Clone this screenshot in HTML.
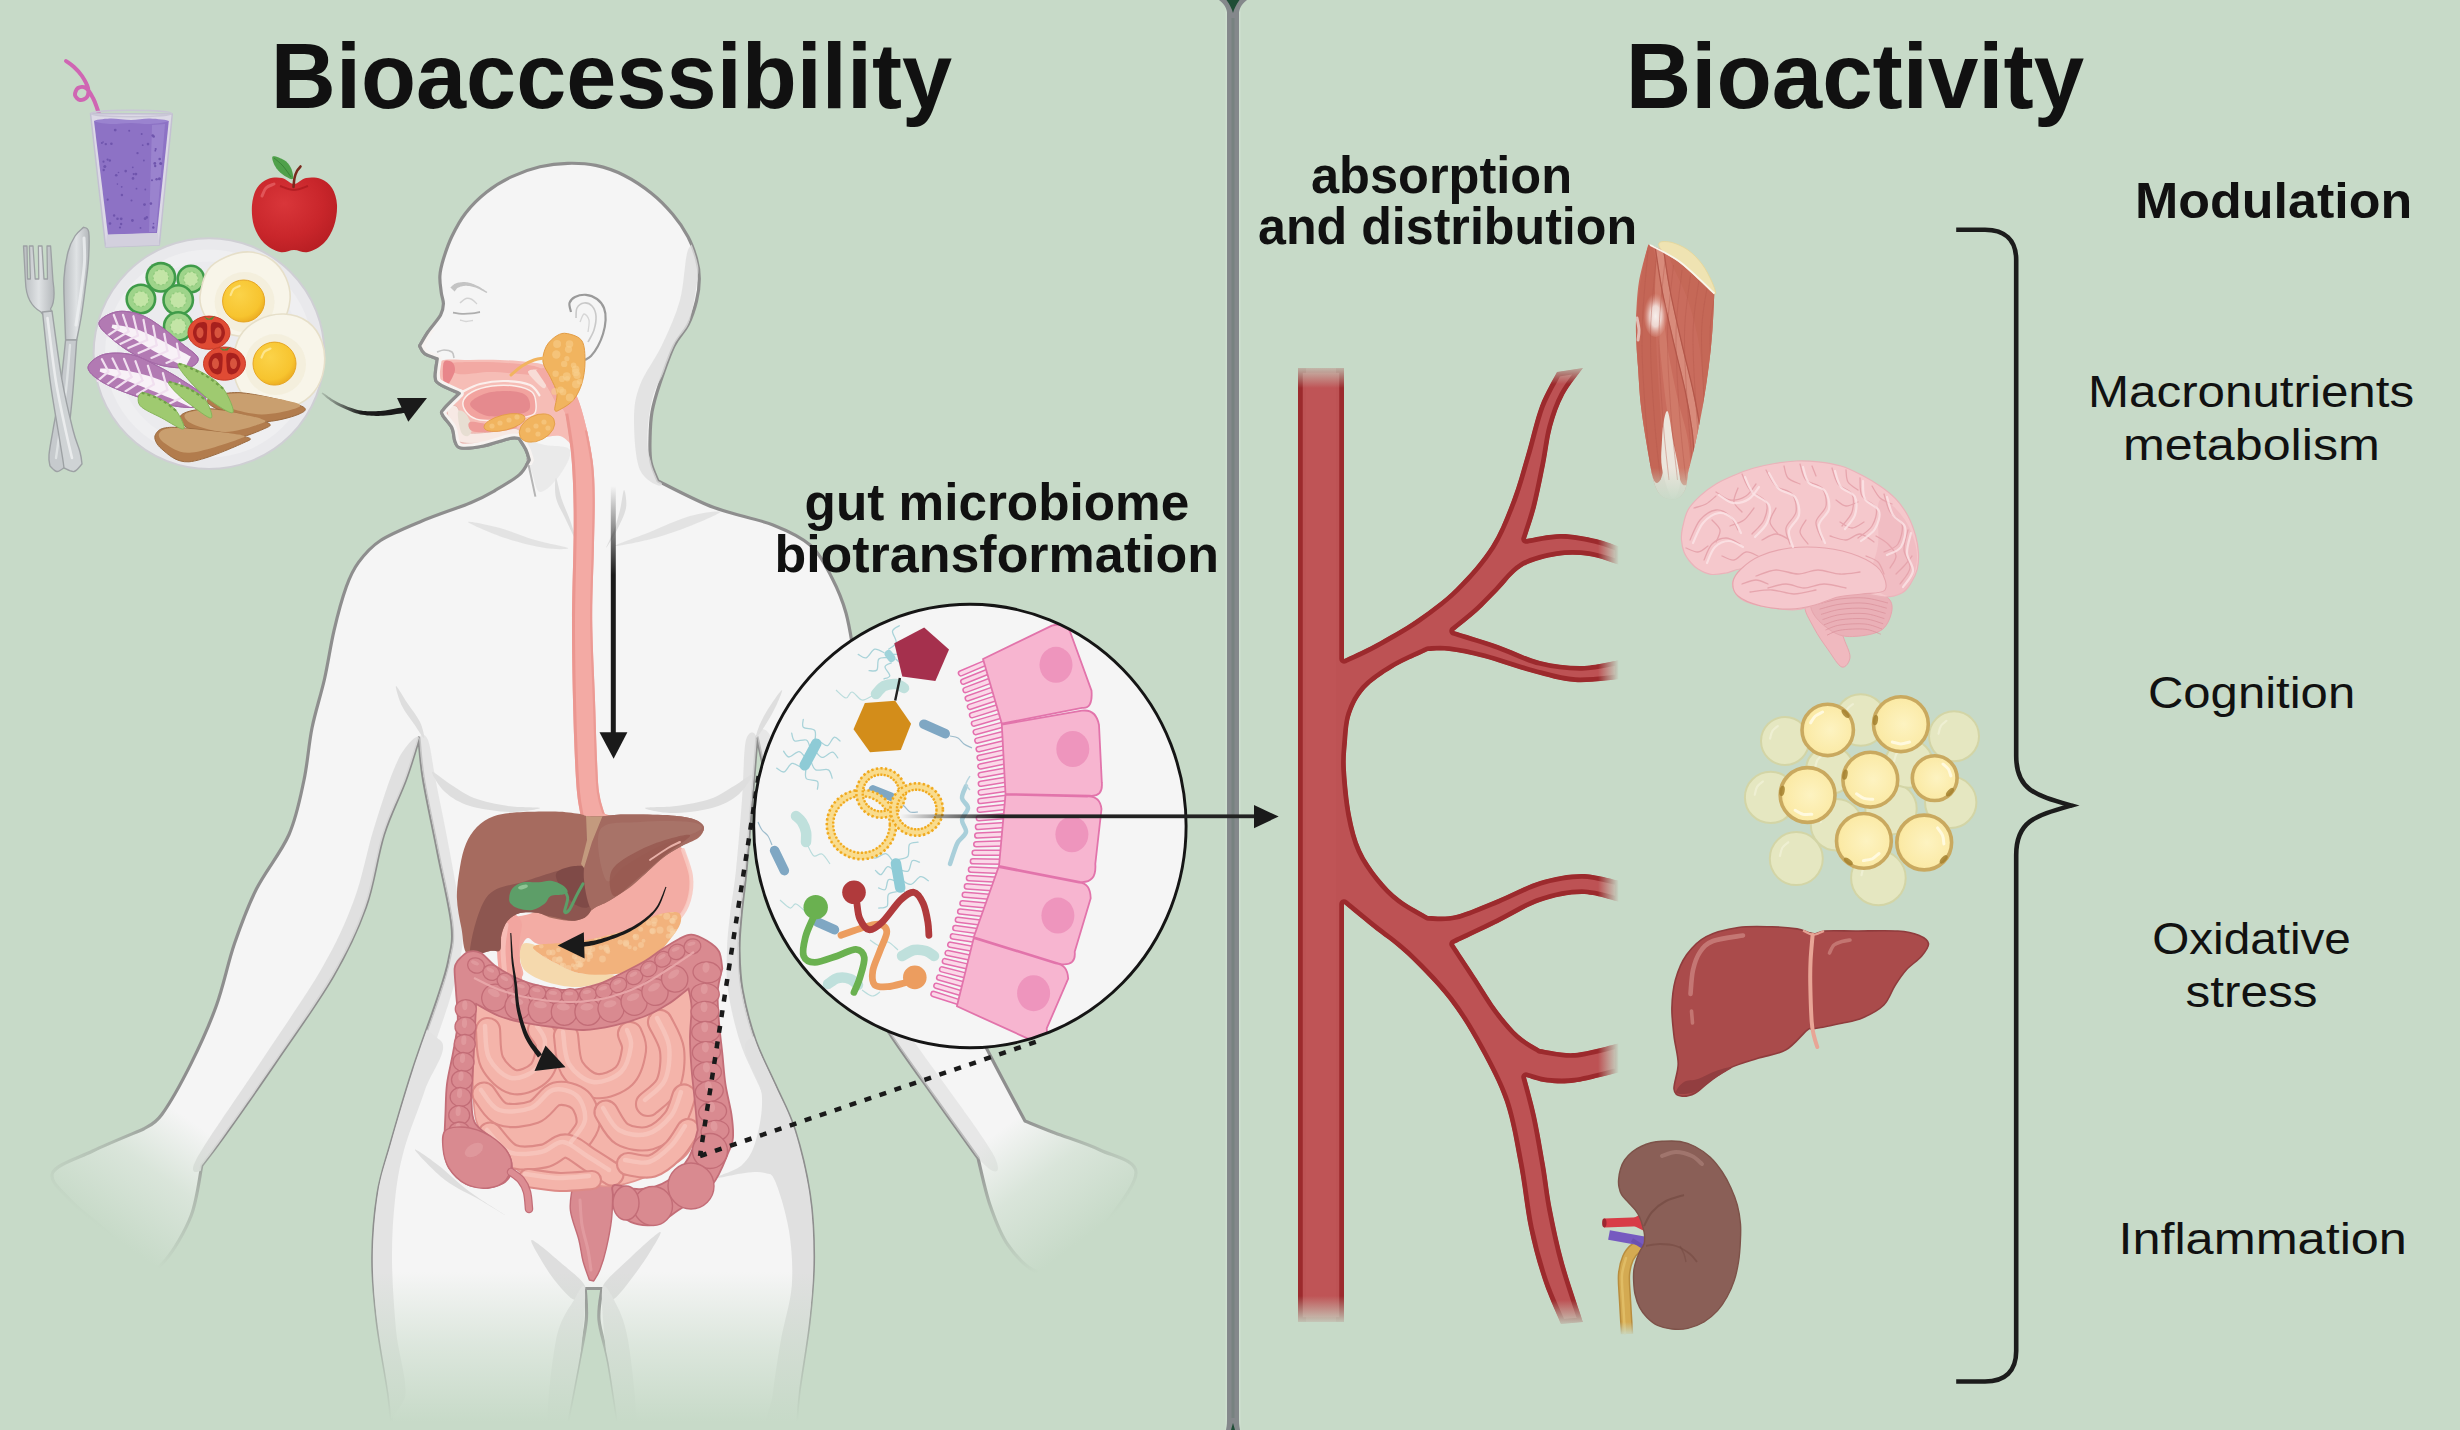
<!DOCTYPE html>
<html><head><meta charset="utf-8"><title>Bioaccessibility and Bioactivity</title>
<style>html,body{margin:0;padding:0;background:#c7dac8;}svg{display:block}text{font-family:"Liberation Sans",sans-serif;}</style>
</head><body>
<svg width="2460" height="1430" viewBox="0 0 2460 1430">
<defs>
<linearGradient id="fadeDown" x1="0" y1="0" x2="0" y2="1"><stop offset="0" stop-color="#c7dac8" stop-opacity="0"/><stop offset="1" stop-color="#c7dac8"/></linearGradient>
<linearGradient id="fadeUp" x1="0" y1="1" x2="0" y2="0"><stop offset="0" stop-color="#c7dac8" stop-opacity="0"/><stop offset="1" stop-color="#c7dac8"/></linearGradient>
<linearGradient id="fadeRight" x1="0" y1="0" x2="1" y2="0"><stop offset="0" stop-color="#c7dac8" stop-opacity="0"/><stop offset="1" stop-color="#c7dac8"/></linearGradient>

<linearGradient id="legFade" gradientUnits="userSpaceOnUse" x1="0" y1="1272" x2="0" y2="1422"><stop offset="0" stop-color="#c7dac8" stop-opacity="0"/><stop offset="0.5" stop-color="#c7dac8" stop-opacity="0.55"/><stop offset="1" stop-color="#c7dac8"/></linearGradient>
<linearGradient id="lhFade" gradientUnits="userSpaceOnUse" x1="190" y1="1120" x2="110" y2="1235"><stop offset="0" stop-color="#c7dac8" stop-opacity="0"/><stop offset="0.45" stop-color="#c7dac8" stop-opacity="0.6"/><stop offset="1" stop-color="#c7dac8"/></linearGradient>
<linearGradient id="rhFade" gradientUnits="userSpaceOnUse" x1="1000" y1="1130" x2="1082" y2="1240"><stop offset="0" stop-color="#c7dac8" stop-opacity="0"/><stop offset="0.45" stop-color="#c7dac8" stop-opacity="0.6"/><stop offset="1" stop-color="#c7dac8"/></linearGradient>

<linearGradient id="esoG" x1="0" y1="0" x2="1" y2="0"><stop offset="0" stop-color="#ec958f"/><stop offset="0.3" stop-color="#f4b0a9"/><stop offset="0.7" stop-color="#f4b0a9"/><stop offset="1" stop-color="#ea928c"/></linearGradient>
<linearGradient id="arrFadeR" gradientUnits="userSpaceOnUse" x1="322" y1="0" x2="362" y2="0"><stop offset="0" stop-color="#1a1a1a" stop-opacity="0.15"/><stop offset="1" stop-color="#1a1a1a"/></linearGradient>
<linearGradient id="arrFadeDown" gradientUnits="userSpaceOnUse" x1="0" y1="486" x2="0" y2="575"><stop offset="0" stop-color="#1a1a1a" stop-opacity="0"/><stop offset="1" stop-color="#1a1a1a"/></linearGradient>

<clipPath id="circClip"><ellipse cx="969.9" cy="826" rx="216.2" ry="221.7"/></clipPath>
<linearGradient id="longArr" gradientUnits="userSpaceOnUse" x1="900" y1="0" x2="1000" y2="0"><stop offset="0" stop-color="#222" stop-opacity="0"/><stop offset="0.5" stop-color="#222" stop-opacity="0.55"/><stop offset="1" stop-color="#222"/></linearGradient>

<radialGradient id="yolkG" cx="0.4" cy="0.35" r="0.7"><stop offset="0" stop-color="#fbd349"/><stop offset="0.75" stop-color="#f7c42f"/><stop offset="1" stop-color="#eaa91f"/></radialGradient>
<radialGradient id="appleG" cx="0.38" cy="0.35" r="0.75"><stop offset="0" stop-color="#d9363a"/><stop offset="0.6" stop-color="#c9262b"/><stop offset="1" stop-color="#b51d22"/></radialGradient>
<linearGradient id="silverG" x1="0" y1="0" x2="1" y2="0"><stop offset="0" stop-color="#b9bdc0"/><stop offset="0.5" stop-color="#dfe2e4"/><stop offset="1" stop-color="#b4b8bb"/></linearGradient>

<radialGradient id="fatG" cx="0.55" cy="0.5" r="0.6"><stop offset="0" stop-color="#fdf3c1"/><stop offset="0.8" stop-color="#fbeaa6"/><stop offset="1" stop-color="#f3d98a"/></radialGradient>
<radialGradient id="tendG" cx="0.5" cy="0.55" r="0.5"><stop offset="0" stop-color="#f7efec"/><stop offset="0.45" stop-color="#f2e2dd" stop-opacity="0.9"/><stop offset="1" stop-color="#e3a79b" stop-opacity="0"/></radialGradient>
<linearGradient id="muscFade" gradientUnits="userSpaceOnUse" x1="0" y1="468" x2="0" y2="502"><stop offset="0" stop-color="#c7dac8" stop-opacity="0"/><stop offset="1" stop-color="#c7dac8"/></linearGradient>
</defs>
<rect x="0" y="0" width="2460" height="1430" fill="#c7dac8"/>
<rect x="1225.5" y="0" width="15" height="1430" fill="#cfe0d0"/>
<rect x="1227" y="0" width="12" height="1430" fill="#84888b"/>
<rect x="1231.5" y="12" width="3" height="1410" fill="#778280"/>
<path d="M1219,0 C1226,5 1227.5,11 1227.5,18 L1238.5,18 C1238.5,11 1240,5 1247,0 Z" fill="#84888b"/>
<path d="M1226.5,0 C1230,5 1232,9 1233,13 C1234,9 1236,5 1239.5,0 Z" fill="#1f4d36"/>
<path d="M1226,1430 C1227,1425 1227,1422 1227,1418 L1239,1418 C1239,1422 1239,1425 1240,1430 Z" fill="#84888b"/>
<path d="M1231,1430 L1233,1423 L1235,1430 Z" fill="#1f4d36"/>
<defs><path id="bodyPath" d="M419.6,345.8C420.4,347.1 421.6,351.4 424.5,353.6C427.4,355.8 435.2,357.9 437.3,358.8C436.9,361.8 434.9,372.5 435.2,376.7C435.5,380.9 435.4,381.2 439.4,384C443.4,386.8 456,391.8 459.3,393.4C456.7,396 446.4,405.6 443.6,409.2C440.8,412.8 441.1,411.9 442.5,415C443.9,418.1 449.9,423.6 452,428C454.1,432.4 453.5,438.4 455,441.7C456.5,445 456.3,447.3 461,448C465.7,448.7 475.3,447.6 483.4,446C491.5,444.4 503.8,439.8 509.7,438.5C515.6,437.2 517.5,438.5 519,438.5C520.2,440.4 524.3,446.4 526,450C527.7,453.6 528.8,458.3 529.3,460C527.7,462.4 525.2,469.5 519.5,474.6C513.8,479.7 503.1,485.8 495,490.5C486.9,495.2 482.9,497.6 470.7,502.7C458.5,507.8 437,514.7 422,521C407,527.3 391.1,533.6 380.5,540.5C369.9,547.4 364.2,554.7 358.5,562.4C352.8,570.1 350.4,575.4 346.3,586.8C342.2,598.2 337.6,615.2 334,630.7C330.4,646.2 328.1,663.3 324.4,679.5C320.7,695.7 315.4,711.2 312,728C308.6,744.8 307.8,762.2 304,780C300.2,797.8 296.9,816.3 289,834.5C281.1,852.7 265.5,870.8 256.4,889C247.3,907.2 241.2,924.2 234.5,943.6C227.8,963 223.7,985.5 216.4,1005.5C209.2,1025.5 200.1,1045.4 191,1063.6C181.9,1081.8 169.7,1103.6 161.8,1114.5C153.9,1125.4 146.6,1126.6 143.6,1129C135.1,1132.7 107.8,1143.7 92.7,1151C77.6,1158.3 56.5,1164.5 52.7,1172.7C48.9,1180.9 60.5,1189.6 70,1200C79.5,1210.4 97.7,1223.2 110,1235C122.3,1246.8 134.3,1266.8 143.6,1271C152.8,1275.2 157.6,1269.2 165.5,1260C173.4,1250.8 184.9,1231.8 191,1216C197.1,1200.2 200,1173.9 201.8,1165.5C205.4,1160.7 211.5,1153.4 223.6,1136.4C235.7,1119.4 256.3,1090.3 274.5,1063.6C292.7,1036.9 317.5,1002.5 332.7,976.4C347.9,950.3 357,930.6 365.5,907C374,883.4 376.9,855.7 383.6,834.5C390.3,813.3 399.6,796.1 405.5,780C411.4,763.9 416.8,745 419,738C419.8,745 420.4,760.9 423.6,780C426.8,799.1 433.3,828.5 438,852.7C442.7,876.9 450.2,907.1 452,925C453.8,942.9 451.3,947.8 449,960C446.7,972.2 444.1,979.5 438,998C431.9,1016.5 420.5,1046.7 412.7,1071C404.9,1095.3 396.8,1123.2 391,1143.6C385.2,1164 381,1174.5 378,1193.4C375,1212.3 373,1235.7 372.8,1256.8C372.6,1277.9 374.4,1297.1 377,1320C379.6,1342.9 386.1,1375.7 388.6,1394C391.1,1412.3 391.4,1424 392,1430L566,1430C568.1,1418.8 575.5,1380.8 578.9,1362.5C582.3,1344.2 585.2,1332.3 586.3,1320C587.3,1307.7 585.4,1293.8 585.2,1288.5L602,1288.5C601.5,1293.8 597.9,1307.7 599,1320C600.1,1332.3 605.2,1344.2 608.5,1362.5C611.8,1380.8 617.2,1418.8 619,1430L796,1430C796.5,1424 796.5,1412.3 798.7,1394C800.9,1375.7 806.8,1342.9 809.3,1320C811.8,1297.1 813.5,1277.9 813.5,1256.8C813.5,1235.7 812.5,1214.5 809.3,1193.4C806.1,1172.3 800.2,1148.1 794.5,1130C788.8,1111.9 781.6,1100 775,1085C768.4,1070 760.5,1055.8 755,1040C749.5,1024.2 744.7,1005 742,990C739.3,975 739.2,962.5 739,950C738.8,937.5 739.8,928.3 741,915C742.2,901.7 744.2,889.2 746,870C747.8,850.8 750.2,822.2 752,800C753.8,777.8 756.2,747.5 757,737C759.2,745.8 762.8,766.2 770,790C777.2,813.8 787.5,850.8 800,880C812.5,909.2 829.7,938.8 845,965C860.3,991.2 877,1014.8 892,1037C907,1059.2 920.7,1077.8 935,1098C949.3,1118.2 970.8,1148 978,1158C980,1165.8 985,1190.5 990,1205C995,1219.5 1000,1233.8 1008,1245C1016,1256.2 1026.8,1269.2 1038,1272C1049.2,1274.8 1063.8,1269.8 1075,1262C1086.2,1254.2 1094.8,1240 1105,1225C1115.2,1210 1136.8,1184.5 1136,1172C1135.2,1159.5 1113.5,1156.5 1100,1150C1086.5,1143.5 1067.5,1137.8 1055,1133C1042.5,1128.2 1030,1123 1025,1121C1019.3,1110.3 1003.5,1081.3 991,1057C978.5,1032.7 962.7,1002.8 950,975C937.3,947.2 925.8,919.2 915,890C904.2,860.8 893.2,828.3 885,800C876.8,771.7 871,743.3 866,720C861,696.7 858.3,677.8 855,660C851.7,642.2 849.8,626.7 846,613C842.2,599.3 837.8,589.2 832,578C826.2,566.8 820.8,554.6 811,545.8C801.2,537 789.2,531.4 773,525C756.8,518.6 733.2,514.9 714,507.6C694.8,500.3 667.3,485.4 658,481C656.8,477.8 652.3,468.8 651,462C649.7,455.2 649.8,448.3 650,440C650.2,431.7 650.3,421.5 652,412C653.7,402.5 656.3,394 660,383C663.7,372 669.3,355.5 674,345.8C678.7,336.1 684.2,332.3 688,324.8C691.8,317.3 694.6,308.7 696.5,301C698.4,293.3 699.3,285.7 699.3,278.7C699.3,271.7 698.4,266 696.5,259C694.6,252 692,244.1 688,236.7C684,229.2 678.8,221.5 672.7,214.3C666.7,207.1 659.9,199.9 651.7,193.4C643.6,186.9 633.1,179.9 623.8,175.2C614.5,170.5 605.1,167.4 595.8,165.4C586.5,163.4 577.1,163.1 567.8,163.3C558.5,163.5 549.2,164.6 539.9,166.8C530.6,169 520.8,172.4 511.9,176.6C503,180.8 494.4,185.9 486.7,192C479,198.1 471.5,205.5 465.7,212.9C459.9,220.3 455.4,229 451.7,236.7C448,244.4 445.4,252.5 443.4,259C441.4,265.5 440.2,270.3 439.9,275.9C439.5,281.5 440.7,288 441.3,292.7C441.9,297.4 443.5,300.1 443.4,303.8C443.3,307.5 443.2,310.3 440.6,315C438,319.7 431.5,326.7 428,331.8C424.5,336.9 421,343.5 419.6,345.8Z"/></defs>
<clipPath id="bodyClip"><use href="#bodyPath"/></clipPath>
<use href="#bodyPath" fill="#f5f5f5" stroke="#8e8e8e" stroke-width="3.2" stroke-linejoin="round"/>
<g clip-path="url(#bodyClip)"><path d="M700,250C700.3,261.7 695.3,300.8 690,320C684.7,339.2 674.3,351.7 668,365C661.7,378.3 655.3,385.8 652,400C648.7,414.2 646.3,435.8 648,450C649.7,464.2 663.3,481.7 662,485C660.7,488.3 644.7,480.8 640,470C635.3,459.2 634,434.2 634,420C634,405.8 635.3,397.5 640,385C644.7,372.5 655.3,359.2 662,345C668.7,330.8 675.7,315.8 680,300C684.3,284.2 684.7,258.3 688,250C691.3,241.7 699.7,238.3 700,250Z" fill="#dedede" opacity="0.8"/>
<path d="M517,440C519.3,435.8 536.2,443.3 545,445C553.8,446.7 567.5,445 570,450C572.5,455 565,468 560,475C555,482 544.8,492.8 540,492C535.2,491.2 534.8,478.7 531,470C527.2,461.3 514.7,444.2 517,440Z" fill="#dedede" opacity="0.45"/>
<path d="M419,738C420.2,743 410.8,773 405,790C399.2,807 390.5,820 384,840C377.5,860 374.5,886.7 366,910C357.5,933.3 348.2,953.7 333,980C317.8,1006.3 293,1041.3 275,1068C257,1094.7 236.5,1123.3 225,1140C213.5,1156.7 210.8,1164.7 206,1168C201.2,1171.3 186.7,1178 196,1160C205.3,1142 241,1092 262,1060C283,1028 306.7,994.7 322,968C337.3,941.3 345.3,923.3 354,900C362.7,876.7 366.7,851.3 374,828C381.3,804.7 390.5,775 398,760C405.5,745 417.8,733 419,738Z" fill="#dedede" opacity="0.9"/>
<path d="M757,737C757.3,747 764.5,770.5 772,795C779.5,819.5 789.5,855.2 802,884C814.5,912.8 831.7,942 847,968C862.3,994 871.8,1008 894,1040C916.2,1072 963.7,1141.3 980,1160C996.3,1178.7 1004.3,1173.7 992,1152C979.7,1130.3 928,1062.3 906,1030C884,997.7 875,983.7 860,958C845,932.3 828.3,904 816,876C803.7,848 793.7,813.5 786,790C778.3,766.5 774.8,743.8 770,735C765.2,726.2 756.7,727 757,737Z" fill="#dedede" opacity="0.6"/>
<path d="M419,740C418.3,747 420.8,763.2 424,782C427.2,800.8 433.3,829.2 438,853C442.7,876.8 450.2,907.2 452,925C453.8,942.8 451.3,947.8 449,960C446.7,972.2 444,979.5 438,998C432,1016.5 420.8,1046.8 413,1071C405.2,1095.2 396.8,1122.7 391,1143C385.2,1163.3 381,1174 378,1193C375,1212 373.2,1235.8 373,1257C372.8,1278.2 374.8,1309.5 377,1320C379.2,1330.5 384.8,1330.5 386,1320C387.2,1309.5 383.5,1277.8 384,1257C384.5,1236.2 386,1213.5 389,1195C392,1176.5 396.2,1165.8 402,1146C407.8,1126.2 416.2,1100 424,1076C431.8,1052 443,1021.3 449,1002C455,982.7 457.8,972.8 460,960C462.2,947.2 463.7,942.8 462,925C460.3,907.2 454.3,876.8 450,853C445.7,829.2 439.7,800.8 436,782C432.3,763.2 430.8,747 428,740C425.2,733 419.7,733 419,740Z" fill="#dedede" opacity="0.7"/>
<path d="M757,740C758,750 753.8,778.3 752,800C750.2,821.7 747.8,850.8 746,870C744.2,889.2 742.2,901.7 741,915C739.8,928.3 738.8,937.5 739,950C739.2,962.5 739.3,975 742,990C744.7,1005 749.5,1024.2 755,1040C760.5,1055.8 768.5,1070 775,1085C781.5,1100 788.3,1112 794,1130C799.7,1148 805.8,1171.8 809,1193C812.2,1214.2 813,1235.8 813,1257C813,1278.2 811.7,1309.5 809,1320C806.3,1330.5 798.5,1330.5 797,1320C795.5,1309.5 800.3,1277.8 800,1257C799.7,1236.2 798.3,1215.5 795,1195C791.7,1174.5 785.8,1151.8 780,1134C774.2,1116.2 766.7,1103.3 760,1088C753.3,1072.7 745.3,1058.3 740,1042C734.7,1025.7 730.2,1005.3 728,990C725.8,974.7 726.7,962.5 727,950C727.3,937.5 728.5,928.3 730,915C731.5,901.7 734,889.2 736,870C738,850.8 740.3,821.7 742,800C743.7,778.3 743.5,750 746,740C748.5,730 756,730 757,740Z" fill="#dedede" opacity="0.85"/>
<path d="M748,1040C736.6,1049.1 760.5,1077.8 761.8,1094.5C763.1,1111.2 759.3,1128.2 756,1140C752.7,1151.8 748.8,1158.7 742,1165C735.2,1171.3 714.5,1176.7 715,1178C715.5,1179.3 736.7,1173.8 745,1173C753.3,1172.2 759.9,1171.5 765,1173C770.1,1174.5 771.4,1172.2 775.4,1181.8C779.4,1191.4 786.3,1213.5 789,1230.8C791.7,1248.1 793.1,1267.2 791.8,1285.4C790.4,1303.6 784.1,1321.8 780.9,1340C777.7,1358.2 774.5,1379.4 772.7,1394.4C770.9,1409.4 760.5,1424.1 770,1430C779.5,1435.9 819.2,1468.3 830,1430C840.8,1391.7 835,1265 835,1200C835,1135 844.5,1066.7 830,1040C815.5,1013.3 759.4,1030.9 748,1040Z" fill="#e0e0e0"/>
<path d="M440,1040C450.8,1048.3 431,1071.7 425,1090C419,1108.3 409,1131.7 404,1150C399,1168.3 397,1181.7 395,1200C393,1218.3 391.8,1238.3 392,1260C392.2,1281.7 394,1306.7 396,1330C398,1353.3 410,1388.3 404,1400C398,1411.7 367.3,1460 360,1400C352.7,1340 346.7,1100 360,1040C373.3,980 429.2,1031.7 440,1040Z" fill="#e3e3e3"/>
<path d="M415,1150C416.2,1152.5 434.2,1171.7 445,1180C455.8,1188.3 470,1194.2 480,1200C490,1205.8 506.7,1216.3 505,1215C503.3,1213.7 481.2,1200.3 470,1192C458.8,1183.7 447.2,1172 438,1165C428.8,1158 413.8,1147.5 415,1150Z" fill="#dedede"/>
<path d="M532,1240C535.3,1240.7 551.2,1254.3 560,1262C568.8,1269.7 582.5,1279.7 585,1286C587.5,1292.3 579.8,1300.7 575,1300C570.2,1299.3 561.8,1289 556,1282C550.2,1275 544,1265 540,1258C536,1251 528.7,1239.3 532,1240Z" fill="#dedede"/>
<path d="M660,1232C656.7,1233 639.5,1249 630,1258C620.5,1267 606,1279 603,1286C600,1293 607.2,1301.3 612,1300C616.8,1298.7 625.7,1286 632,1278C638.3,1270 645.3,1259.7 650,1252C654.7,1244.3 663.3,1231 660,1232Z" fill="#dedede"/>
<path d="M585,1290C584,1279.7 578.8,1291.7 574,1300C569.2,1308.3 560.3,1318.3 556,1340C551.7,1361.7 545.7,1415 548,1430C550.3,1445 564.7,1441.3 570,1430C575.3,1418.7 577.5,1385.3 580,1362C582.5,1338.7 586,1300.3 585,1290Z" fill="#e4e4e4"/>
<path d="M602,1290C603.2,1279.7 609.7,1291.7 614,1300C618.3,1308.3 624.3,1318.3 628,1340C631.7,1361.7 638,1415 636,1430C634,1445 620.8,1441.3 616,1430C611.2,1418.7 609.3,1385.3 607,1362C604.7,1338.7 600.8,1300.3 602,1290Z" fill="#e4e4e4"/>
<path d="M468,522C467.2,520.3 488.8,525 500,528C511.2,531 523.7,536.7 535,540C546.3,543.3 566.3,546.7 568,548C569.7,549.3 555.5,549.7 545,548C534.5,546.3 517.8,542.3 505,538C492.2,533.7 468.8,523.7 468,522Z" fill="#dedede" opacity="0.8"/>
<path d="M720,512C720,513.7 700.8,521.7 690,526C679.2,530.3 667.5,534.7 655,538C642.5,541.3 615.8,547 615,546C614.2,545 637.5,537 650,532C662.5,527 678.3,519.3 690,516C701.7,512.7 720,510.3 720,512Z" fill="#dedede" opacity="0.8"/>
<path d="M556,478C557,478.3 559.7,493 562,500C564.3,507 567.7,513.3 570,520C572.3,526.7 576.7,540 576,540C575.3,540 569.3,527 566,520C562.7,513 557.7,505 556,498C554.3,491 555,477.7 556,478Z" fill="#dedede"/>
<path d="M624,490C623,490.3 621.7,503.3 620,510C618.3,516.7 616.3,523.7 614,530C611.7,536.3 605.5,548 606,548C606.5,548 613.7,536.7 617,530C620.3,523.3 624.8,514.7 626,508C627.2,501.3 625,489.7 624,490Z" fill="#dedede"/>
<path d="M432,772C431.2,773.3 438.7,786.3 445,792C451.3,797.7 459.2,802.7 470,806C480.8,809.3 498.3,811.7 510,812C521.7,812.3 540.3,809 540,808C539.7,807 519,807.7 508,806C497,804.3 483.7,801.7 474,798C464.3,794.3 457,788.3 450,784C443,779.7 432.8,770.7 432,772Z" fill="#dedede"/>
<path d="M752,775C752.7,776.5 744.7,789.5 738,795C731.3,800.5 723,805 712,808C701,811 683.2,813 672,813C660.8,813 644.3,809.2 645,808C645.7,806.8 665.2,807.5 676,806C686.8,804.5 700.3,802.3 710,799C719.7,795.7 727,790 734,786C741,782 751.3,773.5 752,775Z" fill="#dedede"/>
<path d="M396,686C397,685.7 404,698 408,704C412,710 417.3,716.3 420,722C422.7,727.7 425,737.7 424,738C423,738.3 417.7,729.3 414,724C410.3,718.7 405,712.3 402,706C399,699.7 395,686.3 396,686Z" fill="#dedede"/>
<path d="M782,690C781,690 773.7,700.3 770,706C766.3,711.7 762.3,718.7 760,724C757.7,729.3 755,738 756,738C757,738 762.7,729.3 766,724C769.3,718.7 773.3,711.7 776,706C778.7,700.3 783,690 782,690Z" fill="#dedede"/></g>
<path d="M527,458C527.7,461 529.6,469.6 531,476C532.4,482.4 534.7,493.2 535.4,496.6" fill="none" stroke="#b5b5b5" stroke-width="2"/>
<path d="M571,312C570.8,310.5 568.8,305.5 569.5,303C570.2,300.5 572.2,298.4 575,297C577.8,295.6 582.3,294.5 586,294.8C589.7,295.1 594,296.8 597,299C600,301.2 602.6,304.5 604,308C605.4,311.5 605.8,315.7 605.6,320C605.4,324.3 604.3,329.7 603,334C601.7,338.3 600,342.3 598,346C596,349.7 593.2,353.7 591,356C588.8,358.3 586,359.3 585,360" fill="none" stroke="#9a9a9a" stroke-width="2.2"/>
<path d="M576,318C576.2,316.3 575.7,310.5 577,308C578.3,305.5 581.5,303.3 584,303C586.5,302.7 590,303.8 592,306C594,308.2 595.7,312 596,316C596.3,320 595.3,325.7 594,330C592.7,334.3 589,340 588,342" fill="none" stroke="#c9c9c9" stroke-width="1.6"/>
<path d="M580,322C580.7,320.7 582.5,314.3 584,314C585.5,313.7 588.3,317 589,320C589.7,323 588.2,330 588,332" fill="none" stroke="#d6d6d6" stroke-width="1.3"/>
<path d="M454.6,291.6L454.9,291.2L455.2,290.8L455.5,290.3L455.8,289.9L456.2,289.4L456.5,289L456.8,288.6L457.2,288.3L457.5,288L457.9,287.7L458.5,287.4L459.2,287.2L459.9,286.9L460.7,286.6L461.5,286.4L462.4,286.2L463.3,286L464.2,285.9L465,285.8L465.9,285.8L466.8,285.8L467.7,285.9L468.6,285.9L469.5,286.1L470.5,286.2L471.5,286.4L472.5,286.7L473.5,287L474.5,287.3L475.5,287.6L476.6,288L477.8,288.5L479.1,289.1L480.4,289.8L481.7,290.4L482.9,291.1L484.1,291.7L485.1,292.2L486,292.7L486.7,293L487.3,292L486.7,291.6L485.9,291L484.9,290.4L483.8,289.6L482.6,288.9L481.3,288.1L480.1,287.3L478.8,286.6L477.6,286L476.5,285.4L475.4,284.9L474.4,284.5L473.3,284.1L472.3,283.7L471.2,283.3L470.2,283L469.2,282.8L468.2,282.5L467.1,282.3L466.1,282.2L465,282.1L464,282.1L462.9,282.1L461.8,282.2L460.8,282.3L459.8,282.4L458.8,282.6L457.8,282.8L456.9,283L456.1,283.3L455.1,283.7L454.3,284.1L453.5,284.7L452.8,285.2L452.2,285.7L451.7,286.2L451.2,286.7L450.9,287L450.6,287.3L450.4,287.4Z" fill="#c4c4c4"/>
<path d="M453,312.6C454.5,312.8 458.8,313.7 462,313.8C465.2,313.9 469,313.7 472,313.4C475,313.1 478.7,312.2 480,312" fill="none" stroke="#aeaeae" stroke-width="1.8"/>
<path d="M460,303C461,302.2 464,299.1 466,298.5C468,297.9 470.2,298.6 472,299.5C473.8,300.4 476.2,303.2 477,304" fill="none" stroke="#d2d2d2" stroke-width="1.4"/>
<path d="M460,320C461,320.2 463.8,321.4 466,321.5C468.2,321.6 471.8,320.7 473,320.5" fill="none" stroke="#d6d6d6" stroke-width="1.3"/>
<path d="M437,352C438.2,351.7 441.5,350 444,350C446.5,350 450.3,350.7 452,352C453.7,353.3 453.7,357 454,358" fill="none" stroke="#c4c4c4" stroke-width="1.6"/>
<rect x="350" y="1262" width="490" height="168" fill="url(#legFade)"/>
<path d="M250,1060L120,1090L20,1140L20,1300L200,1300L240,1180Z" fill="url(#lhFade)"/>
<path d="M935,1075L1060,1095L1180,1140L1180,1300L1000,1300L955,1190Z" fill="url(#rhFade)"/>
<g clip-path="url(#bodyClip)"><path d="M441,361C446,358.3 460.2,360.2 470,360C479.8,359.8 490.3,359.7 500,360C509.7,360.3 520.3,361 528,362C535.7,363 541.3,363 546,366C550.7,369 552.7,374.7 556,380C559.3,385.3 563,391.7 566,398C569,404.3 571.7,411 574,418C576.3,425 580,435.3 580,440C580,444.7 577.3,446.7 574,446C570.7,445.3 565.7,437.3 560,436C554.3,434.7 546.7,437.3 540,438C533.3,438.7 526.7,439.2 520,440C513.3,440.8 507,442 500,443C493,444 484.3,445.8 478,446C471.7,446.2 465.7,446.7 462,444C458.3,441.3 458.7,434.7 456,430C453.3,425.3 447.7,419.7 446,416C444.3,412.3 444,411.3 446,408C448,404.7 458.3,399.7 458,396C457.7,392.3 447,389.3 444,386C441,382.7 440.5,380.2 440,376C439.5,371.8 436,363.7 441,361Z" fill="#f6bdb6"/>
<path d="M446,364C449.7,362 467.7,362 480,362C492.3,362 510,363 520,364C530,365 535.3,366 540,368C544.7,370 551.3,375 548,376C544.7,377 529.7,374.7 520,374C510.3,373.3 500.3,372 490,372C479.7,372 465.3,375.3 458,374C450.7,372.7 442.3,366 446,364Z" fill="#f2a9a3"/>
<path d="M444,362C445.5,359.3 450.2,360.7 452,362C453.8,363.3 455.2,367 455,370C454.8,373 452.5,377.3 451,380C449.5,382.7 447.3,386.3 446,386C444.7,385.7 443.3,382 443,378C442.7,374 442.5,364.7 444,362Z" fill="#e8868a"/>
<path d="M462,392C465,390.7 472.8,385.8 480,384C487.2,382.2 496.7,380.8 505,381C513.3,381.2 524.2,382.5 530,385C535.8,387.5 538.3,394.2 540,396" fill="none" stroke="#fbefec" stroke-width="2.2"/>
<path d="M463,402C463.7,398.3 467.2,394.7 472,392C476.8,389.3 484.8,387 492,386C499.2,385 508.3,385 515,386C521.7,387 528.5,389 532,392C535.5,395 535.7,400.3 536,404C536.3,407.7 536.7,411.7 534,414C531.3,416.3 525.7,417 520,418C514.3,419 506.7,419.7 500,420C493.3,420.3 485.3,421 480,420C474.7,419 470.8,417 468,414C465.2,411 462.3,405.7 463,402Z" fill="#f2a39f" stroke="#fbeeea" stroke-width="1.5"/>
<path d="M470,404C470,400.5 478.2,396.2 484,394C489.8,391.8 498.3,391 505,391C511.7,391 519.8,391.8 524,394C528.2,396.2 529.7,401 530,404C530.3,407 530.2,410 526,412C521.8,414 512,415.5 505,416C498,416.5 489.8,417 484,415C478.2,413 470,407.5 470,404Z" fill="#e58a8e"/>
<path d="M447,410C447.2,405 453.5,404.7 456,406C458.5,407.3 460.3,413.7 462,418C463.7,422.3 461.3,429.7 466,432C470.7,434.3 482,432.7 490,432C498,431.3 509,427.3 514,428C519,428.7 524,433.7 520,436C516,438.3 499.3,440.8 490,442C480.7,443.2 469.8,444 464,443C458.2,442 457.8,441.5 455,436C452.2,430.5 446.8,415 447,410Z" fill="#f7e9e4" stroke="#e7b8b2" stroke-width="1"/>
<path d="M458,412C458.8,409 463.7,411.3 466,414C468.3,416.7 471.7,424.3 472,428C472.3,431.7 469.8,435.3 468,436C466.2,436.7 462.7,436 461,432C459.3,428 457.2,415 458,412Z" fill="#e7ded2"/>
<path d="M470,422C473,420.8 483,424 490,424C497,424 507.7,421.3 512,422C516.3,422.7 519.3,426.3 516,428C512.7,429.7 499.3,431.5 492,432C484.7,432.5 475.7,432.7 472,431C468.3,429.3 467,423.2 470,422Z" fill="#ee9c99"/>
<path d="M536,370C538,373 544.5,382.3 548,388C551.5,393.7 554.1,399.7 557,404C559.9,408.3 563.1,406.4 565.3,413.6C567.5,420.8 569.5,441.4 570.4,447L593,464C592,458.4 589.7,441.6 587,430.4C584.3,419.2 580.5,404.5 577,396.8C573.5,389.1 570.2,389.1 566,384C561.8,378.9 554.3,369 552,366Z" fill="#f3aaa4"/>
<path d="M528,372C528,369.7 535,369 538,370C541,371 544.8,375 546,378C547.2,381 546.3,387 545,388C543.7,389 540.8,386.7 538,384C535.2,381.3 528,374.3 528,372Z" fill="#f8dcd6"/></g><clipPath id="faceRect"><rect x="400" y="330" width="150" height="135"/></clipPath><g clip-path="url(#faceRect)"><g clip-path="url(#bodyClip)"><use href="#bodyPath" fill="none" stroke="#f7f3f1" stroke-width="9" stroke-linejoin="round"/></g><use href="#bodyPath" fill="none" stroke="#8e8e8e" stroke-width="3.2" stroke-linejoin="round"/></g>
<path d="M536,370C538,373 544.5,382.3 548,388C551.5,393.7 554.1,399.7 557,404C559.9,408.3 563.1,406.4 565.3,413.6C567.5,420.8 569.1,435.8 570.4,447C571.7,458.2 572.3,466.7 572.9,480.7C573.5,494.7 573.9,507.8 573.7,531C573.6,554.2 572.1,591.8 572,620C571.9,648.2 572.5,676.7 573,700C573.5,723.3 574.3,744.7 575,760C575.7,775.3 576.2,783.3 577,792C577.8,800.7 578.8,805.7 580,812C581.2,818.3 583.3,827 584,830L612,830C610.7,827 606.2,818.3 604,812C601.8,805.7 600.2,800.7 599,792C597.8,783.3 597.7,775.3 597,760C596.3,744.7 595.8,723.3 595,700C594.2,676.7 592.4,645.3 592.2,620C592,594.7 593.5,568.4 593.9,548C594.3,527.6 594.9,511.5 594.7,497.5C594.6,483.5 594.3,475.2 593,464C591.7,452.8 589.7,441.6 587,430.4C584.3,419.2 580.5,404.5 577,396.8C573.5,389.1 570.2,389.1 566,384C561.8,378.9 554.3,369 552,366Z" fill="#f3aaa4"/>
<path d="M566.8,413.6C567.6,419.2 570.6,435.8 571.9,447C573.2,458.2 573.8,466.7 574.4,480.7C575,494.7 575.4,507.8 575.2,531C575.1,554.2 573.6,591.8 573.5,620C573.4,648.2 574,676.7 574.5,700C575,723.3 575.8,744.7 576.5,760C577.2,775.3 577.7,783.3 578.5,792C579.3,800.7 580.3,805.7 581.5,812C582.7,818.3 584.8,827 585.5,830" fill="none" stroke="#eb9690" stroke-width="3"/>
<path d="M585.9,430.4C586.9,436 590.6,452.8 591.9,464C593.2,475.2 593.5,483.5 593.6,497.5C593.8,511.5 593.2,527.6 592.8,548C592.4,568.4 590.9,594.7 591.1,620C591.3,645.3 593.1,676.7 593.9,700C594.7,723.3 595.2,744.7 595.9,760C596.6,775.3 596.7,783.3 597.9,792C599.1,800.7 600.7,805.7 602.9,812C605.1,818.3 609.6,827 610.9,830" fill="none" stroke="#ec9a94" stroke-width="2.2"/>
<path d="M567.4,333.6C571.6,334.5 579.1,336.3 582,341C584.9,345.7 585,355 585,362C585,369 583.9,376.7 582,383C580.1,389.3 577.2,395.4 573.7,399.7C570.2,404 564.1,407.3 561,409C557.9,410.7 555.5,412.6 554.8,410C554.1,407.4 557.6,398.8 556.9,393.4C556.2,388 552.9,382.9 550.6,377.7C548.3,372.5 543.7,367.2 543,362C542.3,356.8 544.1,350.6 546.4,346.2C548.7,341.8 553.4,337.8 556.9,335.7C560.4,333.6 563.2,332.7 567.4,333.6Z" fill="#f1b45f" stroke="#e39d45" stroke-width="1"/>
<path d="M544,358C542.3,358.3 537.7,358.7 534,360C530.3,361.3 525.8,363.5 522,366C518.2,368.5 512.8,373.5 511,375" fill="none" stroke="#f1b45f" stroke-width="3" stroke-linecap="round"/>
<circle cx="555.6" cy="373.7" r="3.2" fill="#f7cf8e" opacity="0.55"/>
<circle cx="567.3" cy="378.8" r="2.7" fill="#f7cf8e" opacity="0.55"/>
<circle cx="556.3" cy="354.5" r="4.2" fill="#f7cf8e" opacity="0.55"/>
<circle cx="563" cy="391.9" r="3.4" fill="#f7cf8e" opacity="0.55"/>
<circle cx="568.5" cy="349.3" r="3.6" fill="#f7cf8e" opacity="0.55"/>
<circle cx="575.8" cy="372.4" r="3.8" fill="#f7cf8e" opacity="0.55"/>
<circle cx="569.5" cy="344" r="3.8" fill="#f7cf8e" opacity="0.55"/>
<circle cx="566.9" cy="358.7" r="2.6" fill="#f7cf8e" opacity="0.55"/>
<circle cx="575.7" cy="369.3" r="3.8" fill="#f7cf8e" opacity="0.55"/>
<circle cx="576.1" cy="384.3" r="4.1" fill="#f7cf8e" opacity="0.55"/>
<circle cx="560.6" cy="389.7" r="3.3" fill="#f7cf8e" opacity="0.55"/>
<circle cx="562" cy="378.9" r="3.1" fill="#f7cf8e" opacity="0.55"/>
<circle cx="564.2" cy="363.9" r="3.2" fill="#f7cf8e" opacity="0.55"/>
<circle cx="566.7" cy="376.2" r="4" fill="#f7cf8e" opacity="0.55"/>
<circle cx="569.8" cy="397.6" r="4" fill="#f7cf8e" opacity="0.55"/>
<circle cx="579.7" cy="381.6" r="2.9" fill="#f7cf8e" opacity="0.55"/>
<circle cx="577" cy="375.3" r="3.7" fill="#f7cf8e" opacity="0.55"/>
<circle cx="554.8" cy="391.6" r="3.5" fill="#f7cf8e" opacity="0.55"/>
<circle cx="557.1" cy="343.9" r="4" fill="#f7cf8e" opacity="0.55"/>
<circle cx="573.6" cy="365.4" r="2.8" fill="#f7cf8e" opacity="0.55"/>
<ellipse cx="504.5" cy="422.5" rx="21" ry="7.6" fill="#f1b45f" stroke="#e39d45" stroke-width="0.8" transform="rotate(-14 504.5 422.5)"/>
<ellipse cx="537" cy="428" rx="19" ry="12.5" fill="#f1b45f" stroke="#e39d45" stroke-width="0.8" transform="rotate(-28 537 428)"/>
<circle cx="492" cy="426" r="2.6" fill="#f7cf8e" opacity="0.55"/>
<circle cx="500" cy="423" r="2.6" fill="#f7cf8e" opacity="0.55"/>
<circle cx="509" cy="420" r="2.6" fill="#f7cf8e" opacity="0.55"/>
<circle cx="517" cy="417" r="2.6" fill="#f7cf8e" opacity="0.55"/>
<circle cx="528" cy="430" r="2.6" fill="#f7cf8e" opacity="0.55"/>
<circle cx="536" cy="426" r="2.6" fill="#f7cf8e" opacity="0.55"/>
<circle cx="544" cy="422" r="2.6" fill="#f7cf8e" opacity="0.55"/>
<circle cx="538" cy="434" r="2.6" fill="#f7cf8e" opacity="0.55"/>
<circle cx="548" cy="428" r="2.6" fill="#f7cf8e" opacity="0.55"/>
<path d="M596,815C605.2,808.3 626,824.8 640,830C654,835.2 671.7,838.3 680,846C688.3,853.7 688.7,867 690,876C691.3,885 690,893 688,900C686,907 683.5,912.5 678,918C672.5,923.5 663.8,928.7 655,933C646.2,937.3 635.2,941.5 625,944C614.8,946.5 604.3,947.3 594,948C583.7,948.7 572.3,948.7 563,948C553.7,947.3 543.8,945.7 538,944C532.2,942.3 530.7,937.7 528,938C525.3,938.3 523.3,942.3 522,946C520.7,949.7 519.8,955.2 520,960C520.2,964.8 524.3,971.3 523,975C521.7,978.7 515.2,983.3 512,982C508.8,980.7 506,973.3 504,967C502,960.7 500.2,950.5 500,944C499.8,937.5 500.7,932.3 503,928C505.3,923.7 509.2,920.5 514,918C518.8,915.5 524.3,916 532,913C539.7,910 551.2,907.2 560,900C568.8,892.8 579,884.2 585,870C591,855.8 586.8,821.7 596,815Z" fill="#f3aca4"/>
<path d="M683,850C684.3,854.3 690,867.7 691,876C692,884.3 691,893 689,900C687,907 683.8,913 679,918C674.2,923 663.2,928 660,930" fill="none" stroke="#f8c9c1" stroke-width="4" stroke-linecap="round" opacity="0.9"/>
<path d="M511,925C510.5,929.2 507.8,940 508,950C508.2,960 510.3,975 512,985C513.7,995 517,1005.8 518,1010" fill="none" stroke="#f2a59f" stroke-width="22" stroke-linecap="round"/>
<path d="M506,925C505.5,929.2 503,940 503,950C503,960 505.5,979.2 506,985" fill="none" stroke="#f7c3bb" stroke-width="5" stroke-linecap="round" opacity="0.8"/>
<path d="M523,943.8C525.6,941.8 532.8,943.9 535.4,945.4C538,946.9 534.9,949.9 538.5,953C542.1,956.1 550.3,960.5 557,963.8C563.7,967.1 569.8,971.2 578.5,973C587.2,974.8 603.3,973.6 609.2,974.6C615.1,975.6 618.9,977.1 613.8,979.2C608.7,981.3 589.5,986.5 578.5,987C567.5,987.5 556.5,984.9 547.7,982.3C539,979.7 530.6,975.6 526,971.5C521.4,967.4 520.5,962.3 520,957.7C519.5,953.1 520.4,945.8 523,943.8Z" fill="#f5d9ad"/>
<path d="M535.4,945.4C540.8,943.6 559.8,943.7 570.8,942.3C581.8,940.9 591.2,939.4 601.5,937C611.8,934.6 623.3,931.3 632.3,927.7C641.3,924.1 647.9,918 655.4,915.4C662.9,912.8 672.7,911.4 677,912.3C681.3,913.2 681.5,917.3 681,921C680.5,924.7 678.1,928.8 673.8,934.6C669.5,940.4 662.3,950.1 655.4,956C648.5,961.9 640,966.9 632.3,970C624.6,973.1 618.2,974.1 609.2,974.6C600.2,975.1 587.2,974.8 578.5,973C569.8,971.2 563.7,967.1 557,963.8C550.3,960.5 542.1,956.1 538.5,953C534.9,949.9 530,947.2 535.4,945.4Z" fill="#f2b27c"/>
<clipPath id="pancClip"><path d="M535.4,945.4C540.8,943.6 559.8,943.7 570.8,942.3C581.8,940.9 591.2,939.4 601.5,937C611.8,934.6 623.3,931.3 632.3,927.7C641.3,924.1 647.9,918 655.4,915.4C662.9,912.8 672.7,911.4 677,912.3C681.3,913.2 681.5,917.3 681,921C680.5,924.7 678.1,928.8 673.8,934.6C669.5,940.4 662.3,950.1 655.4,956C648.5,961.9 640,966.9 632.3,970C624.6,973.1 618.2,974.1 609.2,974.6C600.2,975.1 587.2,974.8 578.5,973C569.8,971.2 563.7,967.1 557,963.8C550.3,960.5 542.1,956.1 538.5,953C534.9,949.9 530,947.2 535.4,945.4Z"/></clipPath>
<g clip-path="url(#pancClip)"><circle cx="626" cy="942.8" r="3.3" fill="#f8d3a8" opacity="0.5"/><circle cx="670.1" cy="928.7" r="3.5" fill="#f8d3a8" opacity="0.5"/><circle cx="544" cy="959.6" r="3.5" fill="#f8d3a8" opacity="0.5"/><circle cx="629.6" cy="947.1" r="2.2" fill="#f8d3a8" opacity="0.5"/><circle cx="604.7" cy="932.7" r="2.9" fill="#f8d3a8" opacity="0.5"/><circle cx="619.2" cy="920.2" r="2.3" fill="#f8d3a8" opacity="0.5"/><circle cx="578.6" cy="963.9" r="3.2" fill="#f8d3a8" opacity="0.5"/><circle cx="562" cy="965.1" r="2.2" fill="#f8d3a8" opacity="0.5"/><circle cx="625.2" cy="922.1" r="2" fill="#f8d3a8" opacity="0.5"/><circle cx="660.3" cy="913.8" r="2.3" fill="#f8d3a8" opacity="0.5"/><circle cx="675.6" cy="931.4" r="2.5" fill="#f8d3a8" opacity="0.5"/><circle cx="672.7" cy="921" r="3.1" fill="#f8d3a8" opacity="0.5"/><circle cx="568.3" cy="968" r="3.1" fill="#f8d3a8" opacity="0.5"/><circle cx="673.4" cy="932.9" r="2.5" fill="#f8d3a8" opacity="0.5"/><circle cx="589.8" cy="934.8" r="2.2" fill="#f8d3a8" opacity="0.5"/><circle cx="549" cy="952.4" r="3" fill="#f8d3a8" opacity="0.5"/><circle cx="540.5" cy="967.9" r="2.5" fill="#f8d3a8" opacity="0.5"/><circle cx="582.8" cy="959.2" r="2.8" fill="#f8d3a8" opacity="0.5"/><circle cx="583.6" cy="947.5" r="3.1" fill="#f8d3a8" opacity="0.5"/><circle cx="547.9" cy="975.6" r="2" fill="#f8d3a8" opacity="0.5"/><circle cx="643.5" cy="940.7" r="2" fill="#f8d3a8" opacity="0.5"/><circle cx="648.7" cy="922.8" r="2.9" fill="#f8d3a8" opacity="0.5"/><circle cx="541.3" cy="946.2" r="2.3" fill="#f8d3a8" opacity="0.5"/><circle cx="671.8" cy="909.7" r="3.2" fill="#f8d3a8" opacity="0.5"/><circle cx="668.3" cy="936.1" r="2.6" fill="#f8d3a8" opacity="0.5"/><circle cx="589" cy="947.2" r="3.2" fill="#f8d3a8" opacity="0.5"/><circle cx="554.9" cy="965.7" r="3.3" fill="#f8d3a8" opacity="0.5"/><circle cx="658.6" cy="908.4" r="3.5" fill="#f8d3a8" opacity="0.5"/><circle cx="552.6" cy="952.6" r="3" fill="#f8d3a8" opacity="0.5"/><circle cx="666.7" cy="916.2" r="3.5" fill="#f8d3a8" opacity="0.5"/><circle cx="615.2" cy="931.6" r="2.5" fill="#f8d3a8" opacity="0.5"/><circle cx="564.5" cy="939.8" r="2.2" fill="#f8d3a8" opacity="0.5"/><circle cx="635.1" cy="948.6" r="2.3" fill="#f8d3a8" opacity="0.5"/><circle cx="546.7" cy="976.4" r="2.9" fill="#f8d3a8" opacity="0.5"/><circle cx="596" cy="935.2" r="3" fill="#f8d3a8" opacity="0.5"/><circle cx="654" cy="924.1" r="2.7" fill="#f8d3a8" opacity="0.5"/><circle cx="547.7" cy="973.7" r="2.1" fill="#f8d3a8" opacity="0.5"/><circle cx="608.1" cy="951.8" r="2.2" fill="#f8d3a8" opacity="0.5"/><circle cx="641" cy="945.1" r="3" fill="#f8d3a8" opacity="0.5"/><circle cx="648.7" cy="914" r="2.7" fill="#f8d3a8" opacity="0.5"/><circle cx="560.6" cy="967.2" r="2.5" fill="#f8d3a8" opacity="0.5"/><circle cx="602.5" cy="959" r="3.4" fill="#f8d3a8" opacity="0.5"/><circle cx="674.7" cy="917.5" r="2.8" fill="#f8d3a8" opacity="0.5"/><circle cx="640.7" cy="929.2" r="2.5" fill="#f8d3a8" opacity="0.5"/><circle cx="595.7" cy="932.2" r="2.6" fill="#f8d3a8" opacity="0.5"/><circle cx="676.4" cy="934.1" r="3" fill="#f8d3a8" opacity="0.5"/><circle cx="608.9" cy="934.5" r="2.1" fill="#f8d3a8" opacity="0.5"/><circle cx="577.6" cy="959.6" r="3.4" fill="#f8d3a8" opacity="0.5"/><circle cx="589.9" cy="955.8" r="3.2" fill="#f8d3a8" opacity="0.5"/><circle cx="635.9" cy="937" r="3.2" fill="#f8d3a8" opacity="0.5"/><circle cx="590.2" cy="953" r="2.4" fill="#f8d3a8" opacity="0.5"/><circle cx="607" cy="949.8" r="3.1" fill="#f8d3a8" opacity="0.5"/><circle cx="580.6" cy="964.2" r="3" fill="#f8d3a8" opacity="0.5"/><circle cx="620.1" cy="919.8" r="2.9" fill="#f8d3a8" opacity="0.5"/><circle cx="574.6" cy="956.8" r="2.7" fill="#f8d3a8" opacity="0.5"/><circle cx="652.7" cy="931.1" r="3.3" fill="#f8d3a8" opacity="0.5"/><circle cx="588" cy="951.6" r="3.2" fill="#f8d3a8" opacity="0.5"/><circle cx="654.3" cy="920.5" r="3.3" fill="#f8d3a8" opacity="0.5"/><circle cx="660" cy="930.1" r="3.6" fill="#f8d3a8" opacity="0.5"/><circle cx="672" cy="920.5" r="2.8" fill="#f8d3a8" opacity="0.5"/><circle cx="562.9" cy="966.1" r="3.5" fill="#f8d3a8" opacity="0.5"/><circle cx="605.9" cy="947.5" r="3.2" fill="#f8d3a8" opacity="0.5"/><circle cx="640.8" cy="918.7" r="3.2" fill="#f8d3a8" opacity="0.5"/><circle cx="620.2" cy="942.1" r="2.7" fill="#f8d3a8" opacity="0.5"/><circle cx="626.1" cy="943.9" r="3" fill="#f8d3a8" opacity="0.5"/><circle cx="639.4" cy="914.2" r="2.3" fill="#f8d3a8" opacity="0.5"/><circle cx="600.9" cy="947.7" r="2.4" fill="#f8d3a8" opacity="0.5"/><circle cx="634.7" cy="936.3" r="2.1" fill="#f8d3a8" opacity="0.5"/><circle cx="605.1" cy="931.9" r="2.1" fill="#f8d3a8" opacity="0.5"/><circle cx="558.4" cy="949.9" r="2.3" fill="#f8d3a8" opacity="0.5"/><circle cx="566.7" cy="937.7" r="2.7" fill="#f8d3a8" opacity="0.5"/><circle cx="592.5" cy="949.1" r="2.9" fill="#f8d3a8" opacity="0.5"/><circle cx="572.8" cy="965.2" r="2" fill="#f8d3a8" opacity="0.5"/><circle cx="595.9" cy="936.6" r="2.7" fill="#f8d3a8" opacity="0.5"/><circle cx="555.9" cy="968.2" r="2.6" fill="#f8d3a8" opacity="0.5"/><circle cx="545" cy="964.3" r="2.2" fill="#f8d3a8" opacity="0.5"/><circle cx="615.2" cy="932.5" r="2.9" fill="#f8d3a8" opacity="0.5"/><circle cx="672.2" cy="930.7" r="2.7" fill="#f8d3a8" opacity="0.5"/><circle cx="652.2" cy="931.1" r="2.6" fill="#f8d3a8" opacity="0.5"/><circle cx="559.6" cy="959" r="2.9" fill="#f8d3a8" opacity="0.5"/><circle cx="672.1" cy="935.8" r="3" fill="#f8d3a8" opacity="0.5"/><circle cx="588.5" cy="959.9" r="2" fill="#f8d3a8" opacity="0.5"/><circle cx="554.9" cy="959.5" r="3" fill="#f8d3a8" opacity="0.5"/><circle cx="559.4" cy="960.2" r="3.4" fill="#f8d3a8" opacity="0.5"/><circle cx="591.9" cy="943.1" r="2.4" fill="#f8d3a8" opacity="0.5"/><circle cx="580.2" cy="965.2" r="2.6" fill="#f8d3a8" opacity="0.5"/><circle cx="672.6" cy="933.8" r="3" fill="#f8d3a8" opacity="0.5"/><circle cx="575.9" cy="966.9" r="2.8" fill="#f8d3a8" opacity="0.5"/><circle cx="597.3" cy="937.6" r="3.6" fill="#f8d3a8" opacity="0.5"/><circle cx="607.9" cy="933.1" r="2.8" fill="#f8d3a8" opacity="0.5"/></g>
<clipPath id="livClip"><path d="M476.9,826.9C481.5,822.3 487.1,818.6 493.8,816.2C500.5,813.8 506.6,813.1 516.9,812.3C527.2,811.5 545.1,811.2 555.4,811.5C565.7,811.8 573.1,813 578.5,813.8C583.9,814.6 583.6,815.8 587.7,816.2C591.8,816.6 596.9,816.5 603,816.2C609.1,815.9 613.3,814.7 624.6,814.6C635.9,814.5 659.3,814.6 670.8,815.4C682.3,816.2 688.3,817.3 693.8,819.2C699.3,821.1 703,823.8 703.8,826.9C704.6,830 702.5,834.4 698.5,837.7C694.5,841 685.9,843.6 680,846.9C674.1,850.2 668.4,853.6 663,857.7C657.6,861.8 652.8,866.9 647.7,871.5C642.6,876.1 638.7,880.5 632.3,885.4C625.9,890.3 615.6,896.9 609.2,900.8C602.8,904.6 597.9,905.7 593.8,908.5C589.7,911.3 588.4,915.7 584.6,917.7C580.8,919.8 576.4,920.8 570.8,920.8C565.2,920.8 556.2,919 550.8,917.7C545.4,916.4 543.6,913.8 538.5,913C533.4,912.2 525.1,911.7 520,913C514.9,914.3 510.8,917.2 507.7,920.8C504.6,924.4 502.8,929.7 501.5,934.6C500.2,939.5 501.8,947.3 500,950C498.2,952.7 496.2,950 490.8,950.8C485.4,951.6 472.6,958.3 467.7,954.6C462.8,950.9 463.3,938 461.5,928.5C459.7,919 457.1,908 456.9,897.7C456.6,887.4 458.5,875.9 460,866.9C461.5,857.9 463.2,850.5 466,843.8C468.8,837.1 472.3,831.5 476.9,826.9Z"/></clipPath>
<path d="M476.9,826.9C481.5,822.3 487.1,818.6 493.8,816.2C500.5,813.8 506.6,813.1 516.9,812.3C527.2,811.5 545.1,811.2 555.4,811.5C565.7,811.8 573.1,813 578.5,813.8C583.9,814.6 583.6,815.8 587.7,816.2C591.8,816.6 596.9,816.5 603,816.2C609.1,815.9 613.3,814.7 624.6,814.6C635.9,814.5 659.3,814.6 670.8,815.4C682.3,816.2 688.3,817.3 693.8,819.2C699.3,821.1 703,823.8 703.8,826.9C704.6,830 702.5,834.4 698.5,837.7C694.5,841 685.9,843.6 680,846.9C674.1,850.2 668.4,853.6 663,857.7C657.6,861.8 652.8,866.9 647.7,871.5C642.6,876.1 638.7,880.5 632.3,885.4C625.9,890.3 615.6,896.9 609.2,900.8C602.8,904.6 597.9,905.7 593.8,908.5C589.7,911.3 588.4,915.7 584.6,917.7C580.8,919.8 576.4,920.8 570.8,920.8C565.2,920.8 556.2,919 550.8,917.7C545.4,916.4 543.6,913.8 538.5,913C533.4,912.2 525.1,911.7 520,913C514.9,914.3 510.8,917.2 507.7,920.8C504.6,924.4 502.8,929.7 501.5,934.6C500.2,939.5 501.8,947.3 500,950C498.2,952.7 496.2,950 490.8,950.8C485.4,951.6 472.6,958.3 467.7,954.6C462.8,950.9 463.3,938 461.5,928.5C459.7,919 457.1,908 456.9,897.7C456.6,887.4 458.5,875.9 460,866.9C461.5,857.9 463.2,850.5 466,843.8C468.8,837.1 472.3,831.5 476.9,826.9Z" fill="#a66b5f"/>
<g clip-path="url(#livClip)"><path d="M470,960C467.7,951 476.7,911.2 486,898C495.3,884.8 510.7,886.2 526,881C541.3,875.8 567.3,867.2 578,867C588.7,866.8 588.7,871.2 590,880C591.3,888.8 594.3,914.2 586,920C577.7,925.8 553,914.8 540,915C527,915.2 514.7,914.8 508,921C501.3,927.2 506.3,945.5 500,952C493.7,958.5 472.3,969 470,960Z" fill="#8d5650"/>
<path d="M556,874C557.7,868 576,865 582,866C588,867 590.7,873.3 592,880C593.3,886.7 593.3,902.3 590,906C586.7,909.7 577.7,907.3 572,902C566.3,896.7 554.3,880 556,874Z" fill="#7f4a47"/>
<path d="M591,816C600,810 622.7,813.7 640,814C657.3,814.3 684,815.7 695,818C706,820.3 708.5,823 706,828C703.5,833 689.7,840.7 680,848C670.3,855.3 659.7,863 648,872C636.3,881 619.3,895.7 610,902C600.7,908.3 596.3,913.7 592,910C587.7,906.3 585,890 584,880C583,870 584.8,860.7 586,850C587.2,839.3 582,822 591,816Z" fill="#a36a60"/>
<path d="M600,830C605.7,820.3 625,823.3 640,822C655,820.7 680,820.7 690,822C700,823.3 705,826 700,830C695,834 672.5,840 660,846C647.5,852 634,860.3 625,866C616,871.7 610.2,886 606,880C601.8,874 594.3,839.7 600,830Z" fill="#b07e74" opacity="0.45"/>
<path d="M612,870C616.3,862.3 630,855.3 640,850C650,844.7 663.7,840.3 672,838C680.3,835.7 691.3,833 690,836C688.7,839 673,848.7 664,856C655,863.3 644.3,873.3 636,880C627.7,886.7 618,897.7 614,896C610,894.3 607.7,877.7 612,870Z" fill="#96584f" opacity="0.8"/>
<path d="M650,860C653,858 663,851 668,848C673,845 678,843 680,842" fill="none" stroke="#e8b1a8" stroke-width="2" stroke-linecap="round"/>
<path d="M586,815L603,815L592,842L584,868L581,864L587,840Z" fill="#c39a7e"/></g>
<path d="M509.2,897.7C509.4,895.2 510,891.1 512.3,888.5C514.6,885.9 518.6,883.3 523,882.3C527.4,881.3 533.9,882.5 538.5,882.3C543.1,882 546.7,880.3 550.8,880.8C554.9,881.3 560.2,883.6 563,885.4C565.8,887.2 567.7,890 567.7,891.5C567.7,893 565.8,893.9 563,894.6C560.2,895.4 553.9,894.5 550.8,896C547.7,897.5 547.7,901.5 544.6,903.8C541.5,906.1 536.6,909.2 532.3,910C527.9,910.8 522.1,909.5 518.5,908.5C514.9,907.5 512.4,905.6 510.8,903.8C509.2,902 508.9,900.2 509.2,897.7Z" fill="#5d9e68"/>
<path d="M563,888.5C563.8,890 567.4,893.9 567.7,897.7C568,901.5 564.4,909.5 564.6,911.5C564.9,913.5 567.1,912.8 569.2,910C571.3,907.2 574.7,899 577,894.6C579.3,890.2 582,885.6 583,883.8" fill="none" stroke="#5d9e68" stroke-width="3" stroke-linecap="round"/>
<ellipse cx="523" cy="887" rx="5" ry="2" fill="#8ec494" transform="rotate(-15 523 887)"/>
<path d="M574,1160C573.8,1164.2 573.1,1176.6 572.5,1185C571.9,1193.4 569.3,1201.1 570.4,1210.3C571.5,1219.5 576.8,1231.5 578.9,1240C581,1248.5 581.2,1254.3 583,1261C584.8,1267.7 588.3,1276.8 589.4,1280L593.7,1281C594.8,1279.1 597.9,1274.9 600,1269.5C602.1,1264.1 604.4,1256.9 606.3,1248.4C608.2,1240 610.5,1228.5 611.6,1218.8C612.7,1209.1 612.6,1199.8 612.7,1190C612.8,1180.2 612.1,1165 612,1160Z" fill="#d98b91" stroke="#c36d77" stroke-width="1.4" stroke-linejoin="round"/>
<path d="M580,1200C580.3,1204.2 580.7,1216.7 582,1225C583.3,1233.3 586.5,1242.5 588,1250C589.5,1257.5 590.5,1266.7 591,1270" fill="none" stroke="#e6a5a8" stroke-width="3" stroke-linecap="round" opacity="0.6"/>
<path d="M476,1004C480.5,996.7 487.2,1012.2 500,1016C512.8,1019.8 534,1025.5 553,1027C572,1028.5 594.8,1028.8 614,1025C633.2,1021.2 655.3,1009.8 668,1004C680.7,998.2 685.7,984 690,990C694.3,996 692.8,1021.7 694,1040C695.2,1058.3 697.7,1081.7 697,1100C696.3,1118.3 696.7,1138 690,1150C683.3,1162 669.5,1166 657,1172C644.5,1178 627.3,1184 615,1186C602.7,1188 593.7,1183.5 583,1184C572.3,1184.5 561.5,1191 551,1189C540.5,1187 529.3,1179.3 520,1172C510.7,1164.7 502.3,1153.7 495,1145C487.7,1136.3 479.7,1134.2 476,1120C472.3,1105.8 473,1079.3 473,1060C473,1040.7 471.5,1011.3 476,1004Z" fill="#f4b4aa" stroke="#e2938e" stroke-width="1.5"/>
<path d="M488,1030C488.7,1035.3 487.7,1053.3 492,1062C496.3,1070.7 506,1080.3 514,1082C522,1083.7 534.3,1078 540,1072C545.7,1066 548,1053 548,1046C548,1039 541.3,1032.7 540,1030" fill="none" stroke="#dd8a86" stroke-width="26.2" stroke-linecap="round" stroke-linejoin="round"/><path d="M488,1030C488.7,1035.3 487.7,1053.3 492,1062C496.3,1070.7 506,1080.3 514,1082C522,1083.7 534.3,1078 540,1072C545.7,1066 548,1053 548,1046C548,1039 541.3,1032.7 540,1030" fill="none" stroke="#f4b4aa" stroke-width="22" stroke-linecap="round" stroke-linejoin="round"/>
<path d="M566,1036C567,1041.3 567,1059.7 572,1068C577,1076.3 587.3,1084.7 596,1086C604.7,1087.3 617.7,1082 624,1076C630.3,1070 633,1057 634,1050C635,1043 630.7,1036.7 630,1034" fill="none" stroke="#dd8a86" stroke-width="26.2" stroke-linecap="round" stroke-linejoin="round"/><path d="M566,1036C567,1041.3 567,1059.7 572,1068C577,1076.3 587.3,1084.7 596,1086C604.7,1087.3 617.7,1082 624,1076C630.3,1070 633,1057 634,1050C635,1043 630.7,1036.7 630,1034" fill="none" stroke="#f4b4aa" stroke-width="22" stroke-linecap="round" stroke-linejoin="round"/>
<path d="M660,1022C662,1026.7 670.7,1039.7 672,1050C673.3,1060.3 672,1075 668,1084C664,1093 651.3,1100.7 648,1104" fill="none" stroke="#dd8a86" stroke-width="26.2" stroke-linecap="round" stroke-linejoin="round"/><path d="M660,1022C662,1026.7 670.7,1039.7 672,1050C673.3,1060.3 672,1075 668,1084C664,1093 651.3,1100.7 648,1104" fill="none" stroke="#f4b4aa" stroke-width="22" stroke-linecap="round" stroke-linejoin="round"/>
<path d="M484,1094C487,1097.3 493.7,1111 502,1114C510.3,1117 525,1115.3 534,1112C543,1108.7 548.3,1096 556,1094C563.7,1092 574.7,1095 580,1100C585.3,1105 589,1116.3 588,1124C587,1131.7 576.3,1142.3 574,1146" fill="none" stroke="#dd8a86" stroke-width="25.2" stroke-linecap="round" stroke-linejoin="round"/><path d="M484,1094C487,1097.3 493.7,1111 502,1114C510.3,1117 525,1115.3 534,1112C543,1108.7 548.3,1096 556,1094C563.7,1092 574.7,1095 580,1100C585.3,1105 589,1116.3 588,1124C587,1131.7 576.3,1142.3 574,1146" fill="none" stroke="#f4b4aa" stroke-width="21" stroke-linecap="round" stroke-linejoin="round"/>
<path d="M606,1112C608.7,1115.7 614.7,1129.7 622,1134C629.3,1138.3 641.3,1140.3 650,1138C658.7,1135.7 668.3,1127 674,1120C679.7,1113 682.3,1100 684,1096" fill="none" stroke="#dd8a86" stroke-width="25.2" stroke-linecap="round" stroke-linejoin="round"/><path d="M606,1112C608.7,1115.7 614.7,1129.7 622,1134C629.3,1138.3 641.3,1140.3 650,1138C658.7,1135.7 668.3,1127 674,1120C679.7,1113 682.3,1100 684,1096" fill="none" stroke="#f4b4aa" stroke-width="21" stroke-linecap="round" stroke-linejoin="round"/>
<path d="M490,1134C493.7,1137.7 503,1152.3 512,1156C521,1159.7 535,1157.7 544,1156C553,1154.3 558.3,1145.3 566,1146C573.7,1146.7 582.3,1155.3 590,1160C597.7,1164.7 608.3,1171.7 612,1174" fill="none" stroke="#dd8a86" stroke-width="25.2" stroke-linecap="round" stroke-linejoin="round"/><path d="M490,1134C493.7,1137.7 503,1152.3 512,1156C521,1159.7 535,1157.7 544,1156C553,1154.3 558.3,1145.3 566,1146C573.7,1146.7 582.3,1155.3 590,1160C597.7,1164.7 608.3,1171.7 612,1174" fill="none" stroke="#f4b4aa" stroke-width="21" stroke-linecap="round" stroke-linejoin="round"/>
<path d="M628,1164C632,1164.3 644.3,1168.3 652,1166C659.7,1163.7 668,1156 674,1150C680,1144 685.7,1133.3 688,1130" fill="none" stroke="#dd8a86" stroke-width="24.2" stroke-linecap="round" stroke-linejoin="round"/><path d="M628,1164C632,1164.3 644.3,1168.3 652,1166C659.7,1163.7 668,1156 674,1150C680,1144 685.7,1133.3 688,1130" fill="none" stroke="#f4b4aa" stroke-width="20" stroke-linecap="round" stroke-linejoin="round"/>
<path d="M528,1178C533.3,1178.7 549.3,1181.7 560,1182C570.7,1182.3 586.7,1180.3 592,1180" fill="none" stroke="#dd8a86" stroke-width="20.2" stroke-linecap="round" stroke-linejoin="round"/><path d="M528,1178C533.3,1178.7 549.3,1181.7 560,1182C570.7,1182.3 586.7,1180.3 592,1180" fill="none" stroke="#f4b4aa" stroke-width="16" stroke-linecap="round" stroke-linejoin="round"/>
<path d="M488,1030C488.7,1035.3 487.7,1053.3 492,1062C496.3,1070.7 506,1080.3 514,1082C522,1083.7 534.3,1078 540,1072C545.7,1066 548,1053 548,1046C548,1039 541.3,1032.7 540,1030" fill="none" stroke="#f9cdc5" stroke-width="4.5" stroke-linecap="round" opacity="0.6" transform="translate(-3,-4)"/>
<path d="M566,1036C567,1041.3 567,1059.7 572,1068C577,1076.3 587.3,1084.7 596,1086C604.7,1087.3 617.7,1082 624,1076C630.3,1070 633,1057 634,1050C635,1043 630.7,1036.7 630,1034" fill="none" stroke="#f9cdc5" stroke-width="4.5" stroke-linecap="round" opacity="0.6" transform="translate(-3,-4)"/>
<path d="M660,1022C662,1026.7 670.7,1039.7 672,1050C673.3,1060.3 672,1075 668,1084C664,1093 651.3,1100.7 648,1104" fill="none" stroke="#f9cdc5" stroke-width="4.5" stroke-linecap="round" opacity="0.6" transform="translate(-3,-4)"/>
<path d="M484,1094C487,1097.3 493.7,1111 502,1114C510.3,1117 525,1115.3 534,1112C543,1108.7 548.3,1096 556,1094C563.7,1092 574.7,1095 580,1100C585.3,1105 589,1116.3 588,1124C587,1131.7 576.3,1142.3 574,1146" fill="none" stroke="#f9cdc5" stroke-width="4.5" stroke-linecap="round" opacity="0.6" transform="translate(-3,-4)"/>
<path d="M606,1112C608.7,1115.7 614.7,1129.7 622,1134C629.3,1138.3 641.3,1140.3 650,1138C658.7,1135.7 668.3,1127 674,1120C679.7,1113 682.3,1100 684,1096" fill="none" stroke="#f9cdc5" stroke-width="4.5" stroke-linecap="round" opacity="0.6" transform="translate(-3,-4)"/>
<path d="M490,1134C493.7,1137.7 503,1152.3 512,1156C521,1159.7 535,1157.7 544,1156C553,1154.3 558.3,1145.3 566,1146C573.7,1146.7 582.3,1155.3 590,1160C597.7,1164.7 608.3,1171.7 612,1174" fill="none" stroke="#f9cdc5" stroke-width="4.5" stroke-linecap="round" opacity="0.6" transform="translate(-3,-4)"/>
<path d="M628,1164C632,1164.3 644.3,1168.3 652,1166C659.7,1163.7 668,1156 674,1150C680,1144 685.7,1133.3 688,1130" fill="none" stroke="#f9cdc5" stroke-width="4.5" stroke-linecap="round" opacity="0.6" transform="translate(-3,-4)"/>
<path d="M528,1178C533.3,1178.7 549.3,1181.7 560,1182C570.7,1182.3 586.7,1180.3 592,1180" fill="none" stroke="#f9cdc5" stroke-width="4.5" stroke-linecap="round" opacity="0.6" transform="translate(-3,-4)"/>
<path d="M457.7,960.8C459.4,959.3 464.1,953.3 468,952C471.9,950.7 476.4,950.8 480.8,953C485.2,955.2 488.7,961.3 494.6,965.4C500.5,969.5 508.8,974.4 516,977.7C523.2,981 529,983.4 537.7,985.4C546.5,987.4 558.3,990.3 568.5,990C578.7,989.7 590,986.6 599,983.8C608,981 614.6,976.8 622.3,973C630,969.2 639,964.6 645.4,960.8C651.8,957 655.2,953.6 660.8,950C666.4,946.4 673.9,941.6 679,939C684.1,936.4 686.8,934.3 691.5,934.6C696.2,934.9 702.4,938 707,940.8C711.6,943.6 716.5,946.9 719,951.5C721.5,956.1 721.8,965.7 722.3,968.5C721.5,972.3 718.2,982.6 717.7,991.5C717.2,1000.4 718.2,1011.8 719,1022C719.8,1032.2 721.2,1042.7 722.3,1053C723.4,1063.3 723.9,1073.5 725.4,1083.8C726.9,1094.1 730.2,1105.6 731.5,1114.6C732.8,1123.6 733.4,1131.6 733,1137.7C732.6,1143.8 732.5,1143.1 729,1151C725.5,1158.9 720.5,1175.1 712,1185C703.5,1194.9 688.1,1203.6 678.2,1210.3C668.3,1217 661.6,1223.6 652.8,1225C644,1226.4 632.1,1224.1 625.4,1218.8C618.7,1213.5 614.8,1197.6 612.7,1193.4C613.1,1192 610.2,1185.7 614.8,1185C619.4,1184.3 631.4,1189.9 640.2,1189.2C649,1188.5 659.5,1186 667.6,1180.7C675.7,1175.4 683.8,1166 688.8,1157.5C693.8,1149 696.2,1134.6 697.7,1130C697.2,1124.8 695.6,1109.2 694.6,1099C693.6,1088.8 692.3,1078.7 691.5,1068.5C690.7,1058.3 690,1048 690,1037.7C690,1027.5 691.8,1015.2 691.5,1007C691.2,998.8 689,991.6 688.5,988.5C685.2,991 675.7,999.2 668.5,1003.8C661.3,1008.4 654.4,1012.4 645.4,1016C636.4,1019.6 624.9,1023.1 614.6,1025.4C604.3,1027.7 594.1,1029.7 583.8,1030C573.5,1030.3 563.2,1028.3 553,1027C542.8,1025.7 531.3,1024.1 522.3,1022.3C513.3,1020.5 506.7,1019.1 499,1016C491.3,1012.9 479.8,1005.8 476,1003.8C475.8,1009.4 475.1,1026.9 474.6,1037.7C474.1,1048.5 473.5,1058.3 473,1068.5C472.5,1078.7 471.2,1090 471.5,1099C471.8,1108 471.3,1115.8 474.6,1122.3C477.9,1128.8 486.3,1133.1 491.5,1137.7C496.7,1142.3 502.6,1145 506,1150C509.4,1155 512.2,1162.7 512,1168C511.8,1173.3 509,1178.7 505,1182C501,1185.3 490.8,1187 488,1188C484.3,1187.3 472.5,1187.3 466,1184C459.5,1180.7 452.7,1173.7 449,1168C445.3,1162.3 444.7,1153 443.8,1150C444.1,1144.1 444.9,1125.6 445.4,1114.6C445.9,1103.6 445.7,1094.1 447,1083.8C448.3,1073.5 451.2,1063.2 453,1053C454.8,1042.8 457.2,1032.5 457.7,1022.3C458.2,1012 456.5,1000.5 456,991.5C455.5,982.5 454.3,973.6 454.6,968.5C454.9,963.4 457.2,962.1 457.7,960.8Z" fill="#d98a90" stroke="#c36d77" stroke-width="1.8" stroke-linejoin="round"/>
<ellipse cx="494.8" cy="997.6" rx="13" ry="13.5" fill="#d98a90" stroke="#c36d77" stroke-width="1.3" transform="rotate(27.1 494.8 997.6)"/>
<ellipse cx="493.8" cy="992.9" rx="6.5" ry="3.4" fill="#e6a5a8" transform="rotate(27.1 493.8 992.9)" opacity="0.55"/>
<ellipse cx="518" cy="1006" rx="13" ry="13.5" fill="#d98a90" stroke="#c36d77" stroke-width="1.3" transform="rotate(12.5 518 1006)"/>
<ellipse cx="517" cy="1001.3" rx="6.5" ry="3.4" fill="#e6a5a8" transform="rotate(12.5 517 1001.3)" opacity="0.55"/>
<ellipse cx="541.3" cy="1009.6" rx="13" ry="13.5" fill="#d98a90" stroke="#c36d77" stroke-width="1.3" transform="rotate(6.6 541.3 1009.6)"/>
<ellipse cx="540.3" cy="1004.9" rx="6.5" ry="3.4" fill="#e6a5a8" transform="rotate(6.6 540.3 1004.9)" opacity="0.55"/>
<ellipse cx="564.3" cy="1011.8" rx="13" ry="13.5" fill="#d98a90" stroke="#c36d77" stroke-width="1.3" transform="rotate(3.8 564.3 1011.8)"/>
<ellipse cx="563.3" cy="1007" rx="6.5" ry="3.4" fill="#e6a5a8" transform="rotate(3.8 563.3 1007)" opacity="0.55"/>
<ellipse cx="587.9" cy="1011.8" rx="13" ry="13.5" fill="#d98a90" stroke="#c36d77" stroke-width="1.3" transform="rotate(-3.8 587.9 1011.8)"/>
<ellipse cx="586.9" cy="1007" rx="6.5" ry="3.4" fill="#e6a5a8" transform="rotate(-3.8 586.9 1007)" opacity="0.55"/>
<ellipse cx="611" cy="1008.6" rx="13" ry="13.5" fill="#d98a90" stroke="#c36d77" stroke-width="1.3" transform="rotate(-11.1 611 1008.6)"/>
<ellipse cx="610" cy="1003.9" rx="6.5" ry="3.4" fill="#e6a5a8" transform="rotate(-11.1 610 1003.9)" opacity="0.55"/>
<ellipse cx="634.1" cy="1001.9" rx="13" ry="13.5" fill="#d98a90" stroke="#c36d77" stroke-width="1.3" transform="rotate(-21 634.1 1001.9)"/>
<ellipse cx="633.1" cy="997.2" rx="6.5" ry="3.4" fill="#e6a5a8" transform="rotate(-21 633.1 997.2)" opacity="0.55"/>
<ellipse cx="655" cy="992" rx="13" ry="13.5" fill="#d98a90" stroke="#c36d77" stroke-width="1.3" transform="rotate(-28.5 655 992)"/>
<ellipse cx="654" cy="987.3" rx="6.5" ry="3.4" fill="#e6a5a8" transform="rotate(-28.5 654 987.3)" opacity="0.55"/>
<ellipse cx="674.7" cy="978.8" rx="13" ry="13.5" fill="#d98a90" stroke="#c36d77" stroke-width="1.3" transform="rotate(-36.3 674.7 978.8)"/>
<ellipse cx="673.7" cy="974.1" rx="6.5" ry="3.4" fill="#e6a5a8" transform="rotate(-36.3 673.7 974.1)" opacity="0.55"/>
<ellipse cx="476" cy="965.5" rx="8.5" ry="7.5" fill="#d98a90" stroke="#c36d77" stroke-width="1.3" transform="rotate(23.7 476 965.5)"/>
<ellipse cx="475" cy="962.9" rx="4.2" ry="1.9" fill="#e6a5a8" transform="rotate(23.7 475 962.9)" opacity="0.55"/>
<ellipse cx="491.3" cy="972.7" rx="8.5" ry="7.5" fill="#d98a90" stroke="#c36d77" stroke-width="1.3" transform="rotate(27.3 491.3 972.7)"/>
<ellipse cx="490.3" cy="970" rx="4.2" ry="1.9" fill="#e6a5a8" transform="rotate(27.3 490.3 970)" opacity="0.55"/>
<ellipse cx="505.4" cy="981" rx="8.5" ry="7.5" fill="#d98a90" stroke="#c36d77" stroke-width="1.3" transform="rotate(30.6 505.4 981)"/>
<ellipse cx="504.4" cy="978.4" rx="4.2" ry="1.9" fill="#e6a5a8" transform="rotate(30.6 504.4 978.4)" opacity="0.55"/>
<ellipse cx="521.8" cy="988.6" rx="8.5" ry="7.5" fill="#d98a90" stroke="#c36d77" stroke-width="1.3" transform="rotate(18.5 521.8 988.6)"/>
<ellipse cx="520.8" cy="986" rx="4.2" ry="1.9" fill="#e6a5a8" transform="rotate(18.5 520.8 986)" opacity="0.55"/>
<ellipse cx="537.3" cy="992.8" rx="8.5" ry="7.5" fill="#d98a90" stroke="#c36d77" stroke-width="1.3" transform="rotate(12.7 537.3 992.8)"/>
<ellipse cx="536.3" cy="990.2" rx="4.2" ry="1.9" fill="#e6a5a8" transform="rotate(12.7 536.3 990.2)" opacity="0.55"/>
<ellipse cx="553.9" cy="995.5" rx="8.5" ry="7.5" fill="#d98a90" stroke="#c36d77" stroke-width="1.3" transform="rotate(6.4 553.9 995.5)"/>
<ellipse cx="552.9" cy="992.9" rx="4.2" ry="1.9" fill="#e6a5a8" transform="rotate(6.4 552.9 992.9)" opacity="0.55"/>
<ellipse cx="570" cy="996.2" rx="8.5" ry="7.5" fill="#d98a90" stroke="#c36d77" stroke-width="1.3" transform="rotate(-0.6 570 996.2)"/>
<ellipse cx="569" cy="993.5" rx="4.2" ry="1.9" fill="#e6a5a8" transform="rotate(-0.6 569 993.5)" opacity="0.55"/>
<ellipse cx="588" cy="994.6" rx="8.5" ry="7.5" fill="#d98a90" stroke="#c36d77" stroke-width="1.3" transform="rotate(-8.7 588 994.6)"/>
<ellipse cx="587" cy="992" rx="4.2" ry="1.9" fill="#e6a5a8" transform="rotate(-8.7 587 992)" opacity="0.55"/>
<ellipse cx="604" cy="990.8" rx="8.5" ry="7.5" fill="#d98a90" stroke="#c36d77" stroke-width="1.3" transform="rotate(-17.6 604 990.8)"/>
<ellipse cx="603" cy="988.2" rx="4.2" ry="1.9" fill="#e6a5a8" transform="rotate(-17.6 603 988.2)" opacity="0.55"/>
<ellipse cx="618.4" cy="985" rx="8.5" ry="7.5" fill="#d98a90" stroke="#c36d77" stroke-width="1.3" transform="rotate(-24.5 618.4 985)"/>
<ellipse cx="617.4" cy="982.3" rx="4.2" ry="1.9" fill="#e6a5a8" transform="rotate(-24.5 617.4 982.3)" opacity="0.55"/>
<ellipse cx="634.4" cy="976.9" rx="8.5" ry="7.5" fill="#d98a90" stroke="#c36d77" stroke-width="1.3" transform="rotate(-27.7 634.4 976.9)"/>
<ellipse cx="633.4" cy="974.3" rx="4.2" ry="1.9" fill="#e6a5a8" transform="rotate(-27.7 633.4 974.3)" opacity="0.55"/>
<ellipse cx="648.7" cy="968.9" rx="8.5" ry="7.5" fill="#d98a90" stroke="#c36d77" stroke-width="1.3" transform="rotate(-32.3 648.7 968.9)"/>
<ellipse cx="647.7" cy="966.3" rx="4.2" ry="1.9" fill="#e6a5a8" transform="rotate(-32.3 647.7 966.3)" opacity="0.55"/>
<ellipse cx="662.9" cy="959.3" rx="8.5" ry="7.5" fill="#d98a90" stroke="#c36d77" stroke-width="1.3" transform="rotate(-33.5 662.9 959.3)"/>
<ellipse cx="661.9" cy="956.7" rx="4.2" ry="1.9" fill="#e6a5a8" transform="rotate(-33.5 661.9 956.7)" opacity="0.55"/>
<ellipse cx="676.7" cy="951.9" rx="8.5" ry="7.5" fill="#d98a90" stroke="#c36d77" stroke-width="1.3" transform="rotate(-23.3 676.7 951.9)"/>
<ellipse cx="675.7" cy="949.2" rx="4.2" ry="1.9" fill="#e6a5a8" transform="rotate(-23.3 675.7 949.2)" opacity="0.55"/>
<ellipse cx="692.4" cy="946.4" rx="8.5" ry="7.5" fill="#d98a90" stroke="#c36d77" stroke-width="1.3" transform="rotate(-17.1 692.4 946.4)"/>
<ellipse cx="691.4" cy="943.7" rx="4.2" ry="1.9" fill="#e6a5a8" transform="rotate(-17.1 691.4 943.7)" opacity="0.55"/>
<path d="M474,978C478.3,980 489.8,986.5 500,990C510.2,993.5 523,997 535,999C547,1001 560.2,1002.2 572,1002C583.8,1001.8 594.7,1000.7 606,998C617.3,995.3 629.3,991 640,986C650.7,981 661,973.7 670,968C679,962.3 690,954.7 694,952" fill="none" stroke="#e9a9ab" stroke-width="2.2" opacity="0.9"/>
<ellipse cx="465.8" cy="1009.1" rx="9.5" ry="10.5" fill="#d98a90" stroke="#c36d77" stroke-width="1.3" transform="rotate(90.9 465.8 1009.1)"/>
<ellipse cx="464.8" cy="1005.4" rx="4.8" ry="2.6" fill="#e6a5a8" transform="rotate(90.9 464.8 1005.4)" opacity="0.55"/>
<ellipse cx="465.5" cy="1026.7" rx="9.5" ry="10.5" fill="#d98a90" stroke="#c36d77" stroke-width="1.3" transform="rotate(91.5 465.5 1026.7)"/>
<ellipse cx="464.5" cy="1023.1" rx="4.8" ry="2.6" fill="#e6a5a8" transform="rotate(91.5 464.5 1023.1)" opacity="0.55"/>
<ellipse cx="464.8" cy="1044" rx="9.5" ry="10.5" fill="#d98a90" stroke="#c36d77" stroke-width="1.3" transform="rotate(93.3 464.8 1044)"/>
<ellipse cx="463.8" cy="1040.3" rx="4.8" ry="2.6" fill="#e6a5a8" transform="rotate(93.3 463.8 1040.3)" opacity="0.55"/>
<ellipse cx="463.5" cy="1062" rx="9.5" ry="10.5" fill="#d98a90" stroke="#c36d77" stroke-width="1.3" transform="rotate(94.7 463.5 1062)"/>
<ellipse cx="462.5" cy="1058.3" rx="4.8" ry="2.6" fill="#e6a5a8" transform="rotate(94.7 462.5 1058.3)" opacity="0.55"/>
<ellipse cx="462" cy="1080" rx="9.5" ry="10.5" fill="#d98a90" stroke="#c36d77" stroke-width="1.3" transform="rotate(94.4 462 1080)"/>
<ellipse cx="461" cy="1076.3" rx="4.8" ry="2.6" fill="#e6a5a8" transform="rotate(94.4 461 1076.3)" opacity="0.55"/>
<ellipse cx="460.6" cy="1097" rx="9.5" ry="10.5" fill="#d98a90" stroke="#c36d77" stroke-width="1.3" transform="rotate(94.8 460.6 1097)"/>
<ellipse cx="459.6" cy="1093.3" rx="4.8" ry="2.6" fill="#e6a5a8" transform="rotate(94.8 459.6 1093.3)" opacity="0.55"/>
<ellipse cx="459.2" cy="1115.1" rx="9.5" ry="10.5" fill="#d98a90" stroke="#c36d77" stroke-width="1.3" transform="rotate(93.5 459.2 1115.1)"/>
<ellipse cx="458.2" cy="1111.4" rx="4.8" ry="2.6" fill="#e6a5a8" transform="rotate(93.5 458.2 1111.4)" opacity="0.55"/>
<ellipse cx="459.2" cy="1131.5" rx="9.5" ry="10.5" fill="#d98a90" stroke="#c36d77" stroke-width="1.3" transform="rotate(86.1 459.2 1131.5)"/>
<ellipse cx="458.2" cy="1127.8" rx="4.8" ry="2.6" fill="#e6a5a8" transform="rotate(86.1 458.2 1127.8)" opacity="0.55"/>
<ellipse cx="707" cy="972.4" rx="10.5" ry="14" fill="#d98a90" stroke="#c36d77" stroke-width="1.3" transform="rotate(95.6 707 972.4)"/>
<ellipse cx="706" cy="967.5" rx="5.2" ry="3.5" fill="#e6a5a8" transform="rotate(95.6 706 967.5)" opacity="0.55"/>
<ellipse cx="705.3" cy="993.8" rx="10.5" ry="14" fill="#d98a90" stroke="#c36d77" stroke-width="1.3" transform="rotate(93.4 705.3 993.8)"/>
<ellipse cx="704.3" cy="988.9" rx="5.2" ry="3.5" fill="#e6a5a8" transform="rotate(93.4 704.3 988.9)" opacity="0.55"/>
<ellipse cx="705" cy="1011.9" rx="10.5" ry="14" fill="#d98a90" stroke="#c36d77" stroke-width="1.3" transform="rotate(89.2 705 1011.9)"/>
<ellipse cx="704" cy="1007" rx="5.2" ry="3.5" fill="#e6a5a8" transform="rotate(89.2 704 1007)" opacity="0.55"/>
<ellipse cx="705.7" cy="1032" rx="10.5" ry="14" fill="#d98a90" stroke="#c36d77" stroke-width="1.3" transform="rotate(87.6 705.7 1032)"/>
<ellipse cx="704.7" cy="1027.1" rx="5.2" ry="3.5" fill="#e6a5a8" transform="rotate(87.6 704.7 1027.1)" opacity="0.55"/>
<ellipse cx="706.4" cy="1052.2" rx="10.5" ry="14" fill="#d98a90" stroke="#c36d77" stroke-width="1.3" transform="rotate(88 706.4 1052.2)"/>
<ellipse cx="705.4" cy="1047.3" rx="5.2" ry="3.5" fill="#e6a5a8" transform="rotate(88 705.4 1047.3)" opacity="0.55"/>
<ellipse cx="707.4" cy="1072.3" rx="10.5" ry="14" fill="#d98a90" stroke="#c36d77" stroke-width="1.3" transform="rotate(86.3 707.4 1072.3)"/>
<ellipse cx="706.4" cy="1067.4" rx="5.2" ry="3.5" fill="#e6a5a8" transform="rotate(86.3 706.4 1067.4)" opacity="0.55"/>
<ellipse cx="709.3" cy="1091.2" rx="10.5" ry="14" fill="#d98a90" stroke="#c36d77" stroke-width="1.3" transform="rotate(82.1 709.3 1091.2)"/>
<ellipse cx="708.3" cy="1086.3" rx="5.2" ry="3.5" fill="#e6a5a8" transform="rotate(82.1 708.3 1086.3)" opacity="0.55"/>
<ellipse cx="712.6" cy="1111.9" rx="10.5" ry="14" fill="#d98a90" stroke="#c36d77" stroke-width="1.3" transform="rotate(81.5 712.6 1111.9)"/>
<ellipse cx="711.6" cy="1107" rx="5.2" ry="3.5" fill="#e6a5a8" transform="rotate(81.5 711.6 1107)" opacity="0.55"/>
<ellipse cx="715" cy="1131" rx="10.5" ry="14" fill="#d98a90" stroke="#c36d77" stroke-width="1.3" transform="rotate(83.4 715 1131)"/>
<ellipse cx="714" cy="1126.1" rx="5.2" ry="3.5" fill="#e6a5a8" transform="rotate(83.4 714 1126.1)" opacity="0.55"/>
<circle cx="710" cy="1151" r="17.5" fill="#d98a90" stroke="#c36d77" stroke-width="1.4"/>
<circle cx="691" cy="1186" r="23" fill="#d98a90" stroke="#c36d77" stroke-width="1.4"/>
<circle cx="653" cy="1206" r="19.5" fill="#d98a90" stroke="#c36d77" stroke-width="1.4"/>
<ellipse cx="626" cy="1203" rx="13" ry="17" fill="#d98a90" stroke="#c36d77" stroke-width="1.4"/>
<path d="M446,1130C450.5,1126.7 461.7,1126.3 470,1128C478.3,1129.7 489.2,1134.7 496,1140C502.8,1145.3 509.3,1153.3 511,1160C512.7,1166.7 509.8,1175.3 506,1180C502.2,1184.7 494.7,1187.3 488,1188C481.3,1188.7 472.5,1187.3 466,1184C459.5,1180.7 452.8,1174 449,1168C445.2,1162 443.5,1154.3 443,1148C442.5,1141.7 441.5,1133.3 446,1130Z" fill="#d98a90" stroke="#c36d77" stroke-width="1.4"/>
<ellipse cx="474" cy="1150" rx="10" ry="6" fill="#e6a5a8" transform="rotate(-30 474 1150)" opacity="0.5"/>
<path d="M511,1172C512.7,1173.3 518.3,1176.7 521,1180C523.7,1183.3 525.7,1187.2 527,1192C528.3,1196.8 528.7,1206.2 529,1209" fill="none" stroke="#c36d77" stroke-width="8.5" stroke-linecap="round"/>
<path d="M511,1172C512.7,1173.3 518.3,1176.7 521,1180C523.7,1183.3 525.7,1187.2 527,1192C528.3,1196.8 528.7,1206.2 529,1209" fill="none" stroke="#dc8d93" stroke-width="6" stroke-linecap="round"/>
<rect x="610.8" y="486" width="5" height="248" fill="url(#arrFadeDown)"/>
<path d="M599.5,732.3L627.4,732.3L613.6,758.7Z" fill="#1a1a1a"/>
<path d="M321.6,393.6L322.4,394.3L323.3,395.1L324.5,396.1L325.8,397.2L327.3,398.4L328.9,399.6L330.6,400.9L332.3,402.1L334.1,403.3L336,404.4L337.9,405.4L339.9,406.5L342,407.5L344.2,408.6L346.5,409.6L348.8,410.6L351.1,411.6L353.5,412.4L355.8,413.2L358.1,413.8L360.3,414.4L362.6,414.8L364.8,415.1L367.1,415.4L369.3,415.6L371.5,415.8L373.8,415.8L376,415.9L378.3,415.9L380.6,415.8L383.1,415.7L385.8,415.5L388.5,415.2L391.3,414.9L394.1,414.5L396.7,414.1L399.1,413.7L401.3,413.4L403.1,413.1L404.5,413L403.5,407L402.1,407.3L400.3,407.7L398.1,408.1L395.7,408.6L393.2,409.1L390.5,409.6L387.8,410L385.2,410.4L382.7,410.8L380.4,411L378.2,411.1L376,411.2L373.8,411.3L371.6,411.3L369.5,411.3L367.4,411.2L365.3,411.1L363.2,410.9L361,410.6L358.9,410.2L356.8,409.7L354.5,409.1L352.3,408.3L350,407.5L347.7,406.7L345.5,405.8L343.3,404.8L341.1,403.9L339.1,402.9L337.2,402L335.4,401.1L333.6,400.1L331.9,399L330.2,397.8L328.5,396.7L327,395.6L325.6,394.6L324.4,393.7L323.3,393L322.4,392.4Z" fill="url(#arrFadeR)"/>
<path d="M397,398L427,398L408.3,421.8Z" fill="#1a1a1a"/>
<path d="M665.5,886.8L664.9,888.2L664.2,890L663.4,892.1L662.5,894.5L661.4,897.1L660.3,899.7L659.1,902.3L657.7,904.9L656.2,907.3L654.6,909.4L652.9,911.4L650.9,913.3L648.9,915.2L646.7,917.1L644.3,918.9L641.9,920.7L639.4,922.4L636.9,924.1L634.2,925.7L631.6,927.2L628.8,928.6L625.8,930L622.7,931.4L619.5,932.7L616.2,933.9L612.9,935.1L609.7,936.2L606.6,937.2L603.6,938.1L600.9,938.9L598.3,939.6L595.8,940.2L593.3,940.7L590.8,941.1L588.5,941.4L586.3,941.7L584.2,942L582.4,942.2L580.9,942.4L579.6,942.5L580.4,947.5L581.6,947.2L583.1,946.9L584.9,946.6L586.9,946.3L589.2,945.9L591.6,945.4L594.1,944.9L596.7,944.3L599.4,943.5L602.1,942.7L604.8,941.8L607.8,940.8L610.9,939.6L614.1,938.5L617.4,937.2L620.7,935.8L624,934.4L627.2,932.9L630.2,931.4L633,929.8L635.7,928.2L638.4,926.4L641,924.7L643.5,922.8L645.9,920.9L648.2,918.9L650.4,916.9L652.5,914.9L654.4,912.8L656.2,910.6L657.8,908.3L659.3,905.8L660.6,903.1L661.8,900.3L662.8,897.6L663.8,895L664.6,892.6L665.3,890.4L665.9,888.6L666.5,887.2Z" fill="#1a1a1a"/>
<path d="M557.7,945.4L583.8,932.3L584.6,958.5Z" fill="#1a1a1a"/>
<path d="M510.3,933L510.3,934.6L510.4,936.6L510.5,939.1L510.6,941.8L510.7,944.7L510.8,947.7L510.9,950.8L511.1,953.8L511.2,956.7L511.4,959.3L511.6,961.7L511.8,964.1L512.1,966.3L512.4,968.6L512.7,970.8L513,973L513.3,975.3L513.5,977.6L513.8,980L514.1,982.5L514.4,985L514.6,987.7L514.7,990.4L514.9,993.2L515.1,996L515.3,998.9L515.6,1001.8L515.9,1004.7L516.3,1007.5L516.8,1010.3L517.4,1013.2L518.1,1016L518.8,1018.9L519.5,1021.7L520.3,1024.6L521.2,1027.4L522.1,1030.2L523,1032.9L524,1035.4L525.1,1037.9L526.3,1040.3L527.7,1042.8L529.1,1045.1L530.7,1047.4L532.2,1049.6L533.7,1051.6L535,1053.4L536.2,1055L537.2,1056.4L538,1057.5L542,1054.5L541.2,1053.4L540.1,1052.1L538.8,1050.5L537.4,1048.7L535.9,1046.8L534.3,1044.8L532.8,1042.7L531.4,1040.5L530.1,1038.3L528.9,1036.1L527.8,1033.8L526.8,1031.4L525.8,1028.8L524.9,1026.2L523.9,1023.5L523.1,1020.7L522.3,1017.9L521.5,1015.1L520.8,1012.4L520.2,1009.7L519.6,1007L519.1,1004.2L518.7,1001.4L518.4,998.6L518.1,995.8L517.8,993L517.6,990.2L517.3,987.4L517,984.8L516.7,982.1L516.3,979.7L516,977.3L515.6,975L515.2,972.7L514.8,970.5L514.5,968.3L514.1,966.1L513.8,963.8L513.5,961.5L513.2,959.1L512.9,956.5L512.7,953.7L512.5,950.7L512.3,947.6L512.1,944.6L511.9,941.7L511.7,939L511.6,936.6L511.4,934.5L511.3,933Z" fill="#1a1a1a"/>
<path d="M565.5,1067.3L534.5,1071L545.5,1045.5Z" fill="#1a1a1a"/>
<path d="M758.6,776 L700,1156 M700,1156 L1040,1040.5" fill="none" stroke="#1a1a1a" stroke-width="4.5" stroke-dasharray="7 8.8"/>
<ellipse cx="969.9" cy="826" rx="216.2" ry="221.7" fill="#f5f5f5"/>
<g clip-path="url(#circClip)"><path d="M805.8,769.8C805.9,771.3 804.5,776.7 806.4,778.6C808.3,780.6 815.5,779.5 817.3,781.3C819.2,783 817.4,787.8 817.4,789.2" fill="none" stroke="#a9d3d9" stroke-width="1.3" stroke-linecap="round"/>
<path d="M800.5,767C799,766.4 794.7,762.6 791.9,763.4C789.2,764.2 786.6,771.1 784.1,771.9C781.5,772.7 778,768.8 776.7,768.2" fill="none" stroke="#a9d3d9" stroke-width="1.3" stroke-linecap="round"/>
<path d="M810.7,760.5C811.5,762.1 812.7,768.3 815.7,769.8C818.6,771.3 825.5,768.4 828.3,769.8C831,771.2 831.5,776.7 832.2,778.1" fill="none" stroke="#a9d3d9" stroke-width="1.3" stroke-linecap="round"/>
<path d="M805.4,757.7C804.3,756.7 801.6,751.7 798.9,751.6C796.2,751.5 791.6,757.1 789,757C786.5,756.9 784.5,752.2 783.6,751.2" fill="none" stroke="#a9d3d9" stroke-width="1.3" stroke-linecap="round"/>
<path d="M815.6,751.3C816.7,752.3 819.5,757.3 822.2,757.4C825,757.6 829.7,752 832.3,752.1C834.9,752.2 836.9,757 837.8,757.9" fill="none" stroke="#a9d3d9" stroke-width="1.3" stroke-linecap="round"/>
<path d="M810.3,748.5C809.7,747.1 808.9,741.3 806.3,740C803.7,738.8 797.2,742 794.7,740.9C792.3,739.7 792.2,734.5 791.7,733.2" fill="none" stroke="#a9d3d9" stroke-width="1.3" stroke-linecap="round"/>
<path d="M820.5,742C821.7,742.6 825.4,746.4 827.6,745.6C829.9,744.9 832,738.1 834.1,737.3C836.1,736.5 839.1,740.4 840.1,741" fill="none" stroke="#a9d3d9" stroke-width="1.3" stroke-linecap="round"/>
<path d="M815.2,739.2C815.1,737.7 816.4,732.1 814.5,730.2C812.5,728.2 805.3,729.1 803.4,727.3C801.6,725.5 803.3,720.6 803.3,719.3" fill="none" stroke="#a9d3d9" stroke-width="1.3" stroke-linecap="round"/>
<rect x="793" y="749.2" width="35" height="10.5" rx="5.2" fill="#8ecbd6" transform="rotate(-62 810.5 754.5)" />
<path d="M892.3,860.5C891.2,859.4 888.6,854.1 885.7,853.7C882.8,853.3 877.6,858.4 874.8,858.1C872.1,857.8 870.3,852.8 869.4,851.7" fill="none" stroke="#a9d3d9" stroke-width="1.3" stroke-linecap="round"/>
<path d="M898.2,859.5C899.8,859 905.9,859 907.8,856.4C909.7,853.9 907.8,846.7 909.5,844.4C911.2,842 916.7,842.6 918.1,842.2" fill="none" stroke="#a9d3d9" stroke-width="1.3" stroke-linecap="round"/>
<path d="M894.1,870.9C893.1,870.2 889.9,866.1 887.7,866.7C885.5,867.3 883,873.9 881,874.6C879,875.2 876.4,871.1 875.5,870.4" fill="none" stroke="#a9d3d9" stroke-width="1.3" stroke-linecap="round"/>
<path d="M900,869.8C901.4,870 906.3,872.4 908.3,870.9C910.4,869.4 910.4,862.2 912.2,860.8C914.1,859.3 918.3,862 919.5,862.2" fill="none" stroke="#a9d3d9" stroke-width="1.3" stroke-linecap="round"/>
<path d="M896,881.2C894.7,881 890.2,878.4 888.4,879.8C886.7,881.2 886.9,888.3 885.3,889.6C883.6,891 879.7,888.2 878.6,887.9" fill="none" stroke="#a9d3d9" stroke-width="1.3" stroke-linecap="round"/>
<path d="M901.9,880.1C903.4,880.9 907.9,885 911,884.4C914.2,883.8 917.6,877.2 920.5,876.6C923.4,876 927.1,880.1 928.4,880.8" fill="none" stroke="#a9d3d9" stroke-width="1.3" stroke-linecap="round"/>
<path d="M897.8,891.5C896.2,892 890.3,891.9 888.5,894.3C886.7,896.7 888.7,903.8 887.1,906.1C885.4,908.4 880.1,907.7 878.7,908.1" fill="none" stroke="#a9d3d9" stroke-width="1.3" stroke-linecap="round"/>
<path d="M903.7,890.5C904.4,891.5 906,896.4 908.2,896.5C910.4,896.6 914.9,891.2 916.9,891.3C919,891.4 919.9,896 920.6,897" fill="none" stroke="#a9d3d9" stroke-width="1.3" stroke-linecap="round"/>
<rect x="880.5" y="870.2" width="35" height="10.5" rx="5.2" fill="#8ecbd6" transform="rotate(80 898 875.5)" />
<path d="M883.9,652.6C882.4,652 877.6,648.3 874.6,649.2C871.7,650.1 868.9,657 866.2,657.8C863.4,658.7 859.5,655 858.2,654.4" fill="none" stroke="#a9d3d9" stroke-width="1.3" stroke-linecap="round"/>
<path d="M888.8,649.1C890.1,648 895.5,645.6 896.2,642.5C896.8,639.5 892,633.9 892.5,631.1C893,628.3 898.2,626.6 899.3,625.7" fill="none" stroke="#a9d3d9" stroke-width="1.3" stroke-linecap="round"/>
<path d="M887.5,657.7C886.1,657.9 880.6,656.9 878.8,659C877,661 878.5,668.1 876.9,670C875.3,672 870.4,670.5 869.1,670.6" fill="none" stroke="#a9d3d9" stroke-width="1.3" stroke-linecap="round"/>
<path d="M892.5,654.3C893.9,654.1 899.4,655.1 901.1,653.1C902.8,651.1 901.3,644 902.9,642.1C904.5,640.2 909.3,641.7 910.6,641.6" fill="none" stroke="#a9d3d9" stroke-width="1.3" stroke-linecap="round"/>
<path d="M891.2,662.9C890.1,663.5 885.2,664.7 885,666.9C884.8,669 890,673.7 889.8,675.7C889.6,677.8 885,678.4 884,678.9" fill="none" stroke="#a9d3d9" stroke-width="1.3" stroke-linecap="round"/>
<path d="M896.1,659.4C897.1,660 900.2,663.8 902,663C903.8,662.2 905.4,655.4 907.1,654.7C908.8,653.9 911.3,657.7 912.2,658.3" fill="none" stroke="#a9d3d9" stroke-width="1.3" stroke-linecap="round"/>
<rect x="883.5" y="652" width="13" height="8" rx="4" fill="#9fd3da" transform="rotate(55 890 656)" />
<path d="M876,694C877.3,692.7 880.7,687.7 884,686C887.3,684.3 892.7,683.7 896,684C899.3,684.3 902.7,687.3 904,688" fill="none" stroke="#bfe0dc" stroke-width="10.5" stroke-linecap="round"/>
<path d="M796,816C797,817 800.3,819.3 802,822C803.7,824.7 805.3,828.7 806,832C806.7,835.3 806,840.3 806,842" fill="none" stroke="#bfe0dc" stroke-width="10.5" stroke-linecap="round"/>
<path d="M902,956C904,955 910,950.8 914,950C918,949.2 922.7,950 926,951C929.3,952 932.7,955.2 934,956" fill="none" stroke="#bfe0dc" stroke-width="10.5" stroke-linecap="round"/>
<path d="M828,984C829.7,983 834.3,978.8 838,978C841.7,977.2 846.7,977.8 850,979C853.3,980.2 856.7,984 858,985" fill="none" stroke="#bfe0dc" stroke-width="10.5" stroke-linecap="round"/>
<path d="M836,690C837.7,691.3 843.3,697.7 846,698C848.7,698.3 849.3,691.7 852,692C854.7,692.3 858.7,699.3 862,700C865.3,700.7 870.3,696.7 872,696" fill="none" stroke="#b9dcdc" stroke-width="1.2"/>
<path d="M808,846C809,847.7 811.7,854.7 814,856C816.3,857.3 819.3,852.7 822,854C824.7,855.3 828.7,862.3 830,864" fill="none" stroke="#b9dcdc" stroke-width="1.2"/>
<path d="M870,940C871.7,941 877,945.7 880,946C883,946.3 885,941.3 888,942C891,942.7 896.3,948.7 898,950" fill="none" stroke="#b9dcdc" stroke-width="1.2"/>
<path d="M862,990C863.7,991 869,995.7 872,996C875,996.3 878.7,992.7 880,992" fill="none" stroke="#b9dcdc" stroke-width="1.2"/>
<path d="M780,900C781.7,901.3 787.3,907.3 790,908C792.7,908.7 793.3,903.3 796,904C798.7,904.7 804.3,910.7 806,912" fill="none" stroke="#b9dcdc" stroke-width="1.2"/>
<rect x="918" y="724.2" width="33" height="9.5" rx="4.8" fill="#7fa7c3" transform="rotate(24 934.5 729)" />
<path d="M950,736C951.3,736.3 955.7,736.7 958,738C960.3,739.3 961.7,742.3 964,744C966.3,745.7 970.7,747.3 972,748" fill="none" stroke="#9dbccc" stroke-width="1.2"/>
<rect x="763.5" y="855.8" width="32" height="9.5" rx="4.8" fill="#7fa7c3" transform="rotate(64 779.5 860.5)" />
<path d="M772,845C771.3,843.5 769.7,838.5 768,836C766.3,833.5 763.7,832.3 762,830C760.3,827.7 758.7,823.3 758,822" fill="none" stroke="#9dbccc" stroke-width="1.2"/>
<rect x="812" y="921.2" width="28" height="9.5" rx="4.8" fill="#7fa7c3" transform="rotate(24 826 926)" />
<rect x="868" y="788.8" width="28" height="8.5" rx="4.2" fill="#7fa7c3" transform="rotate(22 882 793)" />
<path d="M896,800C897.3,801 901.7,804 904,806C906.3,808 907.7,811 910,812C912.3,813 916.7,812 918,812" fill="none" stroke="#9dbccc" stroke-width="1.2"/>
<path d="M966,786C965.3,788 961.7,794.3 962,798C962.3,801.7 968,804.3 968,808C968,811.7 962.3,816 962,820C961.7,824 966.7,828.3 966,832C965.3,835.7 960,838.7 958,842C956,845.3 955.3,848.3 954,852C952.7,855.7 950.7,862 950,864" fill="none" stroke="#a9cfda" stroke-width="4.5" stroke-linecap="round"/>
<path d="M970,776C969.3,777.3 966,781.7 966,784C966,786.3 969.3,789 970,790" fill="none" stroke="#b9d6de" stroke-width="1.5"/>
<path d="M899.9,677.9 L895.2,700.6" fill="none" stroke="#222" stroke-width="2.4"/>
<path d="M924.2,627.4L949,649.5L935.4,681L902.3,676.4L894.3,643.3Z" fill="#a5304d"/>
<path d="M864.9,703.1L895.2,700.7L911.1,723.7L900.8,749.9L870,752.3L853.5,729.3Z" fill="#d38d1a"/>
<circle cx="861.5" cy="824.5" r="31.5" fill="none" stroke="#f9dc8e" stroke-width="7.5"/>
<circle cx="861.5" cy="824.5" r="34.7" fill="none" stroke="#f0a91f" stroke-width="2.6" stroke-dasharray="2.3 2.4"/>
<circle cx="861.5" cy="824.5" r="28.3" fill="none" stroke="#f0a91f" stroke-width="2.4" stroke-dasharray="2.1 1.8"/>
<circle cx="881" cy="793" r="21.5" fill="none" stroke="#f9dc8e" stroke-width="7.5"/>
<circle cx="881" cy="793" r="24.7" fill="none" stroke="#f0a91f" stroke-width="2.6" stroke-dasharray="2.3 2.3"/>
<circle cx="881" cy="793" r="18.3" fill="none" stroke="#f0a91f" stroke-width="2.4" stroke-dasharray="2.1 1.3"/>
<circle cx="916.7" cy="809.5" r="23" fill="none" stroke="#f9dc8e" stroke-width="7.5"/>
<circle cx="916.7" cy="809.5" r="26.2" fill="none" stroke="#f0a91f" stroke-width="2.6" stroke-dasharray="2.3 2.3"/>
<circle cx="916.7" cy="809.5" r="19.8" fill="none" stroke="#f0a91f" stroke-width="2.4" stroke-dasharray="2.1 1.4"/>
<path d="M904.5,983C901.7,983.6 892.7,986.4 887.7,986.7C882.7,987 877.1,987.4 874.6,984.8C872.1,982.1 871.9,976.6 872.8,970.8C873.7,965 877.9,956.8 880.2,950.2C882.5,943.7 887.1,935.9 886.8,931.5C886.5,927.1 882.9,924.6 878.4,924.1C873.9,923.6 865.9,926.8 859.7,928.7C853.5,930.6 844.1,934.2 841,935.3" fill="none" stroke="#ec9d5f" stroke-width="6.8" stroke-linecap="round" stroke-linejoin="round"/><circle cx="914.8" cy="977.4" r="11.8" fill="#ec9d5f"/>
<path d="M812.9,918.5C811.6,921.6 806.9,931 805.4,937.2C803.9,943.4 802,951.7 803.6,955.9C805.2,960.1 809.2,962.4 814.8,962.4C820.4,962.4 830.4,958.1 837.2,955.9C844.1,953.7 851.4,949 855.9,949.3C860.4,949.6 863.7,952.9 864.3,957.7C864.9,962.5 861.4,972.5 859.7,978.3C858,984.1 855,990 854,992.3" fill="none" stroke="#6ab150" stroke-width="6.8" stroke-linecap="round" stroke-linejoin="round"/><circle cx="815.7" cy="907.2" r="12.2" fill="#6ab150"/>
<path d="M856.9,903.5C857.4,906 857.7,914.1 859.7,918.5C861.7,922.9 865.3,929.1 869,929.7C872.7,930.3 876.8,927.2 882.1,922.2C887.4,917.2 895.5,904.8 900.8,899.8C906.1,894.8 910.2,891.7 913.9,892.3C917.6,892.9 920.9,898.5 923.2,903.5C925.5,908.5 927,916.9 927.9,922.2C928.8,927.5 928.7,933.1 928.9,935.3" fill="none" stroke="#b03a3c" stroke-width="6.8" stroke-linecap="round" stroke-linejoin="round"/><circle cx="854" cy="892.3" r="11.8" fill="#b03a3c"/>
<line x1="987.1" y1="662.2" x2="961" y2="673.3" stroke="#e46fae" stroke-width="6.6" stroke-linecap="round"/>
<line x1="990" y1="670.9" x2="963.3" y2="681.6" stroke="#e46fae" stroke-width="6.6" stroke-linecap="round"/>
<line x1="993" y1="679.7" x2="965.6" y2="690" stroke="#e46fae" stroke-width="6.6" stroke-linecap="round"/>
<line x1="995.8" y1="688.5" x2="967.8" y2="698.4" stroke="#e46fae" stroke-width="6.6" stroke-linecap="round"/>
<line x1="998.5" y1="697.3" x2="970" y2="706.8" stroke="#e46fae" stroke-width="6.6" stroke-linecap="round"/>
<line x1="1001" y1="706.1" x2="972.1" y2="715.2" stroke="#e46fae" stroke-width="6.6" stroke-linecap="round"/>
<line x1="1003.1" y1="715.1" x2="974" y2="723.6" stroke="#e46fae" stroke-width="6.6" stroke-linecap="round"/>
<line x1="1004.9" y1="724.1" x2="975.8" y2="732.1" stroke="#e46fae" stroke-width="6.6" stroke-linecap="round"/>
<line x1="1006.1" y1="733.2" x2="977.4" y2="740.6" stroke="#e46fae" stroke-width="6.6" stroke-linecap="round"/>
<line x1="1007" y1="742.4" x2="978.7" y2="749.2" stroke="#e46fae" stroke-width="6.6" stroke-linecap="round"/>
<line x1="1007.6" y1="751.6" x2="979.7" y2="757.8" stroke="#e46fae" stroke-width="6.6" stroke-linecap="round"/>
<line x1="1008" y1="760.8" x2="980.4" y2="766.4" stroke="#e46fae" stroke-width="6.6" stroke-linecap="round"/>
<line x1="1008.3" y1="770" x2="980.8" y2="775" stroke="#e46fae" stroke-width="6.6" stroke-linecap="round"/>
<line x1="1008.4" y1="779.2" x2="980.9" y2="783.7" stroke="#e46fae" stroke-width="6.6" stroke-linecap="round"/>
<line x1="1008.5" y1="788.4" x2="980.8" y2="792.4" stroke="#e46fae" stroke-width="6.6" stroke-linecap="round"/>
<line x1="1008.4" y1="797.6" x2="980.5" y2="801" stroke="#e46fae" stroke-width="6.6" stroke-linecap="round"/>
<line x1="1007.9" y1="806.8" x2="979.8" y2="809.7" stroke="#e46fae" stroke-width="6.6" stroke-linecap="round"/>
<line x1="1006.6" y1="816" x2="978.9" y2="818.3" stroke="#e46fae" stroke-width="6.6" stroke-linecap="round"/>
<line x1="1005.2" y1="825" x2="978" y2="826.9" stroke="#e46fae" stroke-width="6.6" stroke-linecap="round"/>
<line x1="1004.4" y1="834.2" x2="977.3" y2="835.5" stroke="#e46fae" stroke-width="6.6" stroke-linecap="round"/>
<line x1="1004.1" y1="843.4" x2="976.3" y2="844.2" stroke="#e46fae" stroke-width="6.6" stroke-linecap="round"/>
<line x1="1003.6" y1="852.7" x2="974.7" y2="852.7" stroke="#e46fae" stroke-width="6.6" stroke-linecap="round"/>
<line x1="1002.7" y1="861.8" x2="972.9" y2="861.2" stroke="#e46fae" stroke-width="6.6" stroke-linecap="round"/>
<line x1="1000.9" y1="870.9" x2="971" y2="869.6" stroke="#e46fae" stroke-width="6.6" stroke-linecap="round"/>
<line x1="998.4" y1="879.7" x2="969" y2="878.1" stroke="#e46fae" stroke-width="6.6" stroke-linecap="round"/>
<line x1="995.4" y1="888.4" x2="966.9" y2="886.4" stroke="#e46fae" stroke-width="6.6" stroke-linecap="round"/>
<line x1="992.2" y1="897" x2="964.8" y2="894.8" stroke="#e46fae" stroke-width="6.6" stroke-linecap="round"/>
<line x1="989.1" y1="905.7" x2="962.5" y2="903.2" stroke="#e46fae" stroke-width="6.6" stroke-linecap="round"/>
<line x1="985.7" y1="914.2" x2="960.2" y2="911.5" stroke="#e46fae" stroke-width="6.6" stroke-linecap="round"/>
<line x1="982.1" y1="922.7" x2="957.9" y2="919.8" stroke="#e46fae" stroke-width="6.6" stroke-linecap="round"/>
<line x1="978.8" y1="931.3" x2="955.4" y2="928.1" stroke="#e46fae" stroke-width="6.6" stroke-linecap="round"/>
<line x1="976" y1="940" x2="952.9" y2="936.4" stroke="#e46fae" stroke-width="6.6" stroke-linecap="round"/>
<line x1="973.7" y1="949" x2="950.3" y2="944.7" stroke="#e46fae" stroke-width="6.6" stroke-linecap="round"/>
<line x1="971.8" y1="958" x2="947.7" y2="953" stroke="#e46fae" stroke-width="6.6" stroke-linecap="round"/>
<line x1="969.9" y1="967.1" x2="944.9" y2="961.2" stroke="#e46fae" stroke-width="6.6" stroke-linecap="round"/>
<line x1="968" y1="976.1" x2="942.1" y2="969.4" stroke="#e46fae" stroke-width="6.6" stroke-linecap="round"/>
<line x1="965.8" y1="985" x2="939.2" y2="977.6" stroke="#e46fae" stroke-width="6.6" stroke-linecap="round"/>
<line x1="963.4" y1="993.9" x2="936.4" y2="985.8" stroke="#e46fae" stroke-width="6.6" stroke-linecap="round"/>
<line x1="961" y1="1002.8" x2="933.5" y2="994" stroke="#e46fae" stroke-width="6.6" stroke-linecap="round"/>
<line x1="987.1" y1="662.2" x2="961" y2="673.3" stroke="#fbd8e8" stroke-width="3.6" stroke-linecap="round"/>
<line x1="990" y1="670.9" x2="963.3" y2="681.6" stroke="#fbd8e8" stroke-width="3.6" stroke-linecap="round"/>
<line x1="993" y1="679.7" x2="965.6" y2="690" stroke="#fbd8e8" stroke-width="3.6" stroke-linecap="round"/>
<line x1="995.8" y1="688.5" x2="967.8" y2="698.4" stroke="#fbd8e8" stroke-width="3.6" stroke-linecap="round"/>
<line x1="998.5" y1="697.3" x2="970" y2="706.8" stroke="#fbd8e8" stroke-width="3.6" stroke-linecap="round"/>
<line x1="1001" y1="706.1" x2="972.1" y2="715.2" stroke="#fbd8e8" stroke-width="3.6" stroke-linecap="round"/>
<line x1="1003.1" y1="715.1" x2="974" y2="723.6" stroke="#fbd8e8" stroke-width="3.6" stroke-linecap="round"/>
<line x1="1004.9" y1="724.1" x2="975.8" y2="732.1" stroke="#fbd8e8" stroke-width="3.6" stroke-linecap="round"/>
<line x1="1006.1" y1="733.2" x2="977.4" y2="740.6" stroke="#fbd8e8" stroke-width="3.6" stroke-linecap="round"/>
<line x1="1007" y1="742.4" x2="978.7" y2="749.2" stroke="#fbd8e8" stroke-width="3.6" stroke-linecap="round"/>
<line x1="1007.6" y1="751.6" x2="979.7" y2="757.8" stroke="#fbd8e8" stroke-width="3.6" stroke-linecap="round"/>
<line x1="1008" y1="760.8" x2="980.4" y2="766.4" stroke="#fbd8e8" stroke-width="3.6" stroke-linecap="round"/>
<line x1="1008.3" y1="770" x2="980.8" y2="775" stroke="#fbd8e8" stroke-width="3.6" stroke-linecap="round"/>
<line x1="1008.4" y1="779.2" x2="980.9" y2="783.7" stroke="#fbd8e8" stroke-width="3.6" stroke-linecap="round"/>
<line x1="1008.5" y1="788.4" x2="980.8" y2="792.4" stroke="#fbd8e8" stroke-width="3.6" stroke-linecap="round"/>
<line x1="1008.4" y1="797.6" x2="980.5" y2="801" stroke="#fbd8e8" stroke-width="3.6" stroke-linecap="round"/>
<line x1="1007.9" y1="806.8" x2="979.8" y2="809.7" stroke="#fbd8e8" stroke-width="3.6" stroke-linecap="round"/>
<line x1="1006.6" y1="816" x2="978.9" y2="818.3" stroke="#fbd8e8" stroke-width="3.6" stroke-linecap="round"/>
<line x1="1005.2" y1="825" x2="978" y2="826.9" stroke="#fbd8e8" stroke-width="3.6" stroke-linecap="round"/>
<line x1="1004.4" y1="834.2" x2="977.3" y2="835.5" stroke="#fbd8e8" stroke-width="3.6" stroke-linecap="round"/>
<line x1="1004.1" y1="843.4" x2="976.3" y2="844.2" stroke="#fbd8e8" stroke-width="3.6" stroke-linecap="round"/>
<line x1="1003.6" y1="852.7" x2="974.7" y2="852.7" stroke="#fbd8e8" stroke-width="3.6" stroke-linecap="round"/>
<line x1="1002.7" y1="861.8" x2="972.9" y2="861.2" stroke="#fbd8e8" stroke-width="3.6" stroke-linecap="round"/>
<line x1="1000.9" y1="870.9" x2="971" y2="869.6" stroke="#fbd8e8" stroke-width="3.6" stroke-linecap="round"/>
<line x1="998.4" y1="879.7" x2="969" y2="878.1" stroke="#fbd8e8" stroke-width="3.6" stroke-linecap="round"/>
<line x1="995.4" y1="888.4" x2="966.9" y2="886.4" stroke="#fbd8e8" stroke-width="3.6" stroke-linecap="round"/>
<line x1="992.2" y1="897" x2="964.8" y2="894.8" stroke="#fbd8e8" stroke-width="3.6" stroke-linecap="round"/>
<line x1="989.1" y1="905.7" x2="962.5" y2="903.2" stroke="#fbd8e8" stroke-width="3.6" stroke-linecap="round"/>
<line x1="985.7" y1="914.2" x2="960.2" y2="911.5" stroke="#fbd8e8" stroke-width="3.6" stroke-linecap="round"/>
<line x1="982.1" y1="922.7" x2="957.9" y2="919.8" stroke="#fbd8e8" stroke-width="3.6" stroke-linecap="round"/>
<line x1="978.8" y1="931.3" x2="955.4" y2="928.1" stroke="#fbd8e8" stroke-width="3.6" stroke-linecap="round"/>
<line x1="976" y1="940" x2="952.9" y2="936.4" stroke="#fbd8e8" stroke-width="3.6" stroke-linecap="round"/>
<line x1="973.7" y1="949" x2="950.3" y2="944.7" stroke="#fbd8e8" stroke-width="3.6" stroke-linecap="round"/>
<line x1="971.8" y1="958" x2="947.7" y2="953" stroke="#fbd8e8" stroke-width="3.6" stroke-linecap="round"/>
<line x1="969.9" y1="967.1" x2="944.9" y2="961.2" stroke="#fbd8e8" stroke-width="3.6" stroke-linecap="round"/>
<line x1="968" y1="976.1" x2="942.1" y2="969.4" stroke="#fbd8e8" stroke-width="3.6" stroke-linecap="round"/>
<line x1="965.8" y1="985" x2="939.2" y2="977.6" stroke="#fbd8e8" stroke-width="3.6" stroke-linecap="round"/>
<line x1="963.4" y1="993.9" x2="936.4" y2="985.8" stroke="#fbd8e8" stroke-width="3.6" stroke-linecap="round"/>
<line x1="961" y1="1002.8" x2="933.5" y2="994" stroke="#fbd8e8" stroke-width="3.6" stroke-linecap="round"/>
<path d="M983,659 L1051.9,625.6 Q1066.5,621.7 1070,631.5 L1091.5,690.6 Q1093,709.3 1082,707.8 L1001.8,723.7 Z" fill="#f7b5d0" stroke="#e274ab" stroke-width="1.8" stroke-linejoin="round"/>
<path d="M1001.8,724.6 L1081.8,710.7 Q1095.9,708.7 1099,725 L1101.8,782.2 Q1103.3,797.2 1089.4,795.7 L1005.5,793.8 Z" fill="#f7b5d0" stroke="#e274ab" stroke-width="1.8" stroke-linejoin="round"/>
<path d="M1005.5,794.6 L1087,796.5 Q1099.8,795.6 1101.5,809 L1095.3,863.8 Q1096.8,883.5 1080,882 L999,866 Z" fill="#f7b5d0" stroke="#e274ab" stroke-width="1.8" stroke-linejoin="round"/>
<path d="M998.6,867 L1079,882.7 Q1090.3,882.9 1090.7,898.3 L1074.7,951.7 Q1076.2,965.8 1061.4,964.3 L973.7,937.2 Z" fill="#f7b5d0" stroke="#e274ab" stroke-width="1.8" stroke-linejoin="round"/>
<path d="M973.7,938.1 L1055.6,963.4 Q1067.4,964.2 1068.2,978.7 L1046.7,1028.4 Q1048.2,1043.4 1035.2,1041.9 L956.9,1006.3 Z" fill="#f7b5d0" stroke="#e274ab" stroke-width="1.8" stroke-linejoin="round"/>
<ellipse cx="1056" cy="664.8" rx="16.5" ry="18" fill="#ee95bd"/>
<ellipse cx="1072.8" cy="749" rx="16.5" ry="18" fill="#ee95bd"/>
<ellipse cx="1071.9" cy="834.3" rx="16.5" ry="18" fill="#ee95bd"/>
<ellipse cx="1057.9" cy="915.6" rx="16.5" ry="18" fill="#ee95bd"/>
<ellipse cx="1033.6" cy="993.2" rx="16.5" ry="18" fill="#ee95bd"/></g>
<ellipse cx="969.9" cy="826" rx="216.2" ry="221.7" fill="none" stroke="#151515" stroke-width="2.9"/>
<rect x="900" y="814.4" width="358" height="3.8" fill="url(#longArr)"/>
<path d="M1254,805L1278.7,816.5L1254,828.2Z" fill="#1a1a1a"/>
<path d="M101.5,122C100.8,119.7 98.4,112 97,108C95.6,104 94.8,101.3 93,98C91.2,94.7 88.5,89.7 86,88C83.5,86.3 79.8,86.8 78,88C76.2,89.2 74.7,93 75,95C75.3,97 78,99.7 80,100C82,100.3 85.7,99 87,97C88.3,95 88.8,91.5 88,88C87.2,84.5 84.3,79.5 82,76C79.7,72.5 76.7,69.5 74,67C71.3,64.5 67.3,62 66,61" fill="none" stroke="#cf66b3" stroke-width="4" stroke-linecap="round"/>
<path d="M90.5,113.5L172.3,114L159.3,245L105.6,247Z" fill="#dcd9e6" stroke="#c3c0d2" stroke-width="1.5" stroke-linejoin="round"/>
<path d="M94,121L168.8,121L157,233L108,235Z" fill="#8d72c5"/>
<path d="M94,121C94,120.1 103.8,118.7 110,118.5C116.2,118.3 124.3,120 131,120C137.7,120 143.7,118.3 150,118.5C156.3,118.7 168.8,120.1 168.8,121C168.8,121.9 156.3,123.7 150,124C143.7,124.3 137.7,123 131,123C124.3,123 116.2,124.3 110,124C103.8,123.7 94,121.9 94,121Z" fill="#9a83cf"/>
<path d="M152,125L165,124L156,232L149,232Z" fill="#a08ad2" opacity="0.7"/>
<circle cx="153.5" cy="223.6" r="0.8" fill="#6f55ad"/>
<circle cx="153.7" cy="136.5" r="1.3" fill="#6f55ad"/>
<circle cx="121.9" cy="195" r="1.2" fill="#6f55ad"/>
<circle cx="136.5" cy="188.7" r="0.9" fill="#6f55ad"/>
<circle cx="125.7" cy="171.1" r="1.3" fill="#6f55ad"/>
<circle cx="153.3" cy="227.5" r="1.2" fill="#6f55ad"/>
<circle cx="118.5" cy="172.5" r="0.8" fill="#6f55ad"/>
<circle cx="129.2" cy="130.7" r="1" fill="#6f55ad"/>
<circle cx="155.2" cy="166" r="1.2" fill="#6f55ad"/>
<circle cx="117.4" cy="184.1" r="0.8" fill="#6f55ad"/>
<circle cx="109.8" cy="160.5" r="1.2" fill="#6f55ad"/>
<circle cx="140.5" cy="227.9" r="0.9" fill="#6f55ad"/>
<circle cx="146.8" cy="217.4" r="1.3" fill="#6f55ad"/>
<circle cx="145.1" cy="218.7" r="1.4" fill="#6f55ad"/>
<circle cx="160.7" cy="163.4" r="1.5" fill="#6f55ad"/>
<circle cx="148" cy="144.1" r="1.3" fill="#6f55ad"/>
<circle cx="133.7" cy="174.1" r="1.1" fill="#6f55ad"/>
<circle cx="132.4" cy="220.5" r="1.4" fill="#6f55ad"/>
<circle cx="154.8" cy="163.4" r="1.4" fill="#6f55ad"/>
<circle cx="135.9" cy="174.1" r="1.4" fill="#6f55ad"/>
<circle cx="131.5" cy="200.4" r="1" fill="#6f55ad"/>
<circle cx="143.9" cy="160.5" r="0.9" fill="#6f55ad"/>
<circle cx="121.2" cy="218.8" r="1.4" fill="#6f55ad"/>
<circle cx="159.7" cy="159" r="1.3" fill="#6f55ad"/>
<circle cx="133" cy="178.4" r="1.3" fill="#6f55ad"/>
<circle cx="121.7" cy="186.8" r="0.9" fill="#6f55ad"/>
<circle cx="156.6" cy="179.2" r="1.2" fill="#6f55ad"/>
<circle cx="152.7" cy="135.5" r="1.3" fill="#6f55ad"/>
<circle cx="117.5" cy="218.8" r="1.3" fill="#6f55ad"/>
<circle cx="141.7" cy="133.9" r="1" fill="#6f55ad"/>
<circle cx="155.3" cy="150.7" r="0.9" fill="#6f55ad"/>
<circle cx="152" cy="180.2" r="1" fill="#6f55ad"/>
<circle cx="155.7" cy="149" r="1.1" fill="#6f55ad"/>
<circle cx="107.7" cy="199.7" r="1.1" fill="#6f55ad"/>
<circle cx="142.7" cy="145.2" r="0.9" fill="#6f55ad"/>
<circle cx="110" cy="223.5" r="1.3" fill="#6f55ad"/>
<circle cx="115.2" cy="130.1" r="1.4" fill="#6f55ad"/>
<circle cx="111.4" cy="143.7" r="1.3" fill="#6f55ad"/>
<circle cx="104.8" cy="166.6" r="1.5" fill="#6f55ad"/>
<circle cx="101.9" cy="143.1" r="1" fill="#6f55ad"/>
<circle cx="145.3" cy="189.5" r="0.9" fill="#6f55ad"/>
<circle cx="103.5" cy="161.7" r="1.1" fill="#6f55ad"/>
<circle cx="144.5" cy="204.6" r="1.4" fill="#6f55ad"/>
<circle cx="150.9" cy="203.6" r="1.3" fill="#6f55ad"/>
<circle cx="116.2" cy="175.3" r="1.3" fill="#6f55ad"/>
<circle cx="107.6" cy="159.6" r="1.1" fill="#6f55ad"/>
<circle cx="114.1" cy="215.5" r="1.2" fill="#6f55ad"/>
<circle cx="132.8" cy="167.3" r="0.9" fill="#6f55ad"/>
<circle cx="121.1" cy="224" r="1.2" fill="#6f55ad"/>
<circle cx="103.7" cy="170" r="1.2" fill="#6f55ad"/>
<circle cx="103.1" cy="142.1" r="0.8" fill="#6f55ad"/>
<circle cx="105.8" cy="144.1" r="1.2" fill="#6f55ad"/>
<circle cx="159.4" cy="178.8" r="1.5" fill="#6f55ad"/>
<circle cx="120" cy="227.5" r="1.1" fill="#6f55ad"/>
<circle cx="137.5" cy="153.1" r="1.2" fill="#6f55ad"/>
<path d="M107,234.5L158,233L159.3,245L105.6,247Z" fill="#d3d0de"/>
<ellipse cx="131.3" cy="113.5" rx="40.2" ry="3.2" fill="none" stroke="#c9c6d6" stroke-width="1.4"/>
<path d="M294,184C298,184 301.5,178.8 306,178C310.5,177.2 316.7,177.3 321,179C325.3,180.7 329.3,183.7 332,188C334.7,192.3 336.7,198.7 337,205C337.3,211.3 336.2,219.7 334,226C331.8,232.3 328.3,238.7 324,243C319.7,247.3 313,250.8 308,252C303,253.2 298.7,250 294,250C289.3,250 285,253.2 280,252C275,250.8 268.3,247.3 264,243C259.7,238.7 256,232.3 254,226C252,219.7 251.5,211.3 252,205C252.5,198.7 254.3,192.3 257,188C259.7,183.7 263.8,180.7 268,179C272.2,177.3 277.7,177.2 282,178C286.3,178.8 290,184 294,184Z" fill="url(#appleG)"/>
<path d="M262,196C262.7,194.7 264,190 266,188C268,186 272.7,184.7 274,184" fill="none" stroke="#e8676a" stroke-width="3" stroke-linecap="round" opacity="0.7"/>
<path d="M280,186C282.3,186.7 289.3,190 294,190C298.7,190 305.7,186.7 308,186" fill="none" stroke="#a3161b" stroke-width="2" opacity="0.6"/>
<path d="M293.5,187C293.7,185.5 293.9,180.7 294.5,178C295.1,175.3 296,172.9 297,171C298,169.1 299.9,167.2 300.5,166.5" fill="none" stroke="#7a2a1e" stroke-width="2.6" stroke-linecap="round"/>
<path d="M272.7,156.4C274.2,155.4 280.9,158.1 284,160C287.1,161.9 289.6,164.8 291,168C292.4,171.2 294.1,178 292.6,179C291.1,180 284.9,176.2 282,174C279.1,171.8 276.6,168.9 275,166C273.4,163.1 271.2,157.4 272.7,156.4Z" fill="#4fa04a"/>
<path d="M274,158C275.5,159.3 280.2,162.8 283,166C285.8,169.2 289.7,175.2 291,177" fill="none" stroke="#3a8538" stroke-width="1"/>
<path d="M83.6,227.3C84.4,228.1 87.9,226.6 88.7,232C89.5,237.4 89.1,250.3 88.5,260C87.9,269.7 86.2,280.3 85,290C83.8,299.7 82.4,309.7 81,318C79.6,326.3 77.4,336.3 76.7,340L65.6,340C65.4,335 64.8,320.3 64.5,310C64.2,299.7 63.4,287.7 64,278C64.6,268.3 66.2,259 68,252C69.8,245 72.4,240.1 75,236C77.6,231.9 82.2,228.8 83.6,227.3Z" fill="url(#silverG)" stroke="#9da1a4" stroke-width="1.4" stroke-linejoin="round"/>
<path d="M65.6,340C64.7,348.3 62.1,375 60,390C57.9,405 54.8,419.2 53,430C51.2,440.8 49.5,449 49,455C48.5,461 49.8,464.2 50,466C51.2,466.9 54.5,471.3 57,471.5C59.5,471.7 63.7,467.8 65,467C65.3,465.2 66.3,462.2 67,456C67.7,449.8 68,441 69,430C70,419 71.7,405 73,390C74.3,375 76.1,348.3 76.7,340Z" fill="#c6cacd" stroke="#9da1a4" stroke-width="1.4" stroke-linejoin="round"/>
<path d="M84,238C84.1,242 85,253 84.5,262C84,271 82.4,281.5 81,292C79.6,302.5 76.8,319.5 76,325" fill="none" stroke="#eef0f1" stroke-width="3" stroke-linecap="round" opacity="0.8"/>
<path d="M70,345C69.3,352.5 67.7,375.8 66,390C64.3,404.2 61.7,418.7 60,430C58.3,441.3 56.7,453.3 56,458" fill="none" stroke="#e4e7e8" stroke-width="2.4" stroke-linecap="round" opacity="0.8"/>
<path d="M23.5,246 L25.5,282 C26,298 32,307 41,312 L42.5,314 L52,312 L50.5,309 C54.5,303 55,294 53,281 L50.6,246 L47,246 L47.5,279 L44,279 L42,246 L38.4,246 L38.8,279 L35.2,279 L33,246 L29.4,246 L30.4,279 L27.6,279 L27,246 Z" fill="url(#silverG)" stroke="#9da1a4" stroke-width="1.3" stroke-linejoin="round"/>
<path d="M42.5,312C43.8,323.3 47.4,360.3 50,380C52.6,399.7 55.9,417 58,430C60.1,443 61.6,451.7 62.6,458C63.6,464.3 63.8,466.3 64,468C65.7,468.6 71,472.2 74,471.5C77,470.8 80.7,465.2 82,464C81.7,462 81.5,457.7 80,452C78.5,446.3 76,442 73,430C70,418 65.5,399.8 62,380C58.5,360.2 53.7,322.5 52,311Z" fill="#cfd3d5" stroke="#9da1a4" stroke-width="1.4" stroke-linejoin="round"/>
<path d="M47.5,318C48.9,328.7 52.9,363 56,382C59.1,401 63.3,419.3 66,432C68.7,444.7 71,453.7 72,458" fill="none" stroke="#eef0f1" stroke-width="2.6" stroke-linecap="round" opacity="0.85"/>
<circle cx="209" cy="353.6" r="115.4" fill="#e9e9ec" stroke="#cfcfd4" stroke-width="2"/>
<circle cx="209" cy="353.6" r="104" fill="#efeff1"/>
<circle cx="209" cy="353.6" r="92" fill="#ebebee"/>
<circle cx="190.9" cy="279" r="14.5" fill="#3f9b49"/><circle cx="190.9" cy="279" r="11.9" fill="#9ed48a"/><circle cx="190.9" cy="279" r="7.2" fill="#c3e5a6"/><circle cx="190.9" cy="279" r="7.2" fill="none" stroke="#8fca7c" stroke-width="1.2" stroke-dasharray="2 2.5"/>
<circle cx="140.9" cy="299" r="15.5" fill="#3f9b49"/><circle cx="140.9" cy="299" r="12.9" fill="#9ed48a"/><circle cx="140.9" cy="299" r="7.8" fill="#c3e5a6"/><circle cx="140.9" cy="299" r="7.8" fill="none" stroke="#8fca7c" stroke-width="1.2" stroke-dasharray="2 2.5"/>
<circle cx="160.9" cy="277.3" r="15.5" fill="#3f9b49"/><circle cx="160.9" cy="277.3" r="12.9" fill="#9ed48a"/><circle cx="160.9" cy="277.3" r="7.8" fill="#c3e5a6"/><circle cx="160.9" cy="277.3" r="7.8" fill="none" stroke="#8fca7c" stroke-width="1.2" stroke-dasharray="2 2.5"/>
<circle cx="178.2" cy="300" r="16" fill="#3f9b49"/><circle cx="178.2" cy="300" r="13.4" fill="#9ed48a"/><circle cx="178.2" cy="300" r="8" fill="#c3e5a6"/><circle cx="178.2" cy="300" r="8" fill="none" stroke="#8fca7c" stroke-width="1.2" stroke-dasharray="2 2.5"/>
<circle cx="178.2" cy="326.4" r="15.5" fill="#3f9b49"/><circle cx="178.2" cy="326.4" r="12.9" fill="#9ed48a"/><circle cx="178.2" cy="326.4" r="7.8" fill="#c3e5a6"/><circle cx="178.2" cy="326.4" r="7.8" fill="none" stroke="#8fca7c" stroke-width="1.2" stroke-dasharray="2 2.5"/>
<g><path d="M99,322.7C99.9,318.3 109.6,313.2 116.4,311.8C123.2,310.4 132.4,311.9 140,314.5C147.6,317.1 154.8,322.4 161.8,327.3C168.8,332.2 175.8,338.5 181.8,343.6C187.8,348.7 196.8,354.1 198,358C199.2,361.9 195,366.1 189,367.3C183,368.6 170.9,367.6 161.8,365.5C152.7,363.4 143,359.1 134.5,354.5C126,349.9 116.9,343.3 111,338C105.1,332.7 98.1,327.1 99,322.7Z" fill="#b27ab3" stroke="#a56aa8" stroke-width="1"/>
<path d="M111.5,327.4L113.2,328.5L115.4,329.6L118,330.9L120.9,332.3L124,333.8L127.1,335.4L130.2,336.9L133,338.5L135.8,340.1L138.6,341.8L141.4,343.5L144.4,345.3L147.4,347.2L150.5,349L153.7,350.9L157,352.7L160.5,354.6L164.4,356.7L168.5,358.8L172.6,360.8L176.5,362.8L180,364.7L182.9,366.2L185.1,367.4L190.9,356.6L188.7,355.4L185.8,353.8L182.3,352L178.5,349.8L174.5,347.5L170.5,345.3L166.6,343.1L163,341.3L159.8,339.6L156.5,337.9L153.3,336.3L150,334.8L146.8,333.3L143.5,331.9L140.2,330.6L137,329.5L133.5,328.5L130,327.6L126.4,326.7L123,326L119.7,325.4L116.8,325L114.4,324.7L112.5,324.6Z" fill="#f8f1f7"/>
<line x1="118.9" y1="328.2" x2="107.1" y2="336" stroke="#f1e0f0" stroke-width="2.2" stroke-linecap="round"/>
<line x1="118.9" y1="328.2" x2="113.8" y2="315" stroke="#f1e0f0" stroke-width="2.2" stroke-linecap="round"/>
<line x1="128.6" y1="331.5" x2="113.6" y2="340.6" stroke="#f1e0f0" stroke-width="2.2" stroke-linecap="round"/>
<line x1="128.6" y1="331.5" x2="123" y2="314.9" stroke="#f1e0f0" stroke-width="2.2" stroke-linecap="round"/>
<line x1="138" y1="335.4" x2="120.3" y2="344" stroke="#f1e0f0" stroke-width="2.2" stroke-linecap="round"/>
<line x1="138" y1="335.4" x2="133.4" y2="316.2" stroke="#f1e0f0" stroke-width="2.2" stroke-linecap="round"/>
<line x1="147.2" y1="340.1" x2="128.3" y2="348.1" stroke="#f1e0f0" stroke-width="2.2" stroke-linecap="round"/>
<line x1="147.2" y1="340.1" x2="143.5" y2="319.9" stroke="#f1e0f0" stroke-width="2.2" stroke-linecap="round"/>
<line x1="156.7" y1="345.2" x2="138.6" y2="353" stroke="#f1e0f0" stroke-width="2.2" stroke-linecap="round"/>
<line x1="156.7" y1="345.2" x2="153.2" y2="325.9" stroke="#f1e0f0" stroke-width="2.2" stroke-linecap="round"/>
<line x1="167.4" y1="351" x2="151.4" y2="357.9" stroke="#f1e0f0" stroke-width="2.2" stroke-linecap="round"/>
<line x1="167.4" y1="351" x2="164.2" y2="333.8" stroke="#f1e0f0" stroke-width="2.2" stroke-linecap="round"/>
<line x1="179.4" y1="357.4" x2="166.4" y2="362.9" stroke="#f1e0f0" stroke-width="2.2" stroke-linecap="round"/>
<line x1="179.4" y1="357.4" x2="176.9" y2="343.5" stroke="#f1e0f0" stroke-width="2.2" stroke-linecap="round"/>
<path d="M99,322.7C99.9,318.3 109.6,313.2 116.4,311.8C123.2,310.4 132.4,311.9 140,314.5C147.6,317.1 154.8,322.4 161.8,327.3C168.8,332.2 175.8,338.5 181.8,343.6C187.8,348.7 196.8,354.1 198,358C199.2,361.9 195,366.1 189,367.3C183,368.6 170.9,367.6 161.8,365.5C152.7,363.4 143,359.1 134.5,354.5C126,349.9 116.9,343.3 111,338C105.1,332.7 98.1,327.1 99,322.7Z" fill="none" stroke="#a56aa8" stroke-width="1"/></g>
<g><path d="M88,367.3C88.3,362.8 96.4,356.6 103.6,354.5C110.8,352.4 122.2,352.7 131,354.5C139.8,356.3 147.9,361.2 156.4,365.5C164.9,369.8 173.6,374.6 181.8,380C190,385.4 203.7,393.4 205.5,398C207.3,402.6 200,406.4 192.7,407.3C185.4,408.2 172.1,405.7 161.8,403.6C151.5,401.5 141,398.1 131,394.5C121,390.9 109,386.3 101.8,381.8C94.6,377.3 87.7,371.9 88,367.3Z" fill="#b27ab3" stroke="#a56aa8" stroke-width="1"/>
<path d="M99.7,371.5L101.8,372.4L104.5,373.4L107.8,374.5L111.5,375.6L115.3,376.9L119.3,378.1L123.1,379.4L126.7,380.7L130.2,382L133.6,383.4L137.1,384.7L140.6,386.1L144.2,387.5L147.9,388.9L151.7,390.4L155.6,392L159.9,393.8L164.8,395.9L170,398.1L175.3,400.3L180.3,402.5L184.8,404.6L188.6,406.3L191.5,407.6L196.5,396.4L193.7,395.1L190,393.4L185.4,391.3L180.5,388.9L175.3,386.4L170,384L165,381.8L160.4,380L156.2,378.4L152.2,377L148.2,375.8L144.4,374.7L140.6,373.7L136.8,372.8L133.1,372L129.3,371.3L125.3,370.6L121.1,370L116.9,369.5L112.8,369.1L108.9,368.8L105.4,368.6L102.5,368.5L100.3,368.5Z" fill="#f8f1f7"/>
<line x1="108.4" y1="371.6" x2="97.6" y2="380.8" stroke="#f1e0f0" stroke-width="2.2" stroke-linecap="round"/>
<line x1="108.4" y1="371.6" x2="101.8" y2="359.1" stroke="#f1e0f0" stroke-width="2.2" stroke-linecap="round"/>
<line x1="120.2" y1="374.1" x2="106.5" y2="385" stroke="#f1e0f0" stroke-width="2.2" stroke-linecap="round"/>
<line x1="120.2" y1="374.1" x2="112.5" y2="358.4" stroke="#f1e0f0" stroke-width="2.2" stroke-linecap="round"/>
<line x1="131.6" y1="377" x2="115.5" y2="388.4" stroke="#f1e0f0" stroke-width="2.2" stroke-linecap="round"/>
<line x1="131.6" y1="377" x2="124" y2="358.8" stroke="#f1e0f0" stroke-width="2.2" stroke-linecap="round"/>
<line x1="142.5" y1="380.4" x2="125.3" y2="391.5" stroke="#f1e0f0" stroke-width="2.2" stroke-linecap="round"/>
<line x1="142.5" y1="380.4" x2="135.4" y2="361.2" stroke="#f1e0f0" stroke-width="2.2" stroke-linecap="round"/>
<line x1="153.9" y1="384.4" x2="137" y2="394.5" stroke="#f1e0f0" stroke-width="2.2" stroke-linecap="round"/>
<line x1="153.9" y1="384.4" x2="147.9" y2="365.7" stroke="#f1e0f0" stroke-width="2.2" stroke-linecap="round"/>
<line x1="167.4" y1="390" x2="151.9" y2="398.1" stroke="#f1e0f0" stroke-width="2.2" stroke-linecap="round"/>
<line x1="167.4" y1="390" x2="162.9" y2="373.1" stroke="#f1e0f0" stroke-width="2.2" stroke-linecap="round"/>
<line x1="182.9" y1="396.9" x2="170.2" y2="403.3" stroke="#f1e0f0" stroke-width="2.2" stroke-linecap="round"/>
<line x1="182.9" y1="396.9" x2="179.4" y2="383.2" stroke="#f1e0f0" stroke-width="2.2" stroke-linecap="round"/>
<path d="M88,367.3C88.3,362.8 96.4,356.6 103.6,354.5C110.8,352.4 122.2,352.7 131,354.5C139.8,356.3 147.9,361.2 156.4,365.5C164.9,369.8 173.6,374.6 181.8,380C190,385.4 203.7,393.4 205.5,398C207.3,402.6 200,406.4 192.7,407.3C185.4,408.2 172.1,405.7 161.8,403.6C151.5,401.5 141,398.1 131,394.5C121,390.9 109,386.3 101.8,381.8C94.6,377.3 87.7,371.9 88,367.3Z" fill="none" stroke="#a56aa8" stroke-width="1"/></g>
<path d="M200,296C200.7,288.7 203.7,276.5 208,270C212.3,263.5 219,260 226,257C233,254 242.3,251.5 250,252C257.7,252.5 266,255.7 272,260C278,264.3 283,271.3 286,278C289,284.7 290.7,292.7 290,300C289.3,307.3 286.7,316.3 282,322C277.3,327.7 269.3,331.7 262,334C254.7,336.3 245.7,337 238,336C230.3,335 221.7,331.7 216,328C210.3,324.3 206.7,319.3 204,314C201.3,308.7 199.3,303.3 200,296Z" fill="#f8f5e9" stroke="#e6dfc9" stroke-width="1.6"/>
<circle cx="244.6" cy="302" r="30" fill="#f2edd9" opacity="0.8"/>
<circle cx="243.6" cy="301" r="21" fill="url(#yolkG)" stroke="#e6a521" stroke-width="1"/>
<path d="M230.6,295C231.1,294 232.1,290.5 233.6,289C235.1,287.5 238.6,286.5 239.6,286" fill="none" stroke="#fde58c" stroke-width="2.2" stroke-linecap="round"/>
<path d="M233,362C233.7,354.3 235.8,343 240,336C244.2,329 250.7,323.7 258,320C265.3,316.3 275.7,313.7 284,314C292.3,314.3 301.7,317.3 308,322C314.3,326.7 319.3,334.3 322,342C324.7,349.7 325.3,359.7 324,368C322.7,376.3 319,385.7 314,392C309,398.3 301.7,403.2 294,406C286.3,408.8 276,410.3 268,409C260,407.7 251.3,402.5 246,398C240.7,393.5 238.2,388 236,382C233.8,376 232.3,369.7 233,362Z" fill="#f8f5e9" stroke="#e6dfc9" stroke-width="1.6"/>
<circle cx="275.5" cy="364.6" r="30.5" fill="#f2edd9" opacity="0.8"/>
<circle cx="274.5" cy="363.6" r="21.5" fill="url(#yolkG)" stroke="#e6a521" stroke-width="1"/>
<path d="M261.5,357.6C262,356.6 263,353.1 264.5,351.6C266,350.1 269.5,349.1 270.5,348.6" fill="none" stroke="#fde58c" stroke-width="2.2" stroke-linecap="round"/>
<path d="M207.3,400C209.7,396.7 224.6,391.8 240,392.7C255.4,393.6 290.3,401.9 300,405.5C309.7,409.1 304.4,411.8 298,414.5C291.6,417.2 273.9,422.1 261.8,421.8C249.7,421.5 234.6,416.3 225.5,412.7C216.4,409.1 204.9,403.3 207.3,400Z" fill="#b27c4d" stroke="#9a6a3f" stroke-width="1"/>
<path d="M212.1,398.7C214.3,396.3 227.6,392.8 241.5,393.4C255.4,394.1 286.8,400 295.5,402.7C304.2,405.3 299.5,407.2 293.7,409.1C288,411.1 272,414.6 261.2,414.4C250.3,414.2 236.7,410.5 228.5,407.8C220.3,405.2 209.9,401.1 212.1,398.7Z" fill="#c99f6f"/>
<path d="M181.8,414.5C186.1,411.2 200.6,407.8 214.5,409C228.4,410.2 257.3,418.5 265.5,421.8C273.7,425.1 270.3,426 263.6,429C256.9,432 237.9,440 225.5,440C213.1,440 196.3,433.2 189,429C181.7,424.8 177.6,417.8 181.8,414.5Z" fill="#b27c4d" stroke="#9a6a3f" stroke-width="1"/>
<path d="M186,413.6C189.8,411.2 202.8,408.8 215.4,409.7C227.9,410.5 253.9,416.5 261.3,418.9C268.6,421.3 265.6,421.9 259.6,424.1C253.6,426.3 236.5,432 225.3,432C214.1,432 199,427.1 192.4,424.1C185.9,421 182.1,416 186,413.6Z" fill="#c99f6f"/>
<path d="M155.5,434.5C157.6,430.9 159.8,427 174.5,427.3C189.2,427.6 232.4,433.7 243.6,436.4C254.8,439.1 250.9,439.4 241.8,443.6C232.7,447.8 202.3,460.9 189,461.8C175.7,462.7 167.4,453.6 161.8,449C156.2,444.4 153.4,438.1 155.5,434.5Z" fill="#b27c4d" stroke="#9a6a3f" stroke-width="1"/>
<path d="M159.4,433.1C161.3,430.5 163.3,427.7 176.5,427.9C189.7,428.2 228.6,432.5 238.7,434.5C248.8,436.5 245.2,436.6 237.1,439.7C228.9,442.7 201.5,452.1 189.5,452.8C177.5,453.4 170.1,446.8 165.1,443.6C160,440.3 157.5,435.7 159.4,433.1Z" fill="#c99f6f"/>
<ellipse cx="209" cy="332.7" rx="21" ry="16.6" fill="#e04b34" stroke="#c93a27" stroke-width="1"/>
<path d="M206,322.7C204.3,321.2 199.2,322 197,323.7C194.8,325.4 193,329.7 193,332.7C193,335.7 195,340 197,341.7C199,343.4 203.3,344.2 205,342.7C206.7,341.2 206.8,336 207,332.7C207.2,329.4 207.7,324.2 206,322.7Z" fill="#a7201d"/>
<path d="M212,322.7C213.7,321.2 218.8,322 221,323.7C223.2,325.4 225,329.7 225,332.7C225,335.7 223,340 221,341.7C219,343.4 214.7,344.2 213,342.7C211.3,341.2 211.2,336 211,332.7C210.8,329.4 210.3,324.2 212,322.7Z" fill="#a7201d"/>
<ellipse cx="200" cy="332.7" rx="3.5" ry="5.5" fill="#d8543e"/>
<ellipse cx="218" cy="332.7" rx="3.5" ry="5.5" fill="#d8543e"/>
<path d="M204,316.7L209,318.7L215,315.7L212,319.7L207,319.7Z" fill="#4c8c3a"/>
<ellipse cx="224.5" cy="363.6" rx="21" ry="16.6" fill="#e04b34" stroke="#c93a27" stroke-width="1"/>
<path d="M221.5,353.6C219.8,352.1 214.7,352.9 212.5,354.6C210.3,356.3 208.5,360.6 208.5,363.6C208.5,366.6 210.5,370.9 212.5,372.6C214.5,374.3 218.8,375.1 220.5,373.6C222.2,372.1 222.3,366.9 222.5,363.6C222.7,360.3 223.2,355.1 221.5,353.6Z" fill="#a7201d"/>
<path d="M227.5,353.6C229.2,352.1 234.3,352.9 236.5,354.6C238.7,356.3 240.5,360.6 240.5,363.6C240.5,366.6 238.5,370.9 236.5,372.6C234.5,374.3 230.2,375.1 228.5,373.6C226.8,372.1 226.7,366.9 226.5,363.6C226.3,360.3 225.8,355.1 227.5,353.6Z" fill="#a7201d"/>
<ellipse cx="215.5" cy="363.6" rx="3.5" ry="5.5" fill="#d8543e"/>
<ellipse cx="233.5" cy="363.6" rx="3.5" ry="5.5" fill="#d8543e"/>
<path d="M219.5,347.6L224.5,349.6L230.5,346.6L227.5,350.6L222.5,350.6Z" fill="#4c8c3a"/>
<path d="M179,363.6C182.2,363.2 197.6,369.8 205,374C212.4,378.2 219,382.6 223.6,389C228.2,395.4 235.4,411.2 232.7,412.7C230,414.2 215.2,404.1 207.3,398C199.4,391.9 190.2,382.1 185.5,376.4C180.8,370.7 175.8,364 179,363.6Z" fill="#9fca70" stroke="#86b55a" stroke-width="1"/>
<path d="M179,363.6C183.1,365.4 195.9,370.1 203.3,374.3C210.7,378.5 220.2,386.6 223.6,389" fill="none" stroke="#6f9f48" stroke-width="2" stroke-dasharray="3 3"/>
<path d="M169,381.8C171.6,381.5 183.9,386 190,389C196.1,392 202,395.2 205.5,400C209,404.8 213.8,417.4 211,418C208.2,418.6 195.1,408.1 189,403.6C182.9,399.1 177.8,394.6 174.5,391C171.2,387.4 166.4,382.1 169,381.8Z" fill="#9fca70" stroke="#86b55a" stroke-width="1"/>
<path d="M169,381.8C172.4,383 183.2,385.9 189.2,388.9C195.3,391.9 202.8,398.1 205.5,400" fill="none" stroke="#6f9f48" stroke-width="2" stroke-dasharray="3 3"/>
<path d="M141.8,392.7C145.5,391.8 156.2,396.9 162,400C167.8,403.1 172.8,406.2 176.4,411C180,415.8 186,427.8 183.6,429C181.2,430.2 169.1,421.9 161.8,418C154.5,414.1 143.3,409.7 140,405.5C136.7,401.3 138.1,393.6 141.8,392.7Z" fill="#9fca70" stroke="#86b55a" stroke-width="1"/>
<path d="M141.8,392.7C145,393.9 155.3,396.8 161.1,399.9C166.9,402.9 173.9,409.1 176.4,411" fill="none" stroke="#6f9f48" stroke-width="2" stroke-dasharray="3 3"/>
<clipPath id="vesClip"><path d="M1298,368L1344,368L1344,659C1349.2,656.5 1362.8,650.7 1375,644C1387.2,637.3 1403.5,628.3 1417,619C1430.5,609.7 1443.7,600.2 1456,588C1468.3,575.8 1481.7,560.7 1491,546C1500.3,531.3 1506.2,515.2 1512,500C1517.8,484.8 1521.3,470.7 1526,455C1530.7,439.3 1534.8,419.8 1540,406C1545.2,392.2 1554.2,377.7 1557,372L1583,368C1579.8,372.5 1569.2,385.2 1564,395C1558.8,404.8 1555.2,415.3 1552,427C1548.8,438.7 1547.7,451.7 1545,465C1542.3,478.3 1539.2,494.7 1536,507C1532.8,519.3 1527.7,533.7 1526,539C1531.8,538.2 1549.3,534 1561,534C1572.7,534 1586.2,536.8 1596,539C1605.8,541.2 1616,545.7 1620,547L1620,565C1614.8,563.5 1599.5,557.5 1589,556C1578.5,554.5 1568.2,554.2 1557,556C1545.8,557.8 1531.8,561.2 1522,567C1512.2,572.8 1505.5,583.5 1498,591C1490.5,598.5 1484.3,605.3 1477,612C1469.7,618.7 1457.8,627.8 1454,631C1461.3,633.3 1483.7,640 1498,645C1512.3,650 1526,657.5 1540,661C1554,664.5 1568.7,666.2 1582,666C1595.3,665.8 1613.7,661 1620,660L1620,679C1612.5,679.5 1589.5,683 1575,682C1560.5,681 1548.2,677 1533,673C1517.8,669 1498,661.7 1484,658C1470,654.3 1458.3,652.2 1449,651C1439.7,649.8 1431.5,651 1428,651C1422.2,653.8 1403.5,661.7 1393,668C1382.5,674.3 1372,681.3 1365,689C1358,696.7 1354,705.2 1351,714C1348,722.8 1347.8,732.7 1347,742C1346.2,751.3 1345.3,757.8 1346,770C1346.7,782.2 1348.5,801.7 1351,815C1353.5,828.3 1356.3,839.5 1361,850C1365.7,860.5 1372.5,869.8 1379,878C1385.5,886.2 1391.8,892.7 1400,899C1408.2,905.3 1423.3,913.2 1428,916C1432.7,915.8 1444.3,917.8 1456,915C1467.7,912.2 1484,904.7 1498,899C1512,893.3 1526,885.2 1540,881C1554,876.8 1568.7,874 1582,874C1595.3,874 1613.7,879.8 1620,881L1620,902C1613.7,900.7 1595.3,894 1582,894C1568.7,894 1554,897.2 1540,902C1526,906.8 1512.3,916 1498,923C1483.7,930 1461.3,940.5 1454,944C1457.8,949.8 1469.7,967.8 1477,979C1484.3,990.2 1491,1001.7 1498,1011C1505,1020.3 1512,1028.7 1519,1035C1526,1041.3 1536.5,1046.7 1540,1049C1545.8,1049.7 1561.7,1054 1575,1053C1588.3,1052 1612.5,1044.7 1620,1043L1620,1072C1612.5,1073.8 1587.2,1080.8 1575,1082.5C1562.8,1084.2 1555.2,1083.4 1547,1082.5C1538.8,1081.6 1529.5,1077.9 1526,1077C1527.7,1083.5 1532.8,1101.3 1536,1116C1539.2,1130.7 1542.3,1149.3 1545,1165C1547.7,1180.7 1548.8,1193.7 1552,1210C1555.2,1226.3 1558.8,1244.3 1564,1263C1569.2,1281.7 1579.8,1312.2 1583,1322L1561,1324C1558,1316.7 1548.3,1296 1543,1280C1537.7,1264 1533,1247.2 1529,1228C1525,1208.8 1523,1186 1519,1165C1515,1144 1511.5,1121.3 1505,1102C1498.5,1082.7 1489.3,1066 1480,1049C1470.7,1032 1461.2,1015.7 1449,1000C1436.8,984.3 1419.8,967.2 1407,955C1394.2,942.8 1382.5,935.5 1372,927C1361.5,918.5 1348.7,907.8 1344,904L1344,1322L1298,1322L1298,368Z"/></clipPath>
<path d="M1298,368L1344,368L1344,659C1349.2,656.5 1362.8,650.7 1375,644C1387.2,637.3 1403.5,628.3 1417,619C1430.5,609.7 1443.7,600.2 1456,588C1468.3,575.8 1481.7,560.7 1491,546C1500.3,531.3 1506.2,515.2 1512,500C1517.8,484.8 1521.3,470.7 1526,455C1530.7,439.3 1534.8,419.8 1540,406C1545.2,392.2 1554.2,377.7 1557,372L1583,368C1579.8,372.5 1569.2,385.2 1564,395C1558.8,404.8 1555.2,415.3 1552,427C1548.8,438.7 1547.7,451.7 1545,465C1542.3,478.3 1539.2,494.7 1536,507C1532.8,519.3 1527.7,533.7 1526,539C1531.8,538.2 1549.3,534 1561,534C1572.7,534 1586.2,536.8 1596,539C1605.8,541.2 1616,545.7 1620,547L1620,565C1614.8,563.5 1599.5,557.5 1589,556C1578.5,554.5 1568.2,554.2 1557,556C1545.8,557.8 1531.8,561.2 1522,567C1512.2,572.8 1505.5,583.5 1498,591C1490.5,598.5 1484.3,605.3 1477,612C1469.7,618.7 1457.8,627.8 1454,631C1461.3,633.3 1483.7,640 1498,645C1512.3,650 1526,657.5 1540,661C1554,664.5 1568.7,666.2 1582,666C1595.3,665.8 1613.7,661 1620,660L1620,679C1612.5,679.5 1589.5,683 1575,682C1560.5,681 1548.2,677 1533,673C1517.8,669 1498,661.7 1484,658C1470,654.3 1458.3,652.2 1449,651C1439.7,649.8 1431.5,651 1428,651C1422.2,653.8 1403.5,661.7 1393,668C1382.5,674.3 1372,681.3 1365,689C1358,696.7 1354,705.2 1351,714C1348,722.8 1347.8,732.7 1347,742C1346.2,751.3 1345.3,757.8 1346,770C1346.7,782.2 1348.5,801.7 1351,815C1353.5,828.3 1356.3,839.5 1361,850C1365.7,860.5 1372.5,869.8 1379,878C1385.5,886.2 1391.8,892.7 1400,899C1408.2,905.3 1423.3,913.2 1428,916C1432.7,915.8 1444.3,917.8 1456,915C1467.7,912.2 1484,904.7 1498,899C1512,893.3 1526,885.2 1540,881C1554,876.8 1568.7,874 1582,874C1595.3,874 1613.7,879.8 1620,881L1620,902C1613.7,900.7 1595.3,894 1582,894C1568.7,894 1554,897.2 1540,902C1526,906.8 1512.3,916 1498,923C1483.7,930 1461.3,940.5 1454,944C1457.8,949.8 1469.7,967.8 1477,979C1484.3,990.2 1491,1001.7 1498,1011C1505,1020.3 1512,1028.7 1519,1035C1526,1041.3 1536.5,1046.7 1540,1049C1545.8,1049.7 1561.7,1054 1575,1053C1588.3,1052 1612.5,1044.7 1620,1043L1620,1072C1612.5,1073.8 1587.2,1080.8 1575,1082.5C1562.8,1084.2 1555.2,1083.4 1547,1082.5C1538.8,1081.6 1529.5,1077.9 1526,1077C1527.7,1083.5 1532.8,1101.3 1536,1116C1539.2,1130.7 1542.3,1149.3 1545,1165C1547.7,1180.7 1548.8,1193.7 1552,1210C1555.2,1226.3 1558.8,1244.3 1564,1263C1569.2,1281.7 1579.8,1312.2 1583,1322L1561,1324C1558,1316.7 1548.3,1296 1543,1280C1537.7,1264 1533,1247.2 1529,1228C1525,1208.8 1523,1186 1519,1165C1515,1144 1511.5,1121.3 1505,1102C1498.5,1082.7 1489.3,1066 1480,1049C1470.7,1032 1461.2,1015.7 1449,1000C1436.8,984.3 1419.8,967.2 1407,955C1394.2,942.8 1382.5,935.5 1372,927C1361.5,918.5 1348.7,907.8 1344,904L1344,1322L1298,1322L1298,368Z" fill="#bd5254" stroke="#9c2a2d" stroke-width="9.5" stroke-linejoin="round" clip-path="url(#vesClip)"/>
<rect x="1306" y="368" width="30" height="954" fill="#c05658" opacity="0.6"/>
<rect x="1290" y="362" width="62" height="26" fill="url(#fadeUp)"/>
<rect x="1545" y="362" width="46" height="22" fill="url(#fadeUp)"/>
<rect x="1290" y="1296" width="62" height="30" fill="url(#fadeDown)"/>
<rect x="1550" y="1300" width="42" height="28" fill="url(#fadeDown)"/>
<rect x="1598" y="530" width="21" height="560" fill="url(#fadeRight)"/><rect x="1618.5" y="530" width="8" height="560" fill="#c7dac8"/>
<clipPath id="muscClip"><path d="M1648.3,244.4C1646.7,250.7 1641,269.4 1638.9,282C1636.9,294.6 1636.4,309.5 1636,320C1635.6,330.5 1636.2,337.2 1636.5,345C1636.8,352.8 1637.3,357 1638,367C1638.7,377 1639.4,392.2 1640.8,404.8C1642.2,417.4 1644.5,430.9 1646.4,442.5C1648.3,454.1 1651.1,469.2 1652,474.6C1652.7,476.8 1654.2,484.3 1656,488C1657.8,491.7 1659.7,495.2 1663,497C1666.3,498.8 1672.3,500.2 1676,499C1679.7,497.8 1683,494.4 1685,490C1687,485.6 1687.5,475.6 1688,472.7C1689.2,467.7 1693,453.8 1695.5,442.5C1698,431.2 1700.8,417.4 1703,404.8C1705.2,392.2 1707.1,379.6 1708.7,367C1710.3,354.4 1711.6,341.6 1712.5,329.3C1713.4,317.1 1714,299.5 1714.3,293.5C1711.9,291.2 1705.7,285.2 1700,280C1694.3,274.8 1686.3,267 1680,262C1673.7,257 1667.3,252.9 1662,250C1656.7,247.1 1650.6,245.3 1648.3,244.4Z"/></clipPath>
<path d="M1648.3,244.4C1646.7,250.7 1641,269.4 1638.9,282C1636.9,294.6 1636.4,309.5 1636,320C1635.6,330.5 1636.2,337.2 1636.5,345C1636.8,352.8 1637.3,357 1638,367C1638.7,377 1639.4,392.2 1640.8,404.8C1642.2,417.4 1644.5,430.9 1646.4,442.5C1648.3,454.1 1651.1,469.2 1652,474.6C1652.7,476.8 1654.2,484.3 1656,488C1657.8,491.7 1659.7,495.2 1663,497C1666.3,498.8 1672.3,500.2 1676,499C1679.7,497.8 1683,494.4 1685,490C1687,485.6 1687.5,475.6 1688,472.7C1689.2,467.7 1693,453.8 1695.5,442.5C1698,431.2 1700.8,417.4 1703,404.8C1705.2,392.2 1707.1,379.6 1708.7,367C1710.3,354.4 1711.6,341.6 1712.5,329.3C1713.4,317.1 1714,299.5 1714.3,293.5C1711.9,291.2 1705.7,285.2 1700,280C1694.3,274.8 1686.3,267 1680,262C1673.7,257 1667.3,252.9 1662,250C1656.7,247.1 1650.6,245.3 1648.3,244.4Z" fill="#c96c5d"/>
<g clip-path="url(#muscClip)"><path d="M1645,466L1700,466L1700,505L1645,505Z" fill="#e2dcd2"/>
<path d="M1649,244C1646.3,247.8 1642.2,270.7 1640,285C1637.8,299.3 1636.3,312.5 1636,330C1635.7,347.5 1636.3,370 1638,390C1639.7,410 1643.2,434.7 1646,450C1648.8,465.3 1652.2,478.7 1655,482C1657.8,485.3 1662,480.3 1663,470C1664,459.7 1662,438.3 1661,420C1660,401.7 1658,380 1657,360C1656,340 1655.2,316.3 1655,300C1654.8,283.7 1657,271.3 1656,262C1655,252.7 1651.7,240.2 1649,244Z" fill="#c46656"/>
<path d="M1658,250C1659.2,250 1660.3,283.3 1662,300C1663.7,316.7 1665.3,333.3 1668,350C1670.7,366.7 1674.7,385 1678,400C1681.3,415 1686,427 1688,440C1690,453 1691.2,471 1690,478C1688.8,485 1683.7,488.3 1681,482C1678.3,475.7 1676.3,452 1674,440C1671.7,428 1669.3,425 1667,410C1664.7,395 1662,368.3 1660,350C1658,331.7 1655.3,316.7 1655,300C1654.7,283.3 1656.8,250 1658,250Z" fill="#d07a69"/>
<path d="M1670,256C1668,259.7 1683,284.3 1688,300C1693,315.7 1697.5,333.3 1700,350C1702.5,366.7 1703.5,385 1703,400C1702.5,415 1699.3,427 1697,440C1694.7,453 1688.7,479.7 1689,478C1689.3,476.3 1695.5,449.7 1699,430C1702.5,410.3 1707.2,382.7 1710,360C1712.8,337.3 1717.7,307.7 1716,294C1714.3,280.3 1707.7,284.3 1700,278C1692.3,271.7 1672,252.3 1670,256Z" fill="#c56857"/>
<path d="M1662,468C1660.3,458.3 1661.7,448 1662,440C1662.3,432 1663,424.7 1664,420C1665,415.3 1666.5,408.7 1668,412C1669.5,415.3 1671,428.3 1673,440C1675,451.7 1680.2,472.3 1680,482C1679.8,491.7 1675,500.3 1672,498C1669,495.7 1663.7,477.7 1662,468Z" fill="#ece5dc"/>
<path d="M1659,246C1660.2,253.3 1663,274.3 1666,290C1669,305.7 1673.2,323.3 1677,340C1680.8,356.7 1685.8,375 1689,390C1692.2,405 1694.5,419.2 1696,430C1697.5,440.8 1697.7,450.8 1698,455" fill="none" stroke="#d88b7b" stroke-width="7" stroke-linecap="round"/>
<path d="M1655,246C1656.2,253.3 1659,274.3 1662,290C1665,305.7 1669.2,323.3 1673,340C1676.8,356.7 1681.8,375 1685,390C1688.2,405 1690.5,419.2 1692,430C1693.5,440.8 1693.7,450.8 1694,455" fill="none" stroke="#b3574a" stroke-width="1.2"/>
<path d="M1663,246C1664.2,253.3 1667,274.3 1670,290C1673,305.7 1677.2,323.3 1681,340C1684.8,356.7 1689.8,375.3 1693,390C1696.2,404.7 1698.7,418 1700,428C1701.3,438 1700.8,446.3 1701,450" fill="none" stroke="#b3574a" stroke-width="1.2"/>
<ellipse cx="1655.5" cy="314" rx="12" ry="23" fill="url(#tendG)"/>
<path d="M1637,318C1637.3,320 1638.8,326.3 1639,330C1639.2,333.7 1638.2,338.3 1638,340" fill="none" stroke="#efe6e0" stroke-width="3" stroke-linecap="round" opacity="0.7"/>
<path d="M1648,250C1647,264.2 1642.3,306.7 1642,335C1641.7,363.3 1644.3,395.8 1646,420C1647.7,444.2 1651,470 1652,480" fill="none" stroke="#b3574a" stroke-width="0.8" opacity="0.5"/>
<path d="M1656.5,255C1655.5,268.3 1650.8,307.5 1650.5,335C1650.2,362.5 1652.8,395.8 1654.5,420C1656.2,444.2 1659.5,470 1660.5,480" fill="none" stroke="#b3574a" stroke-width="0.8" opacity="0.5"/>
<path d="M1665,260C1664,272.5 1659.3,308.3 1659,335C1658.7,361.7 1661.3,395.8 1663,420C1664.7,444.2 1668,470 1669,480" fill="none" stroke="#b3574a" stroke-width="0.8" opacity="0.5"/>
<path d="M1673.5,265C1672.5,276.7 1667.8,309.2 1667.5,335C1667.2,360.8 1669.8,395.8 1671.5,420C1673.2,444.2 1676.5,470 1677.5,480" fill="none" stroke="#b3574a" stroke-width="0.8" opacity="0.5"/>
<path d="M1682,270C1681,280.8 1676.3,310 1676,335C1675.7,360 1678.3,395.8 1680,420C1681.7,444.2 1685,470 1686,480" fill="none" stroke="#b3574a" stroke-width="0.8" opacity="0.5"/>
<path d="M1690.5,275C1689.5,285 1684.8,310.8 1684.5,335C1684.2,359.2 1686.8,395.8 1688.5,420C1690.2,444.2 1693.5,470 1694.5,480" fill="none" stroke="#b3574a" stroke-width="0.8" opacity="0.5"/>
<path d="M1699,280C1698,289.2 1693.3,311.7 1693,335C1692.7,358.3 1695.3,395.8 1697,420C1698.7,444.2 1702,470 1703,480" fill="none" stroke="#b3574a" stroke-width="0.8" opacity="0.5"/>
<path d="M1707.5,285C1706.5,293.3 1701.8,312.5 1701.5,335C1701.2,357.5 1703.8,395.8 1705.5,420C1707.2,444.2 1710.5,470 1711.5,480" fill="none" stroke="#b3574a" stroke-width="0.8" opacity="0.5"/>
<path d="M1716,290C1715,297.5 1710.3,313.3 1710,335C1709.7,356.7 1712.3,395.8 1714,420C1715.7,444.2 1719,470 1720,480" fill="none" stroke="#b3574a" stroke-width="0.8" opacity="0.5"/></g>
<path d="M1659.6,242.5C1661.3,241.2 1667.3,241.2 1672,242.5C1676.7,243.8 1683,246.4 1688,250C1693,253.6 1698,258.7 1702,264C1706,269.3 1709.8,277 1712,282C1714.2,287 1717,294.2 1715,294C1713,293.8 1705.8,285.8 1700,280.5C1694.2,275.2 1686.3,267.5 1680,262.5C1673.7,257.5 1665.4,253.8 1662,250.5C1658.6,247.2 1657.9,243.8 1659.6,242.5Z" fill="#efe3b2" stroke="#e5d89e" stroke-width="1"/>
<path d="M1650,245C1655,247.8 1669.2,253.9 1680,262C1690.8,270.1 1708.8,288.2 1714.5,293.5" fill="none" stroke="#f8f5ec" stroke-width="1.8"/>
<rect x="1630" y="466" width="90" height="42" fill="url(#muscFade)"/>
<path d="M1806,606C1802.3,608.7 1810.3,620.7 1814,628C1817.7,635.3 1823.7,643.5 1828.3,650C1832.9,656.5 1838.2,665.8 1841.8,667C1845.4,668.2 1849.8,662.2 1850,657C1850.2,651.8 1845.3,643.5 1843,636C1840.7,628.5 1842.2,617 1836,612C1829.8,607 1809.7,603.3 1806,606Z" fill="#f0b9bf" stroke="#e6a5ad" stroke-width="1"/>
<path d="M1811.5,599.4C1814,595 1821.9,591.6 1830,590C1838.1,588.4 1850.8,589 1860,590C1869.2,591 1880.1,592.8 1885.4,596C1890.7,599.2 1892.6,603.9 1892,609.5C1891.4,615.1 1888.1,625.2 1882,629.7C1875.9,634.2 1863,635.9 1855.2,636.4C1847.4,636.9 1841.7,636.4 1835,633C1828.3,629.6 1818.9,621.8 1815,616.2C1811.1,610.6 1809,603.8 1811.5,599.4Z" fill="#eab0b7" stroke="#e6a5ad" stroke-width="1"/>
<path d="M1818,604C1821.7,603.2 1832.2,600 1840,599C1847.8,598 1857,597.3 1865,598C1873,598.7 1884.2,602.2 1888,603" fill="none" stroke="#d98f99" stroke-width="0.9" opacity="0.8"/>
<path d="M1819.5,609.2C1822.9,608.4 1832.4,605.2 1840,604.2C1847.6,603.2 1857.2,602.5 1865,603.2C1872.8,603.9 1883.2,607.4 1886.8,608.2" fill="none" stroke="#d98f99" stroke-width="0.9" opacity="0.8"/>
<path d="M1821,614.4C1824.2,613.6 1832.7,610.4 1840,609.4C1847.3,608.4 1857.4,607.7 1865,608.4C1872.6,609.1 1882.2,612.6 1885.6,613.4" fill="none" stroke="#d98f99" stroke-width="0.9" opacity="0.8"/>
<path d="M1822.5,619.6C1825.4,618.8 1832.9,615.6 1840,614.6C1847.1,613.6 1857.6,612.9 1865,613.6C1872.4,614.3 1881.2,617.8 1884.4,618.6" fill="none" stroke="#d98f99" stroke-width="0.9" opacity="0.8"/>
<path d="M1824,624.8C1826.7,624 1833.2,620.8 1840,619.8C1846.8,618.8 1857.8,618.1 1865,618.8C1872.2,619.5 1880.2,623 1883.2,623.8" fill="none" stroke="#d98f99" stroke-width="0.9" opacity="0.8"/>
<path d="M1825.5,630C1827.9,629.2 1833.4,626 1840,625C1846.6,624 1858,623.3 1865,624C1872,624.7 1879.2,628.2 1882,629" fill="none" stroke="#d98f99" stroke-width="0.9" opacity="0.8"/>
<path d="M1827,635.2C1829.2,634.4 1833.7,631.2 1840,630.2C1846.3,629.2 1858.2,628.5 1865,629.2C1871.8,629.9 1878.2,633.4 1880.8,634.2" fill="none" stroke="#d98f99" stroke-width="0.9" opacity="0.8"/>
<path d="M1682.3,529C1683.4,524 1684.9,515.6 1688,510C1691.1,504.4 1696,499.7 1700.7,495.4C1705.4,491.1 1710.4,487.4 1716,484C1721.6,480.6 1728,477.9 1734.3,475.2C1740.6,472.5 1747.3,469.9 1754,468C1760.7,466.1 1767.6,464.7 1774.6,463.5C1781.6,462.3 1788.7,461.3 1796,461C1803.3,460.7 1810.8,461 1818.3,461.8C1825.8,462.6 1833.7,463.8 1841,466C1848.3,468.2 1855.5,471.9 1862,475.2C1868.5,478.5 1874.4,482.1 1880,486C1885.6,489.9 1890.8,493.7 1895.5,498.7C1900.2,503.7 1904.7,509.9 1908,516C1911.3,522.1 1913.8,529.4 1915.6,535.6C1917.3,541.8 1918.2,547.4 1918.5,553C1918.8,558.6 1918.5,564.2 1917.3,569.2C1916,574.2 1913.5,579.1 1911,583C1908.5,586.9 1906.5,590.4 1902.2,592.7C1897.9,595 1891.6,596.8 1885.4,597C1879.2,597.2 1872.6,594.2 1865,594C1857.4,593.8 1847.8,594.3 1840,596C1832.2,597.7 1825,601.8 1818,604C1811,606.2 1804.3,608.7 1798,609.5C1791.7,610.3 1786.2,609.6 1780,609C1773.8,608.4 1766.5,607.2 1761,606C1755.5,604.8 1750.9,603.7 1747,602C1743.1,600.3 1740.1,599.2 1737.7,596C1735.3,592.8 1732,587.1 1732.6,582.6C1733.1,578.1 1742.1,570.8 1741,569.2C1739.9,567.6 1731,572.1 1726,573C1721,573.9 1715.5,575 1710.8,574.3C1706.1,573.6 1701.3,571 1698,569C1694.7,567 1693,565.3 1690.7,562.5C1688.4,559.7 1685.5,555.8 1684,552C1682.5,548.2 1681.8,543.8 1681.5,540C1681.2,536.2 1681.2,534 1682.3,529Z" fill="#f5c8cc" stroke="#eab3ba" stroke-width="1.2"/>
<path d="M1880,500C1884.5,495.8 1898.8,510.8 1905,520C1911.2,529.2 1916.5,543.7 1917,555C1917.5,566.3 1912.8,581.2 1908,588C1903.2,594.8 1894.3,597.3 1888,596C1881.7,594.7 1871.7,588.5 1870,580C1868.3,571.5 1876.3,558.3 1878,545C1879.7,531.7 1875.5,504.2 1880,500Z" fill="#efb6bd" opacity="0.6"/>
<path d="M1741,569C1745.5,564.7 1751.8,559.5 1760,556C1768.2,552.5 1779.2,549.3 1790,548C1800.8,546.7 1813.7,546.7 1825,548C1836.3,549.3 1848.8,552.3 1858,556C1867.2,559.7 1875.5,564.3 1880,570C1884.5,575.7 1888,586 1885,590C1882,594 1869.8,592.8 1862,594C1854.2,595.2 1845.8,595.2 1838,597C1830.2,598.8 1823,603 1815,605C1807,607 1799,608.8 1790,609C1781,609.2 1769.7,608.2 1761,606C1752.3,603.8 1742.7,600 1738,596C1733.3,592 1732.5,586.5 1733,582C1733.5,577.5 1736.5,573.3 1741,569Z" fill="#f5c8cd" stroke="#e6a5ad" stroke-width="1.1"/>
<path d="M1690,540C1691.7,536.7 1695.7,525 1700,520C1704.3,515 1711,510.7 1716,510C1721,509.3 1726.3,512.7 1730,516C1733.7,519.3 1736.7,527.7 1738,530" fill="none" stroke="#e6a5ad" stroke-width="1.3" stroke-linecap="round"/>
<path d="M1704,560C1705.3,557.3 1708.3,547.7 1712,544C1715.7,540.3 1721.3,538 1726,538C1730.7,538 1737.7,543 1740,544" fill="none" stroke="#e6a5ad" stroke-width="1.3" stroke-linecap="round"/>
<path d="M1716,492C1718.3,493.3 1725,499.3 1730,500C1735,500.7 1741.7,498.7 1746,496C1750.3,493.3 1754.3,486 1756,484" fill="none" stroke="#e6a5ad" stroke-width="1.3" stroke-linecap="round"/>
<path d="M1742,474C1743.3,476.7 1746,485.3 1750,490C1754,494.7 1763.7,497 1766,502C1768.3,507 1766.3,514.7 1764,520C1761.7,525.3 1754,531.7 1752,534" fill="none" stroke="#e6a5ad" stroke-width="1.3" stroke-linecap="round"/>
<path d="M1766,470C1767.7,472.7 1771.7,482 1776,486C1780.3,490 1788.7,489.7 1792,494C1795.3,498.3 1797,506.3 1796,512C1795,517.7 1787,522.7 1786,528C1785,533.3 1789.3,541.3 1790,544" fill="none" stroke="#e6a5ad" stroke-width="1.3" stroke-linecap="round"/>
<path d="M1800,464C1801,466.7 1802.3,476 1806,480C1809.7,484 1818.7,483.7 1822,488C1825.3,492.3 1827,500.3 1826,506C1825,511.7 1816.7,516.3 1816,522C1815.3,527.7 1821,537 1822,540" fill="none" stroke="#e6a5ad" stroke-width="1.3" stroke-linecap="round"/>
<path d="M1832,468C1833,470.7 1834.7,479.7 1838,484C1841.3,488.3 1849.7,489.3 1852,494C1854.3,498.7 1853.7,506.7 1852,512C1850.3,517.3 1843.7,523.7 1842,526" fill="none" stroke="#e6a5ad" stroke-width="1.3" stroke-linecap="round"/>
<path d="M1860,478C1860.3,481 1859.3,491 1862,496C1864.7,501 1874.3,503 1876,508C1877.7,513 1875,521 1872,526C1869,531 1860.3,536 1858,538" fill="none" stroke="#e6a5ad" stroke-width="1.3" stroke-linecap="round"/>
<path d="M1884,494C1885,497 1887,507 1890,512C1893,517 1900.7,518.7 1902,524C1903.3,529.3 1901,539.3 1898,544C1895,548.7 1886.3,550.7 1884,552" fill="none" stroke="#e6a5ad" stroke-width="1.3" stroke-linecap="round"/>
<path d="M1908,530C1907.3,533.3 1903.7,543.7 1904,550C1904.3,556.3 1910.7,562.3 1910,568C1909.3,573.7 1901.7,581.3 1900,584" fill="none" stroke="#e6a5ad" stroke-width="1.3" stroke-linecap="round"/>
<path d="M1762,540C1764.3,539 1771.3,534 1776,534C1780.7,534 1787.7,539 1790,540" fill="none" stroke="#e6a5ad" stroke-width="1.3" stroke-linecap="round"/>
<path d="M1830,536C1832.7,536.7 1841,540.3 1846,540C1851,539.7 1855.3,533.7 1860,534C1864.7,534.3 1871.7,540.7 1874,542" fill="none" stroke="#e6a5ad" stroke-width="1.3" stroke-linecap="round"/>
<path d="M1756,576C1759.3,575 1769,570.3 1776,570C1783,569.7 1791,574 1798,574C1805,574 1811,570 1818,570C1825,570 1833,573.7 1840,574C1847,574.3 1856.7,572.3 1860,572" fill="none" stroke="#e6a5ad" stroke-width="1.3" stroke-linecap="round"/>
<path d="M1750,592C1753.7,591.7 1764.7,589.7 1772,590C1779.3,590.3 1786.7,594 1794,594C1801.3,594 1812.3,590.7 1816,590" fill="none" stroke="#e6a5ad" stroke-width="1.3" stroke-linecap="round"/>
<path d="M1730,526C1732.3,525 1740,523 1744,520C1748,517 1752.3,510 1754,508" fill="none" stroke="#e6a5ad" stroke-width="1.3" stroke-linecap="round"/>
<path d="M1776,508C1775,510.3 1769.7,517.7 1770,522C1770.3,526.3 1776.7,532 1778,534" fill="none" stroke="#e6a5ad" stroke-width="1.3" stroke-linecap="round"/>
<path d="M1694,508C1696,507.3 1702.3,506 1706,504C1709.7,502 1714.3,497.3 1716,496" fill="none" stroke="#e6a5ad" stroke-width="1.3" stroke-linecap="round"/>
<path d="M1686,548C1688,548.7 1694.3,552.3 1698,552C1701.7,551.7 1706.3,547 1708,546" fill="none" stroke="#e6a5ad" stroke-width="1.3" stroke-linecap="round"/>
<path d="M1722,556C1724,556.7 1730,560.7 1734,560C1738,559.3 1742,552.7 1746,552C1750,551.3 1756,555.3 1758,556" fill="none" stroke="#e6a5ad" stroke-width="1.3" stroke-linecap="round"/>
<path d="M1738,488C1737.3,490.3 1733.3,498 1734,502C1734.7,506 1740.7,510.3 1742,512" fill="none" stroke="#e6a5ad" stroke-width="1.3" stroke-linecap="round"/>
<path d="M1784,466C1784.7,468 1785.3,475 1788,478C1790.7,481 1798,483 1800,484" fill="none" stroke="#e6a5ad" stroke-width="1.3" stroke-linecap="round"/>
<path d="M1812,466C1812.7,467.7 1815.3,474.3 1816,476" fill="none" stroke="#e6a5ad" stroke-width="1.3" stroke-linecap="round"/>
<path d="M1846,470C1846.3,472 1846,478.7 1848,482C1850,485.3 1856.3,488.7 1858,490" fill="none" stroke="#e6a5ad" stroke-width="1.3" stroke-linecap="round"/>
<path d="M1806,520C1805,522 1799.7,528 1800,532C1800.3,536 1806.7,542 1808,544" fill="none" stroke="#e6a5ad" stroke-width="1.3" stroke-linecap="round"/>
<path d="M1836,500C1837.7,501 1842.3,505.7 1846,506C1849.7,506.3 1856,502.7 1858,502" fill="none" stroke="#e6a5ad" stroke-width="1.3" stroke-linecap="round"/>
<path d="M1840,522C1842,523 1848,528 1852,528C1856,528 1862,523 1864,522" fill="none" stroke="#e6a5ad" stroke-width="1.3" stroke-linecap="round"/>
<path d="M1872,486C1873.3,488 1876.7,495 1880,498C1883.3,501 1890,503 1892,504" fill="none" stroke="#e6a5ad" stroke-width="1.3" stroke-linecap="round"/>
<path d="M1876,536C1878,537.3 1884.7,540.7 1888,544C1891.3,547.3 1895.7,552 1896,556C1896.3,560 1891,566 1890,568" fill="none" stroke="#e6a5ad" stroke-width="1.3" stroke-linecap="round"/>
<path d="M1866,556C1868,557 1875,559 1878,562C1881,565 1883,572 1884,574" fill="none" stroke="#e6a5ad" stroke-width="1.3" stroke-linecap="round"/>
<path d="M1896,574C1897.3,572.7 1901.3,569 1904,566C1906.7,563 1910.7,557.7 1912,556" fill="none" stroke="#e6a5ad" stroke-width="1.3" stroke-linecap="round"/>
<path d="M1768,588C1771,587.3 1780,584 1786,584C1792,584 1797.7,588 1804,588C1810.3,588 1817,584 1824,584C1831,584 1842.3,587.3 1846,588" fill="none" stroke="#e6a5ad" stroke-width="1.3" stroke-linecap="round"/>
<path d="M1742,584C1744.3,583.3 1751.7,580 1756,580C1760.3,580 1766,583.3 1768,584" fill="none" stroke="#e6a5ad" stroke-width="1.3" stroke-linecap="round"/>
<path d="M1712,520C1713.3,521.7 1719.3,526.3 1720,530C1720.7,533.7 1716.7,540 1716,542" fill="none" stroke="#e6a5ad" stroke-width="1.3" stroke-linecap="round"/>
<path d="M1690,540C1691.7,536.7 1695.7,525 1700,520C1704.3,515 1711,510.7 1716,510C1721,509.3 1726.3,512.7 1730,516C1733.7,519.3 1736.7,527.7 1738,530" fill="none" stroke="#fbe5e7" stroke-width="2.2" stroke-linecap="round" opacity="0.8" transform="translate(3,3)"/>
<path d="M1704,560C1705.3,557.3 1708.3,547.7 1712,544C1715.7,540.3 1721.3,538 1726,538C1730.7,538 1737.7,543 1740,544" fill="none" stroke="#fbe5e7" stroke-width="2.2" stroke-linecap="round" opacity="0.8" transform="translate(3,3)"/>
<path d="M1716,492C1718.3,493.3 1725,499.3 1730,500C1735,500.7 1741.7,498.7 1746,496C1750.3,493.3 1754.3,486 1756,484" fill="none" stroke="#fbe5e7" stroke-width="2.2" stroke-linecap="round" opacity="0.8" transform="translate(3,3)"/>
<path d="M1742,474C1743.3,476.7 1746,485.3 1750,490C1754,494.7 1763.7,497 1766,502C1768.3,507 1766.3,514.7 1764,520C1761.7,525.3 1754,531.7 1752,534" fill="none" stroke="#fbe5e7" stroke-width="2.2" stroke-linecap="round" opacity="0.8" transform="translate(3,3)"/>
<path d="M1766,470C1767.7,472.7 1771.7,482 1776,486C1780.3,490 1788.7,489.7 1792,494C1795.3,498.3 1797,506.3 1796,512C1795,517.7 1787,522.7 1786,528C1785,533.3 1789.3,541.3 1790,544" fill="none" stroke="#fbe5e7" stroke-width="2.2" stroke-linecap="round" opacity="0.8" transform="translate(3,3)"/>
<path d="M1800,464C1801,466.7 1802.3,476 1806,480C1809.7,484 1818.7,483.7 1822,488C1825.3,492.3 1827,500.3 1826,506C1825,511.7 1816.7,516.3 1816,522C1815.3,527.7 1821,537 1822,540" fill="none" stroke="#fbe5e7" stroke-width="2.2" stroke-linecap="round" opacity="0.8" transform="translate(3,3)"/>
<path d="M1832,468C1833,470.7 1834.7,479.7 1838,484C1841.3,488.3 1849.7,489.3 1852,494C1854.3,498.7 1853.7,506.7 1852,512C1850.3,517.3 1843.7,523.7 1842,526" fill="none" stroke="#fbe5e7" stroke-width="2.2" stroke-linecap="round" opacity="0.8" transform="translate(3,3)"/>
<path d="M1860,478C1860.3,481 1859.3,491 1862,496C1864.7,501 1874.3,503 1876,508C1877.7,513 1875,521 1872,526C1869,531 1860.3,536 1858,538" fill="none" stroke="#fbe5e7" stroke-width="2.2" stroke-linecap="round" opacity="0.8" transform="translate(3,3)"/>
<path d="M1884,494C1885,497 1887,507 1890,512C1893,517 1900.7,518.7 1902,524C1903.3,529.3 1901,539.3 1898,544C1895,548.7 1886.3,550.7 1884,552" fill="none" stroke="#fbe5e7" stroke-width="2.2" stroke-linecap="round" opacity="0.8" transform="translate(3,3)"/>
<path d="M1908,530C1907.3,533.3 1903.7,543.7 1904,550C1904.3,556.3 1910.7,562.3 1910,568C1909.3,573.7 1901.7,581.3 1900,584" fill="none" stroke="#fbe5e7" stroke-width="2.2" stroke-linecap="round" opacity="0.8" transform="translate(3,3)"/>
<circle cx="1785" cy="741" r="24" fill="#e5e7c1" stroke="#d3d5a6" stroke-width="2"/>
<path d="M1770.1,738.6C1770.5,737.3 1771.2,733 1772.5,730.9C1773.8,728.8 1776.9,726.9 1777.8,726.1" fill="none" stroke="#f0f1d6" stroke-width="2.2" stroke-linecap="round" opacity="0.8"/>
<circle cx="1860.7" cy="720" r="25.7" fill="#e5e7c1" stroke="#d3d5a6" stroke-width="2"/>
<path d="M1844.8,717.4C1845.2,716.1 1846,711.4 1847.3,709.2C1848.7,707 1852,704.9 1853,704.1" fill="none" stroke="#f0f1d6" stroke-width="2.2" stroke-linecap="round" opacity="0.8"/>
<circle cx="1954" cy="736.3" r="25" fill="#e5e7c1" stroke="#d3d5a6" stroke-width="2"/>
<path d="M1938.5,733.8C1938.9,732.5 1939.7,728 1941,725.8C1942.3,723.6 1945.6,721.6 1946.5,720.8" fill="none" stroke="#f0f1d6" stroke-width="2.2" stroke-linecap="round" opacity="0.8"/>
<circle cx="1770.6" cy="797.4" r="25.7" fill="#e5e7c1" stroke="#d3d5a6" stroke-width="2"/>
<path d="M1754.7,794.8C1755.1,793.5 1755.9,788.8 1757.2,786.6C1758.6,784.4 1761.9,782.3 1762.9,781.5" fill="none" stroke="#f0f1d6" stroke-width="2.2" stroke-linecap="round" opacity="0.8"/>
<circle cx="1950.7" cy="802.3" r="25.7" fill="#e5e7c1" stroke="#d3d5a6" stroke-width="2"/>
<path d="M1934.8,799.7C1935.2,798.4 1936,793.7 1937.3,791.5C1938.7,789.3 1942,787.2 1943,786.4" fill="none" stroke="#f0f1d6" stroke-width="2.2" stroke-linecap="round" opacity="0.8"/>
<circle cx="1796.3" cy="858.6" r="26.5" fill="#e5e7c1" stroke="#d3d5a6" stroke-width="2"/>
<path d="M1779.9,856C1780.3,854.5 1781.1,849.8 1782.5,847.5C1783.9,845.2 1787.4,843.1 1788.3,842.2" fill="none" stroke="#f0f1d6" stroke-width="2.2" stroke-linecap="round" opacity="0.8"/>
<circle cx="1878.4" cy="877.9" r="27.3" fill="#e5e7c1" stroke="#d3d5a6" stroke-width="2"/>
<path d="M1861.5,875.2C1861.9,873.7 1862.7,868.8 1864.2,866.4C1865.7,864.1 1869.2,861.9 1870.2,861" fill="none" stroke="#f0f1d6" stroke-width="2.2" stroke-linecap="round" opacity="0.8"/>
<circle cx="1836.5" cy="824.8" r="25.7" fill="#e5e7c1" stroke="#d3d5a6" stroke-width="2"/>
<path d="M1820.6,822.2C1821,820.9 1821.8,816.2 1823.1,814C1824.5,811.8 1827.8,809.7 1828.8,808.9" fill="none" stroke="#f0f1d6" stroke-width="2.2" stroke-linecap="round" opacity="0.8"/>
<circle cx="1891" cy="808.7" r="25.7" fill="#e5e7c1" stroke="#d3d5a6" stroke-width="2"/>
<path d="M1875.1,806.1C1875.5,804.8 1876.3,800.1 1877.6,797.9C1879,795.7 1882.3,793.6 1883.3,792.8" fill="none" stroke="#f0f1d6" stroke-width="2.2" stroke-linecap="round" opacity="0.8"/>
<circle cx="1830" cy="770" r="24" fill="#e5e7c1" stroke="#d3d5a6" stroke-width="2"/>
<path d="M1815.1,767.6C1815.5,766.3 1816.2,762 1817.5,759.9C1818.8,757.8 1821.9,755.9 1822.8,755.1" fill="none" stroke="#f0f1d6" stroke-width="2.2" stroke-linecap="round" opacity="0.8"/>
<circle cx="1909" cy="763.7" r="24" fill="#e5e7c1" stroke="#d3d5a6" stroke-width="2"/>
<path d="M1894.1,761.3C1894.5,760 1895.2,755.7 1896.5,753.6C1897.8,751.5 1900.9,749.6 1901.8,748.8" fill="none" stroke="#f0f1d6" stroke-width="2.2" stroke-linecap="round" opacity="0.8"/>
<circle cx="1827.7" cy="729.9" r="25.7" fill="url(#fatG)" stroke="#c9a95f" stroke-width="3.6"/>
<ellipse cx="1845.6" cy="713.7" rx="2.6" ry="5.2" fill="#a5812f" transform="rotate(-42.1 1845.6 713.7)" opacity="0.85"/>
<path d="M1810.6,722.8C1811.4,721.6 1813.4,717.8 1815.4,716C1817.4,714.2 1821.4,712.7 1822.6,712" fill="none" stroke="#fffbe3" stroke-width="3" stroke-linecap="round" opacity="0.9"/>
<circle cx="1900.9" cy="724.2" r="27.4" fill="url(#fatG)" stroke="#c9a95f" stroke-width="3.6"/>
<ellipse cx="1875.4" cy="720.2" rx="2.6" ry="5.2" fill="#a5812f" transform="rotate(-171.2 1875.4 720.2)" opacity="0.85"/>
<path d="M1909.5,742C1908,742.3 1903.8,743.9 1900.9,743.9C1898,743.9 1893.8,742.3 1892.3,742" fill="none" stroke="#fffbe3" stroke-width="3" stroke-linecap="round" opacity="0.9"/>
<circle cx="1807.6" cy="795" r="27.4" fill="url(#fatG)" stroke="#c9a95f" stroke-width="3.6"/>
<ellipse cx="1782.1" cy="790.9" rx="2.6" ry="5.2" fill="#a5812f" transform="rotate(-170.8 1782.1 790.9)" opacity="0.85"/>
<path d="M1811.8,814.3C1810.3,814.3 1805.7,814.8 1803,814.2C1800.2,813.5 1796.4,810.9 1795.1,810.2" fill="none" stroke="#fffbe3" stroke-width="3" stroke-linecap="round" opacity="0.9"/>
<circle cx="1870.3" cy="779.7" r="27.4" fill="url(#fatG)" stroke="#c9a95f" stroke-width="3.6"/>
<ellipse cx="1845" cy="774.7" rx="2.6" ry="5.2" fill="#a5812f" transform="rotate(-168.8 1845 774.7)" opacity="0.85"/>
<path d="M1872.8,799.3C1871.4,799.1 1866.8,799.3 1864.1,798.4C1861.4,797.5 1857.8,794.6 1856.5,793.8" fill="none" stroke="#fffbe3" stroke-width="3" stroke-linecap="round" opacity="0.9"/>
<circle cx="1934.7" cy="778.1" r="22.4" fill="url(#fatG)" stroke="#c9a95f" stroke-width="3.6"/>
<ellipse cx="1950" cy="792.2" rx="2.6" ry="5.2" fill="#a5812f" transform="rotate(42.5 1950 792.2)" opacity="0.85"/>
<path d="M1943,764C1943.9,764.9 1947,767.1 1948.3,769C1949.6,771 1950.4,774.7 1950.9,775.9" fill="none" stroke="#fffbe3" stroke-width="3" stroke-linecap="round" opacity="0.9"/>
<circle cx="1863.9" cy="840.9" r="27.4" fill="url(#fatG)" stroke="#c9a95f" stroke-width="3.6"/>
<ellipse cx="1848.3" cy="861.5" rx="2.6" ry="5.2" fill="#a5812f" transform="rotate(127.1 1848.3 861.5)" opacity="0.85"/>
<path d="M1879.1,853.5C1877.9,854.4 1874.7,857.7 1872.1,858.9C1869.5,860 1864.9,860.3 1863.4,860.6" fill="none" stroke="#fffbe3" stroke-width="3" stroke-linecap="round" opacity="0.9"/>
<circle cx="1924.2" cy="842.5" r="27.4" fill="url(#fatG)" stroke="#c9a95f" stroke-width="3.6"/>
<ellipse cx="1943.7" cy="859.4" rx="2.6" ry="5.2" fill="#a5812f" transform="rotate(40.9 1943.7 859.4)" opacity="0.85"/>
<path d="M1937.5,827.9C1938.3,829.1 1941.4,832.5 1942.5,835.2C1943.6,837.8 1943.6,842.4 1943.9,843.9" fill="none" stroke="#fffbe3" stroke-width="3" stroke-linecap="round" opacity="0.9"/>
<path d="M1738.3,927.5C1749.2,925.9 1762.1,926.6 1771.9,926.8C1781.7,927 1790.9,928 1797,928.9C1803.1,929.8 1805.3,931.6 1808.3,932.4C1811.3,933.2 1812.4,934 1815.2,933.8C1818,933.6 1818.2,931.5 1825,931C1831.8,930.5 1843.7,931 1855.8,931C1867.9,931 1887.3,930.3 1897.8,931C1908.3,931.7 1913.6,933.1 1918.7,935.2C1923.8,937.3 1928,940.1 1928.5,943.6C1929,947.1 1925.2,951.8 1921.5,956.2C1917.8,960.6 1910.6,965.1 1906.2,970C1901.8,974.9 1898.7,979.7 1895,985.5C1891.3,991.3 1889.2,999.6 1883.8,1005C1878.4,1010.4 1869.8,1014.7 1862.8,1017.7C1855.8,1020.8 1848.8,1021.7 1841.8,1023.3C1834.8,1024.9 1825.8,1026.5 1820.8,1027.5C1815.8,1028.5 1814.3,1028.5 1812,1029C1809.7,1029.5 1811.2,1026.8 1806.9,1030.3C1802.6,1033.8 1794.1,1045.2 1785.9,1049.9C1777.7,1054.6 1767.2,1055.3 1757.9,1058.3C1748.6,1061.3 1738.1,1064 1729.9,1068C1721.8,1072 1714.8,1077.8 1709,1082C1703.2,1086.2 1699.7,1090.9 1695,1093.2C1690.3,1095.5 1684.5,1096.7 1681,1096C1677.5,1095.3 1674.5,1094.4 1674,1089C1673.5,1083.6 1678.2,1072.6 1678.2,1063.8C1678.2,1055 1675,1045.2 1674,1035.9C1673,1026.6 1671.7,1017.2 1671.9,1007.9C1672.1,998.6 1673,988.8 1675.4,979.9C1677.9,971 1681.5,962 1686.6,954.8C1691.7,947.6 1697.6,941.1 1706.2,936.6C1714.8,932.1 1727.3,929.1 1738.3,927.5Z" fill="#aa4b4b" stroke="#8f3c3d" stroke-width="1.6"/>
<path d="M1676,1092C1676,1094 1680.5,1094.2 1684,1094C1687.5,1093.8 1692.3,1093.3 1697,1091C1701.7,1088.7 1706.2,1083.9 1712,1080C1717.8,1076.1 1731.3,1069 1732,1067.5C1732.7,1066 1721.7,1069.1 1716,1071C1710.3,1072.9 1703.3,1077.2 1698,1079C1692.7,1080.8 1687.7,1079.8 1684,1082C1680.3,1084.2 1676,1090 1676,1092Z" fill="#923e40"/>
<path d="M1803,930.5C1804.2,931.1 1808,933.3 1810,934C1812,934.7 1812.7,935 1815,934.5C1817.3,934 1822.5,931.6 1824,931" fill="none" stroke="#e5a193" stroke-width="2.2"/>
<path d="M1812.6,935C1812.3,939.2 1811,951.7 1810.6,960C1810.2,968.3 1810.1,974.7 1810.3,985C1810.5,995.3 1811.1,1013.4 1811.7,1021.9C1812.3,1030.4 1813.1,1031.8 1814,1036C1814.9,1040.2 1816.8,1045.2 1817.3,1047" fill="none" stroke="#e8a596" stroke-width="4" stroke-linecap="round"/>
<path d="M1690.5,994C1690.9,990 1691.4,977 1693,970C1694.6,963 1696.7,956.8 1700,952C1703.3,947.2 1705.8,943.8 1713,941C1720.2,938.2 1738,936.4 1743,935.5" fill="none" stroke="#c97f7b" stroke-width="4.6" stroke-linecap="round" opacity="0.85"/>
<path d="M1691.5,1011C1691.7,1013 1692.3,1021 1692.5,1023" fill="none" stroke="#c97f7b" stroke-width="3.6" stroke-linecap="round" opacity="0.8"/>
<path d="M1829.5,953C1830.2,951.7 1831.9,946.9 1834,945C1836.1,943.1 1839.3,942.3 1842,941.5C1844.7,940.7 1848.7,940.2 1850,940" fill="none" stroke="#c97f7b" stroke-width="3.6" stroke-linecap="round" opacity="0.8"/>
<path d="M1648,1243C1646,1243.8 1639.3,1245.5 1636,1248C1632.7,1250.5 1630,1253.5 1628,1258C1626,1262.5 1624.5,1268 1624,1275C1623.5,1282 1624.5,1290.2 1625,1300C1625.5,1309.8 1626.7,1328.3 1627,1334" fill="none" stroke="#b88d3e" stroke-width="12.5" stroke-linecap="butt"/>
<path d="M1648,1243C1646,1243.8 1639.3,1245.5 1636,1248C1632.7,1250.5 1630,1253.5 1628,1258C1626,1262.5 1624.5,1268 1624,1275C1623.5,1282 1624.5,1290.2 1625,1300C1625.5,1309.8 1626.7,1328.3 1627,1334" fill="none" stroke="#d4aa52" stroke-width="9.5" stroke-linecap="butt"/>
<path d="M1626,1258C1625.3,1260.8 1622.5,1268 1622,1275C1621.5,1282 1622.5,1290.2 1623,1300C1623.5,1309.8 1624.7,1328.3 1625,1334" fill="none" stroke="#e2c06a" stroke-width="2.5" stroke-linecap="round" opacity="0.8"/>
<rect x="1616" y="1322" width="22" height="14" fill="url(#fadeDown)"/>
<path d="M1609,1235 L1648,1242" fill="none" stroke="#765ac0" stroke-width="9.8"/>
<path d="M1632,1240 L1648,1250" fill="none" stroke="#6a50b0" stroke-width="4"/>
<path d="M1604,1223 L1646,1221.5" fill="none" stroke="#d83c47" stroke-width="9"/>
<ellipse cx="1604.3" cy="1223" rx="2.2" ry="4.4" fill="#9e2630"/>
<path d="M1632,1221 L1648,1212 M1634,1224 L1650,1232" fill="none" stroke="#d83c47" stroke-width="3.5"/>
<path d="M1662,1141.3C1666.8,1141.1 1674.5,1140.6 1680,1141.5C1685.5,1142.4 1690,1143.9 1695,1146.5C1700,1149.1 1705.5,1152.8 1710,1157C1714.5,1161.2 1718.8,1166.8 1722.3,1172C1725.8,1177.2 1728.5,1182.5 1731,1188C1733.5,1193.5 1735.7,1199 1737.3,1205C1738.9,1211 1740,1217.7 1740.5,1224C1741,1230.3 1740.6,1236.4 1740.3,1242.7C1740,1249 1739.5,1255.7 1738.5,1262C1737.5,1268.3 1736.2,1274.5 1734.3,1280.3C1732.4,1286.1 1729.8,1292 1727,1297C1724.2,1302 1721.6,1306.2 1717.8,1310.4C1714,1314.6 1709,1319 1704,1322C1699,1325 1693,1327.2 1687.7,1328.4C1682.4,1329.6 1677,1329.5 1672,1329C1667,1328.5 1661.8,1327.3 1657.6,1325.4C1653.4,1323.5 1650,1320.5 1647,1317.5C1644,1314.5 1641.6,1311.3 1639.6,1307.4C1637.6,1303.5 1636,1298.5 1635,1294C1634,1289.5 1633.8,1284.5 1633.6,1280.3C1633.4,1276.1 1633.5,1272.5 1634,1269C1634.5,1265.5 1635.6,1262.3 1636.6,1259.3C1637.6,1256.3 1638.8,1253.5 1640,1251C1641.2,1248.5 1643.2,1246.7 1644,1244C1644.8,1241.3 1644.7,1238 1644.5,1235C1644.3,1232 1643.4,1229 1642.6,1226C1641.8,1223 1640.8,1219.7 1639.5,1217C1638.2,1214.3 1636.9,1212.2 1635,1209.7C1633.1,1207.2 1630.2,1204.5 1628,1202C1625.8,1199.5 1623.1,1197.1 1621.6,1194.6C1620.1,1192.1 1619.5,1189.5 1619,1187C1618.5,1184.5 1618.3,1182.6 1618.6,1179.6C1618.8,1176.6 1619.5,1172.3 1620.5,1169C1621.5,1165.7 1622.7,1162.8 1624.6,1160C1626.5,1157.2 1629.3,1154.2 1632,1152C1634.7,1149.8 1637.8,1148 1641,1146.5C1644.2,1145 1647.5,1143.7 1651,1142.8C1654.5,1141.9 1657.2,1141.5 1662,1141.3Z" fill="#8a5f57" stroke="#7d5249" stroke-width="1.4"/>
<path d="M1644,1226C1645.3,1223.7 1648.3,1216.2 1652,1212C1655.7,1207.8 1660.7,1203.8 1666,1201C1671.3,1198.2 1681,1196 1684,1195" fill="none" stroke="#744a41" stroke-width="2" opacity="0.7"/>
<path d="M1646,1246C1648.3,1245.7 1655,1244 1660,1244C1665,1244 1671,1244.3 1676,1246C1681,1247.7 1686.5,1251.3 1690,1254C1693.5,1256.7 1695.8,1260.7 1697,1262" fill="none" stroke="#744a41" stroke-width="1.8" opacity="0.6"/>
<path d="M1680,1246C1680.7,1247.3 1683,1251.3 1684,1254C1685,1256.7 1685.7,1260.7 1686,1262" fill="none" stroke="#744a41" stroke-width="1.4" opacity="0.5"/>
<path d="M1662,1156C1664.3,1155.3 1671,1152 1676,1152C1681,1152 1687.7,1154 1692,1156C1696.3,1158 1700.3,1162.7 1702,1164" fill="none" stroke="#a27870" stroke-width="4" stroke-linecap="round" opacity="0.9"/>
<path d="M1956.2,229.7 L1985,229.7 C2005,229.7 2016.2,240 2016.2,260 L2016.2,756 C2016.2,790 2035,795 2071.3,805.5 C2035,816 2016.2,821 2016.2,855 L2016.2,1351 C2016.2,1371 2005,1381.5 1985,1381.5 L1956.2,1381.5" fill="none" stroke="#1c1c1c" stroke-width="4.6" stroke-linejoin="miter" stroke-miterlimit="10"/>
<text x="270.8" y="108" font-size="93" font-weight="700" textLength="681.3" lengthAdjust="spacingAndGlyphs" fill="#111">Bioaccessibility</text>
<text x="1625.8" y="107.5" font-size="93" font-weight="700" textLength="458.3" lengthAdjust="spacingAndGlyphs" fill="#111">Bioactivity</text>
<text x="1311" y="192.5" font-size="52" font-weight="700" textLength="261" lengthAdjust="spacingAndGlyphs" fill="#111">absorption</text>
<text x="1258" y="244" font-size="52" font-weight="700" textLength="379.1" lengthAdjust="spacingAndGlyphs" fill="#111">and distribution</text>
<text x="2135" y="218" font-size="50.5" font-weight="700" textLength="277.2" lengthAdjust="spacingAndGlyphs" fill="#111">Modulation</text>
<text x="2088" y="407.3" font-size="45" textLength="326.1" lengthAdjust="spacingAndGlyphs" fill="#111">Macronutrients</text>
<text x="2123" y="460.1" font-size="45" textLength="256.9" lengthAdjust="spacingAndGlyphs" fill="#111">metabolism</text>
<text x="2147.9" y="707.8" font-size="45" textLength="207.3" lengthAdjust="spacingAndGlyphs" fill="#111">Cognition</text>
<text x="2152.2" y="953.7" font-size="45" textLength="198.7" lengthAdjust="spacingAndGlyphs" fill="#111">Oxidative</text>
<text x="2185.6" y="1006.8" font-size="45" textLength="131.8" lengthAdjust="spacingAndGlyphs" fill="#111">stress</text>
<text x="2118.4" y="1253.6" font-size="45" textLength="288.5" lengthAdjust="spacingAndGlyphs" fill="#111">Inflammation</text>
<text x="804.6" y="520.4" font-size="52" font-weight="700" textLength="384.6" lengthAdjust="spacingAndGlyphs" fill="#111">gut microbiome</text>
<text x="774.4" y="571.9" font-size="52" font-weight="700" textLength="444.5" lengthAdjust="spacingAndGlyphs" fill="#111">biotransformation</text>
</svg>
</body></html>
